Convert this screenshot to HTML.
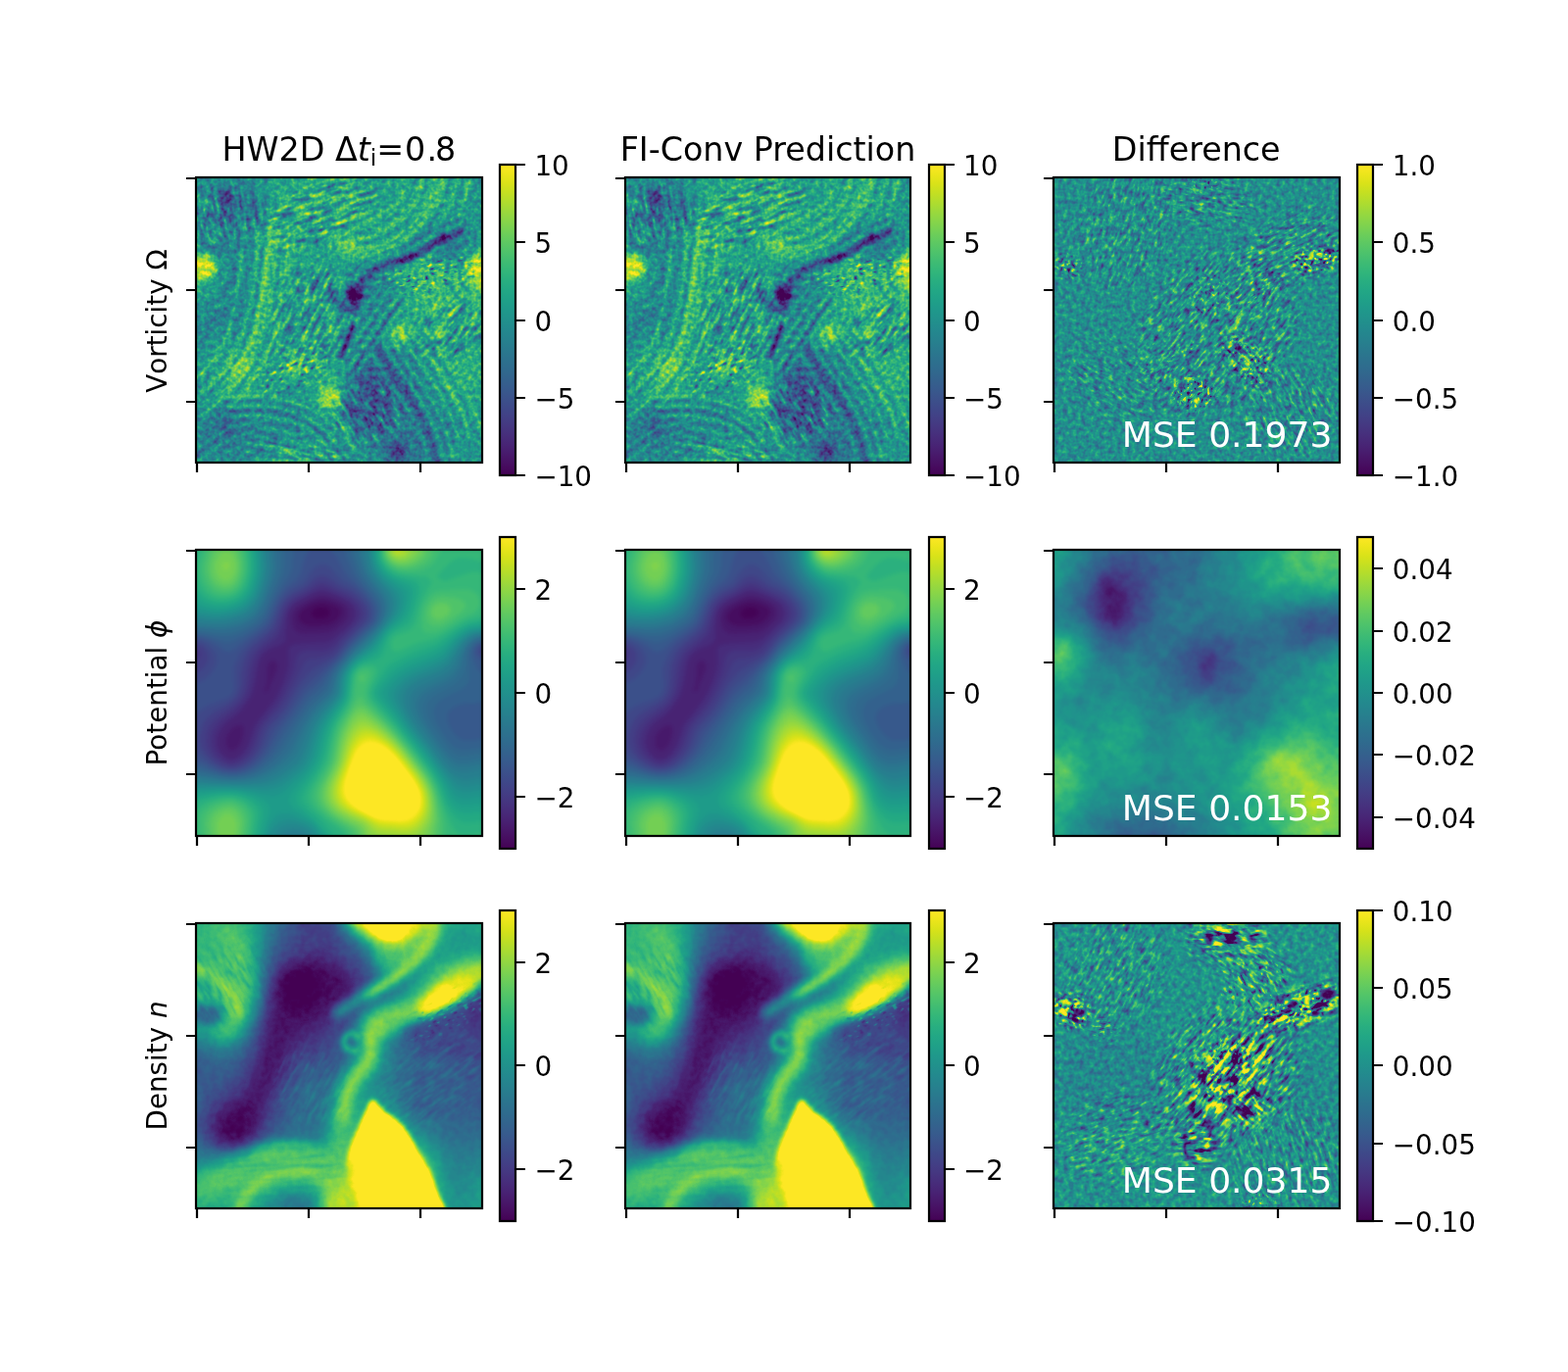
<!DOCTYPE html>
<html lang="en">
<head>
<meta charset="utf-8">
<title>HW2D vs FI-Conv Prediction</title>
<style>
html,body{margin:0;padding:0;background:#fff}
body{width:1600px;height:1400px;overflow:hidden}
svg{display:block}
text{font-family:"DejaVu Sans","Liberation Sans",sans-serif;fill:#000}
.t{font-size:33.33px}
.l{font-size:27.78px}
.m{font-size:36.11px;fill:#fff}
.i{font-style:italic}
.k{stroke:#000;stroke-width:2.222;fill:none}
</style>
</head>
<body>
<svg width="1600" height="1400" viewBox="0 0 1600 1400">
<defs>
<linearGradient id="vg" x1="0" y1="0" x2="0" y2="1"><stop offset="0%" stop-color="#fde725"/><stop offset="3.12%" stop-color="#ece51b"/><stop offset="6.25%" stop-color="#d8e219"/><stop offset="9.38%" stop-color="#c2df23"/><stop offset="12.5%" stop-color="#addc30"/><stop offset="15.62%" stop-color="#98d83e"/><stop offset="18.75%" stop-color="#84d44b"/><stop offset="21.88%" stop-color="#70cf57"/><stop offset="25%" stop-color="#5ec962"/><stop offset="28.12%" stop-color="#4ec36b"/><stop offset="31.25%" stop-color="#3fbc73"/><stop offset="34.38%" stop-color="#32b67a"/><stop offset="37.5%" stop-color="#28ae80"/><stop offset="40.62%" stop-color="#22a785"/><stop offset="43.75%" stop-color="#1fa088"/><stop offset="46.88%" stop-color="#1f988b"/><stop offset="50%" stop-color="#21918c"/><stop offset="53.12%" stop-color="#23898e"/><stop offset="56.25%" stop-color="#26828e"/><stop offset="59.38%" stop-color="#297a8e"/><stop offset="62.5%" stop-color="#2c728e"/><stop offset="65.62%" stop-color="#2f6b8e"/><stop offset="68.75%" stop-color="#33638d"/><stop offset="71.88%" stop-color="#375b8d"/><stop offset="75%" stop-color="#3b528b"/><stop offset="78.12%" stop-color="#3e4989"/><stop offset="81.25%" stop-color="#424086"/><stop offset="84.38%" stop-color="#453781"/><stop offset="87.5%" stop-color="#472d7b"/><stop offset="90.62%" stop-color="#482374"/><stop offset="93.75%" stop-color="#48186a"/><stop offset="96.88%" stop-color="#470d60"/><stop offset="100%" stop-color="#440154"/></linearGradient>
<filter id="cm" x="0" y="0" width="1400" height="1400" filterUnits="userSpaceOnUse" color-interpolation-filters="sRGB"><feComponentTransfer><feFuncR type="table" tableValues=".267 .267 .267 .267 .267 .267 .267 .267 .267 .271 .276 .280 .282 .283 .283 .282 .279 .275 .271 .265 .261 .252 .245 .237 .230 .222 .214 .207 .199 .192 .186 .181 .173 .167 .161 .155 .150 .143 .138 .132 .128 .123 .121 .119 .121 .125 .132 .143 .158 .176 .197 .220 .246 .274 .304 .336 .369 .404 .440 .478 .516 .555 .596 .637 .678 .720 .762 .804 .846 .886 .926 .965 .993 .993 .993 .993 .993 .993 .993 .993 .993"/><feFuncG type="table" tableValues=".005 .005 .005 .005 .005 .005 .005 .005 .005 .020 .044 .073 .095 .116 .136 .151 .175 .195 .214 .233 .247 .270 .288 .305 .322 .339 .356 .372 .388 .403 .419 .430 .449 .464 .479 .493 .504 .523 .537 .552 .567 .582 .596 .611 .626 .640 .655 .669 .684 .698 .712 .726 .739 .752 .765 .777 .789 .800 .811 .821 .831 .840 .849 .857 .864 .870 .876 .882 .887 .892 .897 .902 .906 .906 .906 .906 .906 .906 .906 .906 .906"/><feFuncB type="table" tableValues=".329 .329 .329 .329 .329 .329 .329 .329 .329 .347 .370 .397 .417 .436 .453 .465 .483 .496 .507 .517 .523 .532 .537 .542 .546 .549 .551 .553 .555 .556 .557 .557 .558 .558 .558 .558 .557 .556 .555 .553 .551 .547 .544 .539 .533 .527 .520 .511 .502 .491 .479 .466 .452 .437 .420 .402 .383 .363 .341 .318 .294 .269 .243 .217 .190 .163 .137 .115 .100 .095 .104 .124 .144 .144 .144 .144 .144 .144 .144 .144 .144"/></feComponentTransfer></filter>
<filter id="cmn1" x="0" y="0" width="1400" height="1400" filterUnits="userSpaceOnUse" color-interpolation-filters="sRGB"><feTurbulence type="fractalNoise" baseFrequency="0.014" numOctaves="3" seed="7" result="n"/><feColorMatrix in="n" type="matrix" values="1 0 0 0 0 1 0 0 0 0 1 0 0 0 0 0 0 0 0 1" result="g"/><feComposite in="SourceGraphic" in2="g" operator="arithmetic" k1="0" k2="1" k3="0.112" k4="-0.056"/><feComponentTransfer><feFuncR type="table" tableValues=".267 .267 .267 .267 .267 .267 .267 .267 .267 .271 .276 .280 .282 .283 .283 .282 .279 .275 .271 .265 .261 .252 .245 .237 .230 .222 .214 .207 .199 .192 .186 .181 .173 .167 .161 .155 .150 .143 .138 .132 .128 .123 .121 .119 .121 .125 .132 .143 .158 .176 .197 .220 .246 .274 .304 .336 .369 .404 .440 .478 .516 .555 .596 .637 .678 .720 .762 .804 .846 .886 .926 .965 .993 .993 .993 .993 .993 .993 .993 .993 .993"/><feFuncG type="table" tableValues=".005 .005 .005 .005 .005 .005 .005 .005 .005 .020 .044 .073 .095 .116 .136 .151 .175 .195 .214 .233 .247 .270 .288 .305 .322 .339 .356 .372 .388 .403 .419 .430 .449 .464 .479 .493 .504 .523 .537 .552 .567 .582 .596 .611 .626 .640 .655 .669 .684 .698 .712 .726 .739 .752 .765 .777 .789 .800 .811 .821 .831 .840 .849 .857 .864 .870 .876 .882 .887 .892 .897 .902 .906 .906 .906 .906 .906 .906 .906 .906 .906"/><feFuncB type="table" tableValues=".329 .329 .329 .329 .329 .329 .329 .329 .329 .347 .370 .397 .417 .436 .453 .465 .483 .496 .507 .517 .523 .532 .537 .542 .546 .549 .551 .553 .555 .556 .557 .557 .558 .558 .558 .558 .557 .556 .555 .553 .551 .547 .544 .539 .533 .527 .520 .511 .502 .491 .479 .466 .452 .437 .420 .402 .383 .363 .341 .318 .294 .269 .243 .217 .190 .163 .137 .115 .100 .095 .104 .124 .144 .144 .144 .144 .144 .144 .144 .144 .144"/></feComponentTransfer></filter>
<filter id="cmn2" x="0" y="0" width="1400" height="1400" filterUnits="userSpaceOnUse" color-interpolation-filters="sRGB"><feTurbulence type="fractalNoise" baseFrequency="0.03 0.03" numOctaves="2" seed="19" result="n"/><feColorMatrix in="n" type="matrix" values="1 0 0 0 0 1 0 0 0 0 1 0 0 0 0 0 0 0 0 1" result="g"/><feComposite in="SourceGraphic" in2="g" operator="arithmetic" k1="0" k2="1" k3="0.072" k4="-0.036"/><feComponentTransfer><feFuncR type="table" tableValues=".267 .267 .267 .267 .267 .267 .267 .267 .267 .271 .276 .280 .282 .283 .283 .282 .279 .275 .271 .265 .261 .252 .245 .237 .230 .222 .214 .207 .199 .192 .186 .181 .173 .167 .161 .155 .150 .143 .138 .132 .128 .123 .121 .119 .121 .125 .132 .143 .158 .176 .197 .220 .246 .274 .304 .336 .369 .404 .440 .478 .516 .555 .596 .637 .678 .720 .762 .804 .846 .886 .926 .965 .993 .993 .993 .993 .993 .993 .993 .993 .993"/><feFuncG type="table" tableValues=".005 .005 .005 .005 .005 .005 .005 .005 .005 .020 .044 .073 .095 .116 .136 .151 .175 .195 .214 .233 .247 .270 .288 .305 .322 .339 .356 .372 .388 .403 .419 .430 .449 .464 .479 .493 .504 .523 .537 .552 .567 .582 .596 .611 .626 .640 .655 .669 .684 .698 .712 .726 .739 .752 .765 .777 .789 .800 .811 .821 .831 .840 .849 .857 .864 .870 .876 .882 .887 .892 .897 .902 .906 .906 .906 .906 .906 .906 .906 .906 .906"/><feFuncB type="table" tableValues=".329 .329 .329 .329 .329 .329 .329 .329 .329 .347 .370 .397 .417 .436 .453 .465 .483 .496 .507 .517 .523 .532 .537 .542 .546 .549 .551 .553 .555 .556 .557 .557 .558 .558 .558 .558 .557 .556 .555 .553 .551 .547 .544 .539 .533 .527 .520 .511 .502 .491 .479 .466 .452 .437 .420 .402 .383 .363 .341 .318 .294 .269 .243 .217 .190 .163 .137 .115 .100 .095 .104 .124 .144 .144 .144 .144 .144 .144 .144 .144 .144"/></feComponentTransfer></filter>
<filter id="cmv" x="0" y="0" width="1400" height="1400" filterUnits="userSpaceOnUse" color-interpolation-filters="sRGB"><feTurbulence type="fractalNoise" baseFrequency="0.045 0.045" numOctaves="2" seed="11" result="n"/><feColorMatrix in="n" type="matrix" values="1 0 0 0 0 1 0 0 0 0 1 0 0 0 0 0 0 0 0 1" result="g"/><feComposite in="SourceGraphic" in2="g" operator="arithmetic" k1="0" k2="1" k3="0.4" k4="-0.2"/><feComponentTransfer><feFuncR type="table" tableValues=".267 .267 .267 .267 .267 .267 .267 .267 .267 .271 .276 .280 .282 .283 .283 .282 .279 .275 .271 .265 .261 .252 .245 .237 .230 .222 .214 .207 .199 .192 .186 .181 .173 .167 .161 .155 .150 .143 .138 .132 .128 .123 .121 .119 .121 .125 .132 .143 .158 .176 .197 .220 .246 .274 .304 .336 .369 .404 .440 .478 .516 .555 .596 .637 .678 .720 .762 .804 .846 .886 .926 .965 .993 .993 .993 .993 .993 .993 .993 .993 .993"/><feFuncG type="table" tableValues=".005 .005 .005 .005 .005 .005 .005 .005 .005 .020 .044 .073 .095 .116 .136 .151 .175 .195 .214 .233 .247 .270 .288 .305 .322 .339 .356 .372 .388 .403 .419 .430 .449 .464 .479 .493 .504 .523 .537 .552 .567 .582 .596 .611 .626 .640 .655 .669 .684 .698 .712 .726 .739 .752 .765 .777 .789 .800 .811 .821 .831 .840 .849 .857 .864 .870 .876 .882 .887 .892 .897 .902 .906 .906 .906 .906 .906 .906 .906 .906 .906"/><feFuncB type="table" tableValues=".329 .329 .329 .329 .329 .329 .329 .329 .329 .347 .370 .397 .417 .436 .453 .465 .483 .496 .507 .517 .523 .532 .537 .542 .546 .549 .551 .553 .555 .556 .557 .557 .558 .558 .558 .558 .557 .556 .555 .553 .551 .547 .544 .539 .533 .527 .520 .511 .502 .491 .479 .466 .452 .437 .420 .402 .383 .363 .341 .318 .294 .269 .243 .217 .190 .163 .137 .115 .100 .095 .104 .124 .144 .144 .144 .144 .144 .144 .144 .144 .144"/></feComponentTransfer></filter>
<filter id="cmd" x="0" y="0" width="1400" height="1400" filterUnits="userSpaceOnUse" color-interpolation-filters="sRGB"><feTurbulence type="fractalNoise" baseFrequency="0.045 0.045" numOctaves="2" seed="17" result="n"/><feColorMatrix in="n" type="matrix" values="1 0 0 0 0 1 0 0 0 0 1 0 0 0 0 0 0 0 0 1" result="g"/><feComposite in="SourceGraphic" in2="g" operator="arithmetic" k1="0" k2="1" k3="0.44" k4="-0.22"/><feComponentTransfer><feFuncR type="table" tableValues=".267 .267 .267 .267 .267 .267 .267 .267 .267 .271 .276 .280 .282 .283 .283 .282 .279 .275 .271 .265 .261 .252 .245 .237 .230 .222 .214 .207 .199 .192 .186 .181 .173 .167 .161 .155 .150 .143 .138 .132 .128 .123 .121 .119 .121 .125 .132 .143 .158 .176 .197 .220 .246 .274 .304 .336 .369 .404 .440 .478 .516 .555 .596 .637 .678 .720 .762 .804 .846 .886 .926 .965 .993 .993 .993 .993 .993 .993 .993 .993 .993"/><feFuncG type="table" tableValues=".005 .005 .005 .005 .005 .005 .005 .005 .005 .020 .044 .073 .095 .116 .136 .151 .175 .195 .214 .233 .247 .270 .288 .305 .322 .339 .356 .372 .388 .403 .419 .430 .449 .464 .479 .493 .504 .523 .537 .552 .567 .582 .596 .611 .626 .640 .655 .669 .684 .698 .712 .726 .739 .752 .765 .777 .789 .800 .811 .821 .831 .840 .849 .857 .864 .870 .876 .882 .887 .892 .897 .902 .906 .906 .906 .906 .906 .906 .906 .906 .906"/><feFuncB type="table" tableValues=".329 .329 .329 .329 .329 .329 .329 .329 .329 .347 .370 .397 .417 .436 .453 .465 .483 .496 .507 .517 .523 .532 .537 .542 .546 .549 .551 .553 .555 .556 .557 .557 .558 .558 .558 .558 .557 .556 .555 .553 .551 .547 .544 .539 .533 .527 .520 .511 .502 .491 .479 .466 .452 .437 .420 .402 .383 .363 .341 .318 .294 .269 .243 .217 .190 .163 .137 .115 .100 .095 .104 .124 .144 .144 .144 .144 .144 .144 .144 .144 .144"/></feComponentTransfer></filter>
<filter id="cmd2" x="0" y="0" width="1400" height="1400" filterUnits="userSpaceOnUse" color-interpolation-filters="sRGB"><feTurbulence type="fractalNoise" baseFrequency="0.04 0.04" numOctaves="2" seed="29" result="n"/><feColorMatrix in="n" type="matrix" values="1 0 0 0 0 1 0 0 0 0 1 0 0 0 0 0 0 0 0 1" result="g"/><feComposite in="SourceGraphic" in2="g" operator="arithmetic" k1="0" k2="1" k3="0.4" k4="-0.2"/><feComponentTransfer><feFuncR type="table" tableValues=".267 .267 .267 .267 .267 .267 .267 .267 .267 .271 .276 .280 .282 .283 .283 .282 .279 .275 .271 .265 .261 .252 .245 .237 .230 .222 .214 .207 .199 .192 .186 .181 .173 .167 .161 .155 .150 .143 .138 .132 .128 .123 .121 .119 .121 .125 .132 .143 .158 .176 .197 .220 .246 .274 .304 .336 .369 .404 .440 .478 .516 .555 .596 .637 .678 .720 .762 .804 .846 .886 .926 .965 .993 .993 .993 .993 .993 .993 .993 .993 .993"/><feFuncG type="table" tableValues=".005 .005 .005 .005 .005 .005 .005 .005 .005 .020 .044 .073 .095 .116 .136 .151 .175 .195 .214 .233 .247 .270 .288 .305 .322 .339 .356 .372 .388 .403 .419 .430 .449 .464 .479 .493 .504 .523 .537 .552 .567 .582 .596 .611 .626 .640 .655 .669 .684 .698 .712 .726 .739 .752 .765 .777 .789 .800 .811 .821 .831 .840 .849 .857 .864 .870 .876 .882 .887 .892 .897 .902 .906 .906 .906 .906 .906 .906 .906 .906 .906"/><feFuncB type="table" tableValues=".329 .329 .329 .329 .329 .329 .329 .329 .329 .347 .370 .397 .417 .436 .453 .465 .483 .496 .507 .517 .523 .532 .537 .542 .546 .549 .551 .553 .555 .556 .557 .557 .558 .558 .558 .558 .557 .556 .555 .553 .551 .547 .544 .539 .533 .527 .520 .511 .502 .491 .479 .466 .452 .437 .420 .402 .383 .363 .341 .318 .294 .269 .243 .217 .190 .163 .137 .115 .100 .095 .104 .124 .144 .144 .144 .144 .144 .144 .144 .144 .144"/></feComponentTransfer></filter>
<filter id="bc" x="-300" y="-300" width="2000" height="2000" filterUnits="userSpaceOnUse" color-interpolation-filters="sRGB"><feGaussianBlur stdDeviation="10"/></filter>
<filter id="b4" x="-300" y="-300" width="2000" height="2000" filterUnits="userSpaceOnUse" color-interpolation-filters="sRGB"><feGaussianBlur stdDeviation="4"/></filter>
<filter id="b8" x="-300" y="-300" width="2000" height="2000" filterUnits="userSpaceOnUse" color-interpolation-filters="sRGB"><feGaussianBlur stdDeviation="8"/></filter>
<filter id="b14" x="-300" y="-300" width="2000" height="2000" filterUnits="userSpaceOnUse" color-interpolation-filters="sRGB"><feGaussianBlur stdDeviation="14"/></filter>
<filter id="b22" x="-300" y="-300" width="2000" height="2000" filterUnits="userSpaceOnUse" color-interpolation-filters="sRGB"><feGaussianBlur stdDeviation="22"/></filter>
<filter id="b35" x="-300" y="-300" width="2000" height="2000" filterUnits="userSpaceOnUse" color-interpolation-filters="sRGB"><feGaussianBlur stdDeviation="35"/></filter>
<filter id="b55" x="-300" y="-300" width="2000" height="2000" filterUnits="userSpaceOnUse" color-interpolation-filters="sRGB"><feGaussianBlur stdDeviation="55"/></filter>
<filter id="s1" x="-0.6" y="-0.6" width="2.2" height="2.2" color-interpolation-filters="sRGB"><feTurbulence type="fractalNoise" baseFrequency="0.005 0.04" numOctaves="2" seed="3" result="n"/><feColorMatrix in="n" type="matrix" values="0 0 0 0 1 0 0 0 0 1 0 0 0 0 1 2.6 0 0 0 -1.3" result="w"/><feColorMatrix in="n" type="matrix" values="0 0 0 0 0 0 0 0 0 0 0 0 0 0 0 -2.6 0 0 0 1.3" result="b"/><feMerge result="wb"><feMergeNode in="w"/><feMergeNode in="b"/></feMerge><feGaussianBlur in="SourceAlpha" stdDeviation="40" result="m"/><feComposite in="wb" in2="m" operator="in"/></filter>
<filter id="s2" x="-0.6" y="-0.6" width="2.2" height="2.2" color-interpolation-filters="sRGB"><feTurbulence type="fractalNoise" baseFrequency="0.006 0.05" numOctaves="2" seed="8" result="n"/><feColorMatrix in="n" type="matrix" values="0 0 0 0 1 0 0 0 0 1 0 0 0 0 1 2.6 0 0 0 -1.3" result="w"/><feColorMatrix in="n" type="matrix" values="0 0 0 0 0 0 0 0 0 0 0 0 0 0 0 -2.6 0 0 0 1.3" result="b"/><feMerge result="wb"><feMergeNode in="w"/><feMergeNode in="b"/></feMerge><feGaussianBlur in="SourceAlpha" stdDeviation="40" result="m"/><feComposite in="wb" in2="m" operator="in"/></filter>
<filter id="s3" x="-0.6" y="-0.6" width="2.2" height="2.2" color-interpolation-filters="sRGB"><feTurbulence type="fractalNoise" baseFrequency="0.004 0.032" numOctaves="2" seed="21" result="n"/><feColorMatrix in="n" type="matrix" values="0 0 0 0 1 0 0 0 0 1 0 0 0 0 1 2.2 0 0 0 -1.1" result="w"/><feColorMatrix in="n" type="matrix" values="0 0 0 0 0 0 0 0 0 0 0 0 0 0 0 -2.2 0 0 0 1.1" result="b"/><feMerge result="wb"><feMergeNode in="w"/><feMergeNode in="b"/></feMerge><feGaussianBlur in="SourceAlpha" stdDeviation="40" result="m"/><feComposite in="wb" in2="m" operator="in"/></filter>
<filter id="s4" x="-0.6" y="-0.6" width="2.2" height="2.2" color-interpolation-filters="sRGB"><feTurbulence type="fractalNoise" baseFrequency="0.012 0.045" numOctaves="2" seed="5" result="n"/><feColorMatrix in="n" type="matrix" values="0 0 0 0 1 0 0 0 0 1 0 0 0 0 1 2.4 0 0 0 -1.2" result="w"/><feColorMatrix in="n" type="matrix" values="0 0 0 0 0 0 0 0 0 0 0 0 0 0 0 -2.4 0 0 0 1.2" result="b"/><feMerge result="wb"><feMergeNode in="w"/><feMergeNode in="b"/></feMerge><feGaussianBlur in="SourceAlpha" stdDeviation="40" result="m"/><feComposite in="wb" in2="m" operator="in"/></filter>
<filter id="k1" x="-0.6" y="-0.6" width="2.2" height="2.2" color-interpolation-filters="sRGB"><feTurbulence type="fractalNoise" baseFrequency="0.06 0.06" numOctaves="1" seed="4" result="n"/><feColorMatrix in="n" type="matrix" values="0 0 0 0 1 0 0 0 0 1 0 0 0 0 1 9 0 0 0 -5.4" result="w"/><feColorMatrix in="n" type="matrix" values="0 0 0 0 0 0 0 0 0 0 0 0 0 0 0 -9 0 0 0 3.6" result="b"/><feMerge result="wb"><feMergeNode in="w"/><feMergeNode in="b"/></feMerge><feGaussianBlur in="SourceAlpha" stdDeviation="30" result="m"/><feComposite in="wb" in2="m" operator="in"/></filter>
<filter id="k2" x="-0.6" y="-0.6" width="2.2" height="2.2" color-interpolation-filters="sRGB"><feTurbulence type="fractalNoise" baseFrequency="0.055 0.07" numOctaves="1" seed="9" result="n"/><feColorMatrix in="n" type="matrix" values="0 0 0 0 1 0 0 0 0 1 0 0 0 0 1 10 0 0 0 -5.6" result="w"/><feColorMatrix in="n" type="matrix" values="0 0 0 0 0 0 0 0 0 0 0 0 0 0 0 -10 0 0 0 4.4" result="b"/><feMerge result="wb"><feMergeNode in="w"/><feMergeNode in="b"/></feMerge><feGaussianBlur in="SourceAlpha" stdDeviation="25" result="m"/><feComposite in="wb" in2="m" operator="in"/></filter>
<filter id="k3" x="-0.6" y="-0.6" width="2.2" height="2.2" color-interpolation-filters="sRGB"><feTurbulence type="fractalNoise" baseFrequency="0.035 0.07" numOctaves="1" seed="13" result="n"/><feColorMatrix in="n" type="matrix" values="0 0 0 0 1 0 0 0 0 1 0 0 0 0 1 8 0 0 0 -4.8" result="w"/><feColorMatrix in="n" type="matrix" values="0 0 0 0 0 0 0 0 0 0 0 0 0 0 0 -8 0 0 0 3.2" result="b"/><feMerge result="wb"><feMergeNode in="w"/><feMergeNode in="b"/></feMerge><feGaussianBlur in="SourceAlpha" stdDeviation="35" result="m"/><feComposite in="wb" in2="m" operator="in"/></filter>
<filter id="m1" x="-0.6" y="-0.6" width="2.2" height="2.2" color-interpolation-filters="sRGB"><feTurbulence type="fractalNoise" baseFrequency="0.02 0.06" numOctaves="2" seed="31" result="n"/><feColorMatrix in="n" type="matrix" values="0 0 0 0 1 0 0 0 0 1 0 0 0 0 1 5 0 0 0 -2.65" result="w"/><feColorMatrix in="n" type="matrix" values="0 0 0 0 0 0 0 0 0 0 0 0 0 0 0 -5 0 0 0 2.35" result="b"/><feMerge result="wb"><feMergeNode in="w"/><feMergeNode in="b"/></feMerge><feGaussianBlur in="SourceAlpha" stdDeviation="45" result="m"/><feComposite in="wb" in2="m" operator="in"/></filter>
<filter id="m2" x="-0.6" y="-0.6" width="2.2" height="2.2" color-interpolation-filters="sRGB"><feTurbulence type="fractalNoise" baseFrequency="0.02 0.06" numOctaves="2" seed="37" result="n"/><feColorMatrix in="n" type="matrix" values="0 0 0 0 1 0 0 0 0 1 0 0 0 0 1 5 0 0 0 -2.65" result="w"/><feColorMatrix in="n" type="matrix" values="0 0 0 0 0 0 0 0 0 0 0 0 0 0 0 -5 0 0 0 2.35" result="b"/><feMerge result="wb"><feMergeNode in="w"/><feMergeNode in="b"/></feMerge><feGaussianBlur in="SourceAlpha" stdDeviation="45" result="m"/><feComposite in="wb" in2="m" operator="in"/></filter>
<filter id="c1" x="-0.6" y="-0.6" width="2.2" height="2.2" color-interpolation-filters="sRGB"><feTurbulence type="fractalNoise" baseFrequency="0.012 0.04" numOctaves="2" seed="41" result="n"/><feColorMatrix in="n" type="matrix" values="0 0 0 0 1 0 0 0 0 1 0 0 0 0 1 7 0 0 0 -3.78" result="w"/><feColorMatrix in="n" type="matrix" values="0 0 0 0 0 0 0 0 0 0 0 0 0 0 0 -7 0 0 0 3.22" result="b"/><feMerge result="wb"><feMergeNode in="w"/><feMergeNode in="b"/></feMerge><feGaussianBlur in="SourceAlpha" stdDeviation="35" result="m"/><feComposite in="wb" in2="m" operator="in"/></filter>
<filter id="c2" x="-0.6" y="-0.6" width="2.2" height="2.2" color-interpolation-filters="sRGB"><feTurbulence type="fractalNoise" baseFrequency="0.012 0.04" numOctaves="2" seed="43" result="n"/><feColorMatrix in="n" type="matrix" values="0 0 0 0 1 0 0 0 0 1 0 0 0 0 1 7 0 0 0 -3.78" result="w"/><feColorMatrix in="n" type="matrix" values="0 0 0 0 0 0 0 0 0 0 0 0 0 0 0 -7 0 0 0 3.22" result="b"/><feMerge result="wb"><feMergeNode in="w"/><feMergeNode in="b"/></feMerge><feGaussianBlur in="SourceAlpha" stdDeviation="35" result="m"/><feComposite in="wb" in2="m" operator="in"/></filter>
</defs>
<rect width="1600" height="1400" fill="#fff"/>
<!-- panel r0 c0 -->
<svg x="200" y="180.65" width="291.76" height="291.76" viewBox="0 0 1400 1400" preserveAspectRatio="none" overflow="hidden"><g id="P00"><g filter="url(#cmv)"><g filter="url(#bc)"><rect x="-70" y="-70" width="1540" height="1540" fill="#0a0a0a"/><g transform="scale(14)"><path fill="#141414" d="M-3-3l106 0 0 106-106 0z"/><path fill="#1f1f1f" d="M-3-3l106 0 0 106-106 0z"/><path fill="#292929" d="M-3-3l106 0 0 106-106 0z"/><path fill="#333333" d="M-3-3l106 0 0 106-106 0z"/><path fill="#3d3d3d" d="M-3-3l106 0 0 106-106 0z"/><path fill="#474747" d="M-3-3l106 0 0 106-106 0z"/><path fill="#525252" d="M-3-3l106 0 0 106-106 0z"/><path fill="#5c5c5c" d="M-3-3l106 0 0 106-106 0z"/><path fill="#666666" d="M-3-3l106 0 0 106-106 0zM63.8 74.4l-0.2 2.2 0.2 0.9 0.9 1.2 1.3 1.2 2.1-0.7 1.3-2.6-0.6-2.1-0.7-0.7-2.1-0.5z"/><path fill="#707070" d="M-3-3l106 0 0 106-28.4 0-0.1-5.1-0.3 5.1-77.2 0zM8.5 12l-0.4 0.8 0.1 2.1 0.3 0.6 2.1 0.7 1-1.3 0.7-2.1-1.7-2zM66 67.9l-2.2 0.8-2.1 2.2-1.2 3.6-0.2 2.1 0.4 4.3 1 4.9 0.8 1.4 1.3 1.4 2.2 0.8 2.1-0.4 2.1-2.6 3.7-5.5 0.8-2.2 0.3-2.1-0.5-3-2.2-3.3-2.1-1.5-2.1-0.8zM85.1 22.6l-0.8 0.8 0.3 2.1 2.6 0.8 1.7-0.8 0.7-2.1-0.2-0.4-2.2-1.2zM10.6 88.5l-0.9 0.9 0.5 2.1 0.4 0.3 2.2 0 0.4-0.3 1-2.1-1.4-1.5z"/><path fill="#7a7a7a" d="M-3-3l106 0 0 106-22.9 0 1.2-9.4 1.6-4.2-2.2-2.2-1.4-2.1-0.8-8.5-1-4.3-0.9-2.1-1.4-2.1-2.9-2.8-4.2-2.1-2.1-0.3-2.2 0.4-2.1 1.3-2.1 3.4-1.3 6.5-0.4 10.6 0.2 2.1 1.5 3.4 4.7 5.1 2.8 7.3-70.1 0 0-48.9 5.1-0.5 2.2-1.6 6.3-2.4 0.8-0.7 0.1-2.1-0.9-1.4-2.1 1.1-4.2 3.8-3 0.8-4.3 1.4zM6.4 4l-2.1 1.8-2.2 2.8-0.8 2-0.3 2.2 0.3 2.1 0.8 2.3 2.5 4.1 3.9 4.3 2.1 1.4 2.2-0.7 1.4-2.9 3.1-8.5 0.4-2.1 0-2.2-0.6-2.1-1.1-2.1-1.1-1.5-2.1-1.8-2.2-0.6-2.1 0.3zM59.6 35.9l-2.2 2.4-0.4 2.1 0.4 2.2 2.2 3.5 2.1 1.2 2.1-2.1 1.8-4.8 0-2.1-1.1-2.1-0.7-0.5-2.1-0.4zM87.2 18.9l-2.1 0.3-2.1 1-1.5 1.1-1.6 2.1 0 2.1 2 2.2 3.2 0.9 2.1 0 2.7-0.9 2.2-2.2 0.8-2.1-0.2-2.1-1.2-1.5-1.3-0.7zM6.4 85l-4.1 2.2-0.9 2.2 0.4 2.1 1.3 2.1 2.1 2.1 3.3 2.1 2.1 0.4 2.2-0.2 2.1-0.9 2.1-1.6 1.9-1.9 1.6-2.1 0.7-2.1-0.5-2.2-3.4-2.1-4.5-0.9-2.2 0.1z"/><path fill="#858585" d="M-3-3l5.9 0-5.9 6.1zM17.3-3l85.7 0 0 106-19.1 0 1.2-5.8 2.1-2.1 2.3-1.5 2-2.1 0.6-2.1-0.3-2.2-1.3-2.1-5.4-3.7-2.1-2.1-1.3-2.7-2.5-8.5-1.1-2.1-1.5-2-2.1-1.9-5.8-4.7-1.3-2.1-0.5-2.1 0-2.1 1.6-10.7-0.1-4.2-1.2-2.2-1.2-0.7-2.2-0.6-4.2 0.2-3.4 1.1-2.6 2.2-1.1 2.1-0.4 2.1 0.5 2.2 3 6.3 1 4.3 0 2.1-1 6.4 0.8 8.5 0 4.3-0.5 4.2-1.3 6.4-0.2 2.1 0.2 2.2 0.8 2.1 1.4 2.1 5.6 9.4-45 0 8.1-9.7 4.3-2.3 5.1-1.6 1.3-0.8 1.2-1.4-0.1-2.1-1.1-2.5-2.2-2.2-2.1-0.4-6.4 1.4-4.2 0.5-14.9-0.3-9.4-0.6 0-17.3 6.1-4.1 2.2-2.2 3.2-2.2 4.3-2.1 2.2-2 0.9-2.2 0.3-2.1 0.2-4.2-0.8-10.7 0.2-2.1 2.4-8.5 2.8-6.4 0.6-2.1 0.2-2.2-0.9-4.2zM85.1 16.8l-2.1 0.6-3.3 1.7-3.1 3-1 1.3-0.6 2.1 0.7 2.2 0.9 0.7 2.1 1.1 2.2 0.6 4.2 0.5 2.1-0.2 2.2-0.5 2.1-1.1 1.5-1.1 1.9-2.2 1.1-2.1 0.7-2.1 0.1-2.2-1.1-2.1-2.1-0.8-2.1-0.2zM-3 21.3l10 8.5 1 2.1 0.4 2.1-0.3 4.3-0.6 2.1-1.3 2.2-2 2.1-7.2 2.5zM-3 97.9l0-0.3 6.2 5.4-6.2 0z"/><path fill="#8f8f8f" d="M22.7-3l38.1 0 0.9 4.6 2.1 1.1 2.2-0.3 3.8-5.4 25.7 0 0.4 7.3-0.2 2.1-0.7 2.1-1.7 2.1-3 2.2-9.4 2.7-4.3 2.4-1.7 1.2-1.9 2.2-3.1 6.4-1.8 1.6-2.1 0.6-8.6 0.6-8.5 1.3-6.3 0.1-2.2 0.7-2.1 1.8-1.2 1.8-1 2.1-2.1 8.1-0.2 2.5 0.5 2.2 1.8 2.1 2.2 0.7 2.1-0.1 2-0.6 2.2-2.1 2.2-2.9 2.1-0.5 1.9 1.2 0.7 2.2-0.4 1.9-2.3 4.4-0.3 2.2 0.1 2.1 1.2 2.1 3.4 4.7 1.1 3.8-0.1 4.3-1 3.6-2.1 3.6-2.2 2.3-2.1 0.7-2.1-1.6-2.1-2.7-4.3-7.9-2.1-1.5-2.2-0.6-2.1 0-2.1 0.6-5.5 3.5-3 1.4-2.2 0.8-4.2 0.7-4.3-0.1-4.2-1-3.6-1.8-1.8-2.1-0.5-2.2 0.3-2.1 1.8-4.2 2.6-4.3 3.3-3.4 6.4-3.3 2.1-1.7 1.4-2.2 0.6-2.2 0.4-4.2-0.6-12.8 0.7-6.4 1.8-4.7 3.6-5.9 0.9-2.1 0.3-2.2-0.6-4.2zM99.7 23.4l3.3-0.5 0 67.1-7.8-7-3.3-2.1-4.7-2.3-2.1-2-0.9-2.1-1.7-8.5-0.8-2.2-1.5-2.1-5.7-4.5-2.2-2-1.2-2-0.7-2.1-0.2-2.2 1.2-10.6 0.5-2.1 0.9-2.2 1.7-1.1 2.1-0.3 8.5-0.2 4.3-0.8 2.1-0.8 2.1-1.2 2.4-1.9zM-3 27.7l0-1.9 6.6 4 1.3 2.1 0.7 2.1 0.2 2.2-0.3 2.1-0.9 2.1-1.7 2.2-5.9 1.9zM40.8 93.6l3.9-1.7 2.1-0.4 2.1 1 7.5 10.5-33.7 0 2.8-5.1 2.2-0.9z"/><path fill="#999999" d="M34.9 2.1l2.3-5.1 17.9 0 0.8 9.4 0.6 2.1 1.6 2.1 3.6 1.7 2.1 0 2.2-0.8 6.3-5 10.2-9.5 4.9 0 1.2 5.1 0.3 2.2-0.3 2.1-1.4 2.4-2.1 1.3-4.2 1.4-9.8 5.5-1.6 2.1-1.7 4.3-1.2 2.1-2.8 1.8-2.1 0.4-2.1-0.1-4.3-0.8-4.1-1.3-6.5-2.9-2.1-0.4-2.2 0-2.1 0.4-1.1 0.8-1.5 2.1-5.4 17.1-1 4.2-0.4 6.4-0.6 2.1-0.6 1.1-2.2 1.1-2 2.1-0.2 2.1 1 4.3 0 2.1-0.7 2.1-1.2 2.1-2.1 2.2-3.3 1.8-2.1 0.7-2.1 0.2-3.2-0.6-3.2-2.1-1.2-2.2-0.3-2.1 1-4.2 2.5-4.3 2.2-1.9 2.2-1.1 6.3-1.5 2.2-1 0.7-0.9 1-10.6-1.3-8.5 0-6.4 0.5-4.3 1.2-3 5-5.5 1.3-2.1 0.9-2.1 1.6-6.4 0.9-2.1zM99.7 27.7l3.3-0.3 0 19.5-5.1 0.4-3.6 1.6-3.2 2.2-3.9 3.2-2.1 1-2.1 0.3-4.3-0.8-2.1-1-2.1-1.8-0.6-0.9-0.6-2.2 0.4-6.3 0.9-4.3 2-2.1 2.1-0.7 12.8-2.7 4.2-2.2zM-3 29.8l5.1 2.2 1 2 0.4 2.2-0.3 2.1-1.1 1.9-5.1 1.8zM33.3 59.6l2.9-0.5 2.1 0.2 2.1 0.8 1.7 1.6 3 4.3 3.8 2.7 1.6 1.5 1.3 2.1 0.5 2.2-0.3 2.1-0.9 1.8-2.2 1.6-2.1-0.1-2.1-1.6-4.3-8.5-2.1-1.6-4.1-2.2-1.9-2.2-0.4-2.1zM95.9 59.6l7.1-0.2 0 13.4-7.3 1.8-2.1 0.5-2.1 0.1-2.1-0.5-1.3-2.4 0-2.1 1.3-6.2 2.1-3.1 2.1-0.9zM37.7 103l4.9-3.3 3.1 3.3z"/><path fill="#a3a3a3" d="M27.2 27.7l0.5-1.4 0.2 1.4-0.2 0.8zM98.1 31.9l4.9-1 0 13-8.1 0.8-11.9 3.6-2.1 0.4-2.2-0.8-0.7-1.1-0.3-2.1 0.2-2.1 0.7-2.2 2.3-1.9 5.3-2.3 5.3-1 2.1-0.9zM-3 34l0-0.4 3.3 0.4 0.8 2.2-0.4 2.1-3.7 0.9zM12.7 61.7l2.2-0.2 2.1 1.1 1 1.2 0.7 2.2 0.1 2.1-0.7 2.1-1.5 2.1-1.7 1.2-2.1 0.6-2.2-1-0.7-0.8-0.9-2.1-0.1-2.1 0.5-2.1 0.9-2.2z"/><path fill="#adadad" d="M97 36.2l6-1.6 0 5.8-5.1-0.1-2.2-1.1-0.7-0.9z"/></g></g><g><g fill="none" stroke-linecap="round" stroke-linejoin="round" filter="url(#b22)"><ellipse cx="30" cy="440" rx="80" ry="60" fill="#dbdbdb" stroke="none"/><ellipse cx="1385" cy="450" rx="55" ry="80" fill="#dbdbdb" stroke="none"/></g><g fill="none" stroke-linecap="round" stroke-linejoin="round" filter="url(#b35)"><ellipse cx="1150" cy="470" rx="150" ry="60" fill="#acacac" stroke="none" fill-opacity="0.8"/></g><g fill="none" stroke-linecap="round" stroke-linejoin="round" filter="url(#b22)"><ellipse cx="1000" cy="770" rx="60" ry="50" fill="#c7c7c7" stroke="none"/><ellipse cx="660" cy="1080" rx="55" ry="50" fill="#d5d5d5" stroke="none"/><ellipse cx="490" cy="920" rx="70" ry="40" fill="#bdbdbd" stroke="none" transform="rotate(-30 490 920)"/><ellipse cx="220" cy="930" rx="60" ry="50" fill="#bdbdbd" stroke="none"/><ellipse cx="750" cy="340" rx="60" ry="40" fill="#bdbdbd" stroke="none"/></g><g fill="none" stroke-linecap="round" stroke-linejoin="round" filter="url(#b35)"><ellipse cx="840" cy="1090" rx="110" ry="170" fill="#4a4a4a" stroke="none" fill-opacity="0.85"/></g><g fill="none" stroke-linecap="round" stroke-linejoin="round" filter="url(#b22)"><ellipse cx="160" cy="1200" rx="50" ry="70" fill="#535353" stroke="none"/></g><g fill="none" stroke-linecap="round" stroke-linejoin="round"><ellipse cx="560" cy="680" rx="260" ry="200" fill="#000" stroke="none" filter="url(#s4)" transform="rotate(-63 560 680)" opacity="0.7"/><ellipse cx="600" cy="180" rx="300" ry="150" fill="#000" stroke="none" filter="url(#s4)" transform="rotate(-20 600 180)" opacity="0.75"/><ellipse cx="1150" cy="480" rx="230" ry="80" fill="#000" stroke="none" filter="url(#k3)" transform="rotate(-10 1150 480)" opacity="0.8"/><ellipse cx="130" cy="200" rx="160" ry="200" fill="#000" stroke="none" filter="url(#s4)" transform="rotate(80 130 200)" opacity="0.7"/><ellipse cx="1250" cy="750" rx="180" ry="150" fill="#000" stroke="none" filter="url(#s4)" transform="rotate(-50 1250 750)" opacity="0.7"/><ellipse cx="480" cy="940" rx="200" ry="100" fill="#000" stroke="none" filter="url(#k3)" transform="rotate(-30 480 940)" opacity="0.7"/><ellipse cx="850" cy="1150" rx="160" ry="200" fill="#000" stroke="none" filter="url(#s4)" transform="rotate(60 850 1150)" opacity="0.7"/><ellipse cx="500" cy="1340" rx="300" ry="80" fill="#000" stroke="none" filter="url(#s4)" transform="rotate(10 500 1340)" opacity="0.7"/></g><g fill="none" stroke-linecap="round" stroke-linejoin="round" filter="url(#b4)"><path d="M457 245C453 281 445 391 436 461C428 532 419 602 405 669C391 737 375 805 350 866C324 928 288 986 251 1037C214 1087 149 1148 129 1171" stroke="#d3d3d3" stroke-width="11.6" stroke-opacity="0.55" stroke-dasharray="91 9 49 9 109 39 113 28"/><path d="M424 244C421 279 412 388 404 457C395 527 387 596 373 662C359 728 344 795 319 854C295 913 260 968 225 1017C189 1066 126 1125 106 1146" stroke="#555555" stroke-width="10.1" stroke-opacity="0.55" stroke-dasharray="191 9 110 25 128 16 161 36"/><path d="M392 242C389 277 380 385 372 454C363 523 355 591 341 656C328 721 313 784 290 841C266 898 233 951 199 998C165 1045 119 1091 85 1122C51 1154 11 1175-4 1185" stroke="#bebebe" stroke-width="12.3" stroke-opacity="0.55" stroke-dasharray="201 8 196 24 43 21 167 14"/><path d="M342-21C341 22 339 161 334 238C329 316 322 379 314 447C306 514 298 582 285 644C272 706 258 766 236 819C214 872 184 920 152 963C121 1007 78 1050 46 1079C15 1108-22 1127-35 1137" stroke="#545454" stroke-width="11.6" stroke-opacity="0.55" stroke-dasharray="165 18 120 33 183 24 82 24"/><path d="M310 237C307 271 299 377 290 444C282 511 274 579 261 640C248 701 235 759 214 810C193 862 164 907 133 949C103 991 60 1033 30 1061C0 1089-35 1107-48 1116" stroke="#b1b1b1" stroke-width="15.3" stroke-opacity="0.55" stroke-dasharray="192 37 106 25 211 15 111 31"/><path d="M280-22C279 21 277 158 272 235C268 312 261 373 253 439C245 505 236 573 224 632C212 691 199 747 179 796C159 845 132 887 103 926C74 966 33 1007 5 1033C-24 1059-57 1076-69 1085" stroke="#656565" stroke-width="16.3" stroke-opacity="0.55" stroke-dasharray="155 20 59 33 164 14 154 20"/><path d="M237 233C234 267 226 370 218 435C210 500 201 567 190 625C178 683 166 735 146 782C127 829 102 868 75 906C47 943-3 990-19 1007" stroke="#c5c5c5" stroke-width="14.2" stroke-opacity="0.55" stroke-dasharray="209 12 218 30 170 35 185 20"/></g><g fill="none" stroke-linecap="round" stroke-linejoin="round" filter="url(#b8)"><path d="M362 240C359 275 350 382 342 450C334 518 325 587 312 650C299 713 285 775 262 830C239 885 190 955 175 980" stroke="#bdbdbd" stroke-width="22" stroke-opacity="0.9"/></g><g fill="none" stroke-linecap="round" stroke-linejoin="round" filter="url(#b4)"><path d="M1341 15C1332 43 1316 130 1288 187C1259 243 1217 308 1170 356C1123 403 1059 442 1005 471C951 500 873 519 847 528" stroke="#c8c8c8" stroke-width="11.2" stroke-opacity="0.55" stroke-dasharray="112 37 40 37 115 18 153 39"/><path d="M1307 6C1298 33 1283 118 1256 172C1229 226 1190 286 1146 331C1101 375 1041 412 990 440C938 467 861 486 836 495" stroke="#616161" stroke-width="10.5" stroke-opacity="0.55" stroke-dasharray="53 24 194 16 189 23 65 25"/><path d="M1283-1C1275 26 1260 109 1234 162C1208 214 1171 271 1129 314C1086 357 1029 392 979 418C929 444 854 463 828 472" stroke="#c5c5c5" stroke-width="15.2" stroke-opacity="0.55" stroke-dasharray="50 37 40 36 75 23 101 22"/><path d="M1249-10C1241 16 1226 97 1201 147C1177 196 1143 249 1103 288C1063 328 1010 361 963 386C915 411 842 429 817 438" stroke="#565656" stroke-width="10.9" stroke-opacity="0.55" stroke-dasharray="111 30 146 30 172 8 130 9"/><path d="M1181-28C1174-3 1159 73 1138 117C1117 162 1088 204 1054 239C1019 273 975 301 932 323C889 345 818 363 796 371" stroke="#b7b7b7" stroke-width="17.5" stroke-opacity="0.55" stroke-dasharray="79 19 148 21 199 29 102 33"/><path d="M1148-36C1141-13 1127 61 1107 103C1087 145 1062 183 1030 215C998 246 957 272 916 293C876 313 807 331 785 339" stroke="#5b5b5b" stroke-width="10" stroke-opacity="0.55" stroke-dasharray="188 31 81 25 196 18 130 23"/><path d="M1125-42C1118-20 1104 53 1085 93C1066 133 1043 168 1013 198C983 227 945 251 906 271C867 291 799 309 778 316" stroke="#bababa" stroke-width="13.7" stroke-opacity="0.55" stroke-dasharray="189 27 43 31 140 24 128 26"/><path d="M1089-52C1083-30 1069 40 1052 78C1034 115 1014 145 987 171C960 198 926 220 889 238C853 256 787 274 766 281" stroke="#5a5a5a" stroke-width="10" stroke-opacity="0.55" stroke-dasharray="161 38 74 17 218 22 174 16"/><path d="M1055-61C1049-40 1035 28 1020 63C1004 98 986 123 962 147C938 171 908 190 874 207C839 224 775 241 756 248" stroke="#a9a9a9" stroke-width="13.4" stroke-opacity="0.55" stroke-dasharray="69 14 164 29 84 24 51 25"/></g><g fill="none" stroke-linecap="round" stroke-linejoin="round" filter="url(#b8)"><path d="M1210-20C1202 5 1188 83 1165 130C1142 177 1112 223 1075 260C1038 297 990 327 945 350C900 373 828 392 805 400" stroke="#b5b5b5" stroke-width="20" stroke-opacity="0.85"/></g><g fill="none" stroke-linecap="round" stroke-linejoin="round" filter="url(#b14)"><path d="M1300 262C1280 271 1222 297 1180 318C1138 339 1092 369 1050 388C1008 407 963 416 930 430C897 444 872 453 850 470C828 487 808 520 800 530" stroke="#2e2e2e" stroke-width="30" stroke-dasharray="150 25 120 20 200 30"/><ellipse cx="1210" cy="300" rx="40" ry="22" fill="#1e1e1e" stroke="none" transform="rotate(-25 1210 300)"/><ellipse cx="1030" cy="400" rx="45" ry="22" fill="#1e1e1e" stroke="none" transform="rotate(-20 1030 400)"/></g><g fill="none" stroke-linecap="round" stroke-linejoin="round" filter="url(#b4)"><path d="M1315 295C1295 304 1238 329 1196 350C1155 371 1107 402 1065 421C1022 440 975 451 943 464C911 476 884 492 872 498" stroke="#a4a4a4" stroke-width="11.1" stroke-opacity="0.55" stroke-dasharray="76 18 171 10 85 37 74 19"/><path d="M1286 231C1266 241 1206 267 1165 288C1123 309 1077 339 1036 357C995 375 952 384 918 398C883 413 853 425 829 443C805 462 782 499 773 510" stroke="#a2a2a2" stroke-width="16.8" stroke-opacity="0.55" stroke-dasharray="115 15 148 27 216 37 200 11"/><path d="M1276 209C1255 219 1195 245 1154 266C1112 287 1067 317 1026 335C986 353 944 361 909 376C873 391 840 405 814 425C788 444 764 483 754 495" stroke="#555555" stroke-width="12.7" stroke-opacity="0.55" stroke-dasharray="152 34 131 23 58 20 176 38"/></g><g fill="none" stroke-linecap="round" stroke-linejoin="round" filter="url(#b14)"><ellipse cx="775" cy="580" rx="40" ry="45" fill="#0f0f0f" stroke="none"/><path d="M790 640C780 642 745 655 730 650C715 645 705 617 700 610" stroke="#383838" stroke-width="26"/></g><g fill="none" stroke-linecap="round" stroke-linejoin="round" filter="url(#b4)"><path d="M1041 631C1028 650 989 702 962 740C936 778 910 820 883 859C856 899 816 956 802 975" stroke="#606060" stroke-width="10.9" stroke-opacity="0.65" stroke-dasharray="105 9 50 25 89 22 81 8"/><path d="M1024 618C1010 637 971 689 944 727C918 766 891 808 865 847C838 886 798 943 784 962" stroke="#b7b7b7" stroke-width="11.8" stroke-opacity="0.65" stroke-dasharray="211 8 60 10 113 37 184 29"/><path d="M1004 604C991 622 951 675 925 714C898 752 872 794 845 833C818 873 778 930 765 949" stroke="#2d2d2d" stroke-width="12.4" stroke-opacity="0.65" stroke-dasharray="210 20 52 31 134 30 73 14"/><path d="M985 590C972 608 932 662 905 700C878 738 852 781 825 820C798 859 758 916 745 935" stroke="#b1b1b1" stroke-width="14.7" stroke-opacity="0.65" stroke-dasharray="181 19 100 38 119 24 52 25"/><path d="M966 576C952 594 912 648 885 686C859 725 832 767 805 807C778 846 739 902 725 921" stroke="#616161" stroke-width="17" stroke-opacity="0.65" stroke-dasharray="96 12 199 33 129 23 212 23"/><path d="M946 562C933 580 892 634 866 673C839 711 812 754 785 793C759 832 719 888 706 908" stroke="#b0b0b0" stroke-width="11.3" stroke-opacity="0.65" stroke-dasharray="101 8 187 39 111 38 181 29"/><path d="M927 547C913 566 873 620 846 659C819 698 792 740 765 780C739 819 699 875 686 894" stroke="#6b6b6b" stroke-width="10.1" stroke-opacity="0.65" stroke-dasharray="46 34 52 15 68 34 72 8"/><path d="M908 533C894 552 853 606 826 645C799 684 772 727 746 766C719 805 680 861 666 880" stroke="#9e9e9e" stroke-width="14.4" stroke-opacity="0.65" stroke-dasharray="42 26 207 14 80 39 87 19"/></g><g fill="none" stroke-linecap="round" stroke-linejoin="round" filter="url(#b8)"><path d="M770 730C765 742 749 775 740 800C731 825 719 867 715 880" stroke="#1e1e1e" stroke-width="22"/></g><g fill="none" stroke-linecap="round" stroke-linejoin="round" filter="url(#b14)"><path d="M885 830C898 852 937 917 965 960C993 1003 1029 1047 1055 1090C1081 1133 1104 1180 1122 1220C1140 1260 1152 1295 1162 1330C1172 1365 1179 1413 1182 1430" stroke="#424242" stroke-width="30" stroke-opacity="0.9"/></g><g fill="none" stroke-linecap="round" stroke-linejoin="round" filter="url(#b4)"><path d="M834 861C847 883 887 950 915 993C943 1036 978 1079 1004 1121C1029 1163 1050 1207 1067 1244C1084 1282 1098 1329 1104 1346" stroke="#585858" stroke-width="13.2" stroke-opacity="0.55" stroke-dasharray="218 29 147 23 55 28 185 16"/><path d="M854 849C868 871 907 936 935 980C963 1023 999 1066 1024 1109C1050 1151 1072 1196 1089 1235C1106 1273 1118 1306 1127 1340C1137 1373 1143 1420 1147 1436" stroke="#949494" stroke-width="17.7" stroke-opacity="0.55" stroke-dasharray="72 15 85 30 201 39 145 36"/><path d="M916 811C929 833 967 897 995 940C1023 984 1059 1027 1086 1071C1112 1115 1136 1164 1155 1205C1173 1247 1186 1284 1197 1320C1207 1357 1214 1406 1217 1424" stroke="#b0b0b0" stroke-width="13.1" stroke-opacity="0.55" stroke-dasharray="55 31 164 10 133 14 133 39"/><path d="M936 799C949 820 987 884 1015 927C1043 970 1079 1014 1106 1059C1133 1104 1158 1153 1177 1196C1196 1238 1209 1277 1220 1314C1231 1351 1238 1402 1241 1419" stroke="#555555" stroke-width="14.4" stroke-opacity="0.55" stroke-dasharray="140 12 47 33 92 38 86 37"/><path d="M957 786C970 808 1007 870 1035 914C1063 957 1099 1001 1127 1046C1154 1092 1179 1142 1199 1186C1218 1230 1232 1269 1243 1308C1254 1346 1261 1397 1265 1415" stroke="#b2b2b2" stroke-width="11.6" stroke-opacity="0.55" stroke-dasharray="108 23 171 15 173 37 201 36"/><path d="M977 774C990 795 1027 857 1055 901C1084 944 1120 988 1147 1034C1175 1080 1201 1132 1221 1176C1241 1221 1259 1280 1266 1301" stroke="#606060" stroke-width="12.6" stroke-opacity="0.55" stroke-dasharray="212 25 43 32 74 25 116 24"/><path d="M1000 760C1013 781 1049 842 1078 886C1106 929 1142 973 1170 1020C1198 1066 1225 1120 1245 1165C1266 1211 1284 1273 1292 1294" stroke="#c4c4c4" stroke-width="10.5" stroke-opacity="0.55" stroke-dasharray="74 22 62 13 103 30 98 34"/><path d="M1022 747C1035 768 1070 829 1099 872C1127 915 1163 959 1192 1007C1220 1054 1247 1108 1268 1155C1289 1202 1304 1246 1316 1287C1328 1328 1336 1383 1339 1402" stroke="#6d6d6d" stroke-width="11.8" stroke-opacity="0.55" stroke-dasharray="127 34 116 15 78 13 171 24"/><path d="M1124 856C1139 878 1189 943 1217 991C1246 1039 1274 1095 1296 1143C1317 1191 1337 1257 1345 1279" stroke="#c3c3c3" stroke-width="19.1" stroke-opacity="0.55" stroke-dasharray="114 11 181 9 110 29 122 14"/><path d="M1073 716C1086 736 1120 796 1149 839C1177 882 1214 927 1243 975C1272 1024 1301 1081 1323 1131C1345 1180 1366 1248 1374 1271" stroke="#6d6d6d" stroke-width="13.5" stroke-opacity="0.55" stroke-dasharray="93 12 41 16 79 31 122 20"/><path d="M1099 700C1111 721 1146 779 1174 823C1202 866 1239 910 1268 960C1298 1009 1328 1068 1351 1119C1373 1169 1394 1239 1403 1263" stroke="#aeaeae" stroke-width="19.4" stroke-opacity="0.55" stroke-dasharray="70 25 191 24 179 11 148 26"/><path d="M147 1080C178 1079 277 1068 333 1072C389 1076 439 1090 485 1104C530 1119 571 1138 606 1160C641 1182 665 1208 694 1236C724 1265 767 1317 781 1333" stroke="#aeaeae" stroke-width="15.3" stroke-opacity="0.65" stroke-dasharray="196 28 41 34 75 25 212 9"/><path d="M148 1104C179 1103 277 1092 331 1096C386 1100 434 1113 477 1127C521 1141 560 1159 593 1180C626 1201 649 1225 677 1253C706 1281 749 1333 763 1349" stroke="#666666" stroke-width="12.4" stroke-opacity="0.65" stroke-dasharray="209 29 51 36 48 12 58 35"/><path d="M150 1128C180 1127 277 1116 330 1120C383 1124 428 1137 470 1150C512 1163 548 1180 580 1200C612 1220 632 1242 660 1270C688 1298 731 1349 745 1365" stroke="#b1b1b1" stroke-width="11.1" stroke-opacity="0.65" stroke-dasharray="125 22 195 38 103 20 183 34"/><path d="M152 1152C181 1151 277 1140 329 1144C380 1147 423 1160 463 1173C502 1186 537 1201 567 1220C597 1239 616 1260 643 1287C669 1314 713 1365 727 1381" stroke="#4b4b4b" stroke-width="14.2" stroke-opacity="0.65" stroke-dasharray="112 26 83 15 115 30 162 30"/><path d="M153 1176C182 1175 277 1165 327 1168C377 1171 417 1184 455 1196C493 1208 526 1222 554 1240C583 1258 600 1277 626 1304C651 1330 695 1381 709 1397" stroke="#ababab" stroke-width="14" stroke-opacity="0.65" stroke-dasharray="104 14 92 20 207 24 94 27"/><path d="M155 1200C183 1199 277 1189 326 1192C375 1195 412 1207 448 1218C484 1230 514 1244 541 1261C568 1278 584 1295 608 1320C633 1346 677 1397 691 1412" stroke="#676767" stroke-width="14.8" stroke-opacity="0.65" stroke-dasharray="123 34 120 22 120 11 89 19"/><path d="M156 1224C184 1222 277 1213 324 1216C372 1219 406 1230 440 1241C474 1252 503 1265 528 1281C554 1297 567 1312 591 1337C615 1362 659 1413 673 1428" stroke="#a1a1a1" stroke-width="14.3" stroke-opacity="0.65" stroke-dasharray="67 29 171 8 116 23 129 22"/><path d="M-53 1382C-32 1365 28 1307 72 1278C117 1250 165 1227 216 1212C268 1197 332 1190 381 1190C430 1190 489 1208 510 1211" stroke="#949494" stroke-width="13.5" stroke-opacity="0.55" stroke-dasharray="122 29 100 34 60 32 105 8"/><path d="M-36 1401C-16 1384 43 1327 86 1299C130 1272 174 1250 223 1236C272 1222 333 1215 380 1215C427 1215 484 1232 505 1236" stroke="#5f5f5f" stroke-width="19.5" stroke-opacity="0.55" stroke-dasharray="184 25 164 27 53 16 216 36"/><path d="M-20 1420C0 1403 58 1347 100 1320C142 1293 183 1273 230 1260C277 1247 335 1240 380 1240C425 1240 480 1257 500 1260" stroke="#a4a4a4" stroke-width="12.6" stroke-opacity="0.55" stroke-dasharray="177 25 155 37 82 34 189 11"/><path d="M-4 1439C16 1422 74 1367 114 1341C154 1315 192 1297 237 1284C281 1271 337 1265 380 1265C423 1265 476 1281 495 1284" stroke="#6b6b6b" stroke-width="16" stroke-opacity="0.55" stroke-dasharray="205 9 185 12 85 8 100 26"/><path d="M13 1458C32 1442 89 1387 128 1362C166 1337 202 1320 244 1308C286 1296 338 1290 379 1290C420 1290 471 1306 490 1309" stroke="#979797" stroke-width="14.5" stroke-opacity="0.55" stroke-dasharray="147 21 159 23 76 12 184 16"/><path d="M32 324C40 328 65 338 78 349C90 359 102 374 109 390C116 405 120 423 120 440C120 457 116 475 109 490C102 506 90 521 78 531C65 542 40 552 32 556" stroke="#5f5f5f" stroke-width="13" stroke-opacity="0.5"/><path d="M40 295C50 301 81 312 97 326C113 339 127 358 136 377C145 396 150 419 150 440C150 461 145 484 136 503C127 522 113 541 97 554C81 568 50 579 40 585" stroke="#acacac" stroke-width="13" stroke-opacity="0.5"/><path d="M49 262C61 268 100 282 120 299C139 316 157 339 168 362C179 386 185 414 185 440C185 466 179 494 168 518C157 541 139 564 120 581C100 598 61 612 49 618" stroke="#5b5b5b" stroke-width="13" stroke-opacity="0.5"/><path d="M59 228C73 235 119 252 142 272C166 292 187 320 200 348C213 376 220 409 220 440C220 471 213 504 200 532C187 560 166 588 142 608C119 628 73 645 59 652" stroke="#a4a4a4" stroke-width="13" stroke-opacity="0.5"/><path d="M68 194C84 203 138 223 165 246C192 269 216 301 231 333C246 365 255 404 255 440C255 476 246 515 231 547C216 579 192 611 165 634C138 657 84 677 68 686" stroke="#636363" stroke-width="13" stroke-opacity="0.5"/><path d="M1341 563C1335 557 1315 542 1307 528C1299 515 1293 499 1291 483C1289 468 1291 450 1296 435C1300 421 1310 406 1320 394C1331 383 1353 372 1360 367" stroke="#575757" stroke-width="12" stroke-opacity="0.5"/><path d="M1324 588C1317 581 1292 561 1281 544C1271 528 1263 506 1261 487C1259 467 1261 445 1267 426C1273 407 1285 388 1299 374C1312 359 1341 345 1349 340" stroke="#b0b0b0" stroke-width="12" stroke-opacity="0.5"/><path d="M1308 613C1299 604 1269 581 1256 560C1243 540 1234 514 1231 490C1228 466 1231 439 1239 417C1246 394 1260 370 1277 353C1293 335 1328 318 1338 312" stroke="#5f5f5f" stroke-width="12" stroke-opacity="0.5"/></g><g fill="none" stroke-linecap="round" stroke-linejoin="round" filter="url(#b14)"><ellipse cx="150" cy="105" rx="35" ry="45" fill="#383838" stroke="none"/></g><g fill="none" stroke-linecap="round" stroke-linejoin="round" filter="url(#b22)"><ellipse cx="990" cy="1340" rx="50" ry="40" fill="#323232" stroke="none"/></g><g fill="none" stroke-linecap="round" stroke-linejoin="round" filter="url(#b14)"><ellipse cx="280" cy="150" rx="25" ry="60" fill="#575757" stroke="none" fill-opacity="0.8"/></g></g></g></g></svg>
<path class="k" d="M201 472v10M200 182h-10M315 472v10M200 296h-10M429 472v10M200 410h-10"/>
<rect class="k" x="200" y="181" width="292" height="291"/>
<rect x="510" y="168" width="16" height="317" fill="url(#vg)"/>
<path class="k" d="M526 168h10M526 247h10M526 327h10M526 406h10M526 485h10"/>
<rect class="k" x="510" y="168" width="16" height="317"/>
<text class="l" x="545.45" y="179">10</text><text class="l" x="545.45" y="258.26">5</text><text class="l" x="545.45" y="337.53">0</text><text class="l" x="545.45" y="416.79">−5</text><text class="l" x="545.45" y="496.06">−10</text>
<!-- panel r0 c1 -->
<svg x="637.65" y="180.65" width="291.76" height="291.76" viewBox="0 0 1400 1400" preserveAspectRatio="none" overflow="hidden"><use href="#P00"/></svg>
<path class="k" d="M639 472v10M638 182h-10M753 472v10M638 296h-10M867 472v10M638 410h-10"/>
<rect class="k" x="638" y="181" width="291" height="291"/>
<rect x="948" y="168" width="16" height="317" fill="url(#vg)"/>
<path class="k" d="M964 168h10M964 247h10M964 327h10M964 406h10M964 485h10"/>
<rect class="k" x="948" y="168" width="16" height="317"/>
<text class="l" x="983.1" y="179">10</text><text class="l" x="983.1" y="258.26">5</text><text class="l" x="983.1" y="337.53">0</text><text class="l" x="983.1" y="416.79">−5</text><text class="l" x="983.1" y="496.06">−10</text>
<!-- panel r0 c2 -->
<svg x="1075.29" y="180.65" width="291.76" height="291.76" viewBox="0 0 1400 1400" preserveAspectRatio="none" overflow="hidden"><g filter="url(#cmd)"><g fill="none" stroke-linecap="round" stroke-linejoin="round"><rect x="-50" y="-50" width="1500" height="1500" fill="#7e7e7e" stroke="none"/><ellipse cx="800" cy="750" rx="450" ry="360" fill="#000" stroke="none" filter="url(#m1)" transform="rotate(-50 800 750)" opacity="0.45"/><ellipse cx="350" cy="250" rx="320" ry="260" fill="#000" stroke="none" filter="url(#m2)" transform="rotate(-70 350 250)" opacity="0.3"/><ellipse cx="1150" cy="350" rx="270" ry="170" fill="#000" stroke="none" filter="url(#m2)" transform="rotate(-25 1150 350)" opacity="0.45"/><ellipse cx="300" cy="1000" rx="280" ry="200" fill="#000" stroke="none" filter="url(#m1)" transform="rotate(30 300 1000)" opacity="0.3"/><ellipse cx="1150" cy="1150" rx="220" ry="250" fill="#000" stroke="none" filter="url(#m2)" transform="rotate(60 1150 1150)" opacity="0.35"/><ellipse cx="750" cy="120" rx="250" ry="120" fill="#000" stroke="none" filter="url(#m1)" transform="rotate(10 750 120)" opacity="0.45"/><ellipse cx="1290" cy="400" rx="135" ry="60" fill="#000" stroke="none" filter="url(#k2)" transform="rotate(-10 1290 400)"/><ellipse cx="1320" cy="390" rx="70" ry="40" fill="#000" stroke="none" filter="url(#c1)" transform="rotate(-10 1320 390)"/><ellipse cx="70" cy="440" rx="75" ry="50" fill="#000" stroke="none" filter="url(#k2)" transform="rotate(25 70 440)" opacity="0.8"/><ellipse cx="730" cy="30" rx="80" ry="35" fill="#000" stroke="none" filter="url(#k1)" transform="rotate(0 730 30)" opacity="0.9"/><ellipse cx="760" cy="580" rx="110" ry="100" fill="#000" stroke="none" filter="url(#k1)" transform="rotate(-50 760 580)" opacity="0.6"/><ellipse cx="950" cy="900" rx="170" ry="90" fill="#000" stroke="none" filter="url(#k1)" transform="rotate(50 950 900)" opacity="0.8"/><ellipse cx="950" cy="900" rx="150" ry="80" fill="#000" stroke="none" filter="url(#c2)" transform="rotate(50 950 900)" opacity="0.6"/><ellipse cx="690" cy="1060" rx="100" ry="80" fill="#000" stroke="none" filter="url(#k1)" transform="rotate(0 690 1060)" opacity="0.9"/><ellipse cx="560" cy="900" rx="180" ry="80" fill="#000" stroke="none" filter="url(#k3)" transform="rotate(-30 560 900)" opacity="0.6"/><ellipse cx="1000" cy="560" rx="180" ry="80" fill="#000" stroke="none" filter="url(#k3)" transform="rotate(-35 1000 560)" opacity="0.6"/></g><g fill="none" stroke-linecap="round" stroke-linejoin="round" filter="url(#b4)"><path d="M850 770C858 761 887 734 900 715C913 696 925 665 930 655" stroke="#d1d1d1" stroke-width="14" stroke-opacity="0.9"/><path d="M660 900C667 893 690 872 700 860C710 848 717 835 720 830" stroke="#323232" stroke-width="12" stroke-opacity="0.9"/><path d="M1000 350L1060 330" stroke="#383838" stroke-width="10" stroke-opacity="0.8"/><path d="M420 890L470 880" stroke="#c7c7c7" stroke-width="12" stroke-opacity="0.8"/><ellipse cx="1350" cy="360" rx="18" ry="14" fill="#1e1e1e" stroke="none"/><ellipse cx="1260" cy="385" rx="14" ry="22" fill="#e1e1e1" stroke="none"/><ellipse cx="700" cy="1095" rx="14" ry="14" fill="#e1e1e1" stroke="none"/></g></g></svg>
<path class="k" d="M1076 472v10M1075 182h-10M1190 472v10M1075 296h-10M1304 472v10M1075 410h-10"/>
<rect class="k" x="1075" y="181" width="292" height="291"/>
<rect x="1385" y="168" width="16" height="317" fill="url(#vg)"/>
<path class="k" d="M1401 168h10M1401 247h10M1401 327h10M1401 406h10M1401 485h10"/>
<rect class="k" x="1385" y="168" width="16" height="317"/>
<text class="l" x="1420.75" y="179">1.0</text><text class="l" x="1420.75" y="258.26">0.5</text><text class="l" x="1420.75" y="337.53">0.0</text><text class="l" x="1420.75" y="416.79">−0.5</text><text class="l" x="1420.75" y="496.06">−1.0</text>
<!-- panel r1 c0 -->
<svg x="200" y="561.12" width="291.76" height="291.76" viewBox="0 0 1400 1400" preserveAspectRatio="none" overflow="hidden"><g id="P10"><g filter="url(#cm)"><g filter="url(#bc)"><rect x="-70" y="-70" width="1540" height="1540" fill="#080808"/><g transform="scale(14)"><path fill="#0e0e0e" d="M-3-3l106 0 0 106-106 0z"/><path fill="#141414" d="M-3-3l106 0 0 106-106 0z"/><path fill="#1b1b1b" d="M-3-3l106 0 0 106-106 0z"/><path fill="#212121" d="M-3-3l106 0 0 106-106 0zM42.9 20.2l-1.1 0.4-1.5 1.6 1 1.3 1.6 0.4 1.5-0.1 1.6-0.8 0.9-0.8-0.9-1.6-1.6-0.4z"/><path fill="#272727" d="M-3-3l106 0 0 106-106 0zM41.3 18.5l-1.3 0.5-2.7 1.6-1.5 1.6-0.2 1.6 0.7 1.6 1.8 1.1 1.6 0.3 1.6 0 3.1-0.2 1.6-0.2 1.6-0.6 1.6-1.1 0.9-0.9 0.9-1.6-0.3-1.6-1.5-1.2-1.6-0.7-1.6-0.5-1.6-0.3-1.5 0.1z"/><path fill="#2d2d2d" d="M-3-3l106 0 0 106-106 0zM14.3 61.5l-1.6 0.9-1 1.1-1 1.6-0.3 1.6 0.2 1.6 0.5 1.1 0.7 0.4 0.9 0.4 1.6-0.8 0.8-1.1 0.8-1.4 0.5-1.8 0.2-1.6-0.1-1.6-0.6-0.7zM25.4 39.4l-0.4 1.9-0.2 4.7-0.2 1.6-0.8 1.4 0 0.8 1.6-0.6 0.3-1.6 0.6-1.6 0.7-0.8 1.5-3.9-0.2-1.6-1.3-1.3zM41.3 16.9l-4.8 2.4-1.7 1.3-0.9 1.6-0.3 1.6 0.1 1.6 0.4 1.6 0.8 1.3 0.4 0.3 1.2 0.6 1.6 0.2 7.9-0.5 1.6-0.5 1.6-1 2.3-2 1.3-1.6 0.4-1.6-0.3-1.6-1.3-1.6-0.8-0.5-2.1-1-2.7-1-1.6-0.2-1.5 0.1z"/><path fill="#333333" d="M-3-3l106 0 0 106-106 0zM41.3 15.5l-4.1 2-2.3 1.4-1.7 1.7-0.7 1.6-0.4 1.6-0.4 7.9-1.5 1.6-3.2 1.2-1.6 0.8-1.6 1.3-1 1.5-0.6 1.6-1.5 7.9-1 3.2-0.9 1.6-2.9 4-1.6 1.6-3.2 2.4-1.5 1.5-1 1.6-0.7 1.6-0.3 1.6 0.1 1.6 0.6 1.5 1.1 1.6 1.7 1.3 1.7 0.3 1.5-0.6 1.6-1.3 0.9-1.3 1-1.5 2.2-6.4 0.9-1.6 6.1-7.7 1.1-1.8 2.1-4.5 1.2-3.4 0.4-1.6 0.2-1.6 0.1-4.8 0.6-1.6 2.2-0.6 1.6-0.3 3.2-0.2 4.7-0.2 1.6-0.3 1.6-0.7 3.2-2.5 3.1-3.1 1-1.6 0.3-1.6-0.3-1.6-1.1-1.6-2.1-1.5-2.5-1.2-3.2-1.2-1.6-0.3-1.5 0.1z"/><path fill="#393939" d="M-3-3l106 0 0 106-106 0zM41.3 14l-6.4 3.4-1.9 1.6-1.1 1.6-0.7 1.6-1.6 6.4-0.9 1.6-1.5 1.5-4.2 3.2-1.3 1.6-0.9 1.6-1 3.2-0.7 4.7-0.7 3.2-0.7 1.6-0.9 1.6-1.1 1.6-1.4 1.5-4.2 3.2-1.8 1.6-1.2 1.6-0.8 1.3-0.6 1.9-0.2 1.6 0.1 1.6 0.6 1.5 0.9 1.6 1.7 1.6 0.7 0.5 1.6 0.8 1.6 0.3 1.6-0.5 1.6-0.9 1.8-1.8 1.1-1.6 0.8-1.5 2.4-6.4 1-1.6 5.3-6.3 1.9-3.2 3-6.4 1.1-3.1 0.6-3.2 0.8-1.6 0.8-0.7 1.6-0.7 1.6-0.1 4.7 0 1.6-0.4 1.6-0.9 6.7-6.7 1.5-1.6 0.9-1.6 0.4-1.6-0.4-1.6-0.9-1.6-1.8-1.7-2.6-1.4-5.4-2.4-1.6-0.4-1.5 0.1z"/><path fill="#3f3f3f" d="M-3-3l106 0 0 106-106 0 0-63.5 4.1-1.4 0.5-1.6-0.7-1.6-3.9-0.6zM41.3 12.3l-2.8 2-3.6 1.8-1.6 1.1-1.6 1.7-1 1.7-2.1 6.3-0.9 1.7-1.4 1.6-3.8 3.1-1.6 1.6-1.2 1.6-0.8 1.6-0.9 3.2-0.9 6.3-0.4 1.6-0.8 2-1.6 2.2-1.6 1.4-5.6 3.9-1.5 1.6-1 1.6-0.7 1.6-0.3 1.6-0.2 1.6 0.3 1.6 0.5 1.5 1 1.6 1.5 1.6 2.3 1.6 2.1 0.8 1.6 0.2 1.6-0.4 1.5-0.6 2.1-1.6 1.5-1.6 1-1.6 0.8-1.5 1.7-4.8 0.8-1.6 1.2-1.6 4.2-4.7 2.1-3.2 4.3-8 2.6-5.4 1.6-0.8 3.2-0.3 1.5-0.4 1.6-0.6 1.6-0.9 1.6-1.5 2.1-2.8 1.5-1.5 4.6-4.8 1-1.6 0.4-1.6-0.4-1.6-0.8-1.6-1.4-1.5-2-1.6-1.8-1-3.2-1.3-3.2-1.8-1.6-0.5-1.5 0.1z"/><path fill="#454545" d="M-3-3l106 0 0 106-106 0 0-59.5 4.6-1.2 1-1 1.1-1.6 0.5-1.6-0.1-1.6-0.7-1.6-1.8-1.6-4.6-0.6zM42.9 9.2l-1.6 0.9-2.6 2.6-5.4 3-1.9 1.8-1.1 1.5-0.8 1.6-1.7 4.8-0.8 1.7-1.6 1.9-5.1 4.3-1.5 1.6-1.1 1.6-0.7 1.6-0.6 1.6-0.6 3.2-0.3 4.7-0.3 1.6-0.9 1.9-1.6 1.8-1.6 1.1-2.9 1.6-2.6 1.5-1.7 1.6-1.1 1.6-0.7 1.6-0.8 3.2 0 1.6 0.3 1.6 0.6 1.5 1.1 1.6 1.5 1.6 2.1 1.6 2.6 1.2 1.1 0.4 2.1 0.2 1.6-0.2 1.6-0.6 1.8-1 1.9-1.6 1.3-1.6 1.1-1.6 0.8-1.5 1.8-4.8 0.8-1.5 3.2-3.4 2.5-3 1-1.6 2.8-5.1 1.6-2.4 1.6-2 1.6-1.9 1.6-1.2 4.7-2.6 1.6-1 1.6-1.3 3.5-4.8 6.3-6.3 0.9-1.6 0.3-1.6-0.3-1.6-1.2-2.2-0.7-0.9-1.6-1.6-2.4-1.7-3.5-1.5-4.5-3.2-1.6-0.5z"/><path fill="#4b4b4b" d="M-3-3l106 0 0 36.5-4.2 1.4 0.6 1.6 3.6 0.6 0 65.9-106 0 0-33.4 4.2 1.8 1.5 1.6 2.1 1.5 3.1 1.7 1.6 0.5 1.6 0.4 1.6 0.1 1.6-0.2 2.5-0.8 2.7-1.6 1.7-1.6 1.3-1.6 1.9-3.1 2.1-4.8 5.3-6.4 2.1-3.1 2.8-4.8 1.4-1.6 5.1-4.7 6-5 3.2-4.3 1.5-1.9 6.4-6.3 0.9-1.6 0.3-1.6-0.3-1.6-0.6-1.6-1-1.5-2.5-2.7-1.5-1.3-4.1-2.4-1.7-1.6-2.2-2.7-1.6-1.2-1.6-0.5-1.5 0.3-1.6 1.1-1.6 2-1.7 2.6-1.5 1.3-3.2 1.7-2 1.8-1.1 1.3-1.1 1.8-2.1 5.4-0.5 1-1 1.6-1.7 1.7-4 3-1.8 1.6-1.5 1.6-1.1 1.6-1.4 3.2-0.5 1.6-0.1 1.6 0.3 4.7-0.3 1.6-0.7 1.5-1.6 1.2-1 0.5-4.5 1.6-2.4 1.1-1.6 1.1-1 0.9-3.6 1.1 0-10.5 6.2-2.6 2.1-2.2 1.1-1.6 0.7-1.6 0.1-1.6-0.4-1.6-1-1.6-1.6-1.6-2.6-1.4-4.6-0.4z"/><path fill="#525252" d="M-3-3l43.2 0-0.5 3.3-1.1 1.3-0.5 1.1-1.4 5.2-0.7 1.6-1.3 1.6-3 2.3-1.5 1.8-1.6 2.5-2.6 6.1-0.8 1.6-1.4 1.6-1.6 1.3-4.9 3.4-4.6 3.7-1.6 0.4-1.6-0.8-2.3-1.7-2.9-1.6-2.7-0.9-4.6-0.4zM46.3-3l56.7 0 0 35.7-4.2 0.6-1.1 1.6 0.1 1.6 0.6 1.1 4.6 1.9 0 63.5-106 0 0-30.5 5.7 2.1 2.9 1.6 2.3 0.9 3.2 0.7 3.1 0 1.7-0.4 3-1.2 2.3-1.6 1.6-1.6 1.4-1.6 1-1.6 3.4-6 4.7-6.2 4.8-7.3 4.8-4.3 4-4.7 3.1-3.2 4-5.2 6-5.9 1.5-1.6 0.4-0.7 0.4-0.9 0.2-1.6-0.1-1.6-0.5-1.6-0.9-1.5-2.3-2.8-5.5-5.2-1.2-1.6-2.8-5.4-1.6-1.7zM8.8 47.6l0.7-0.2 0.2 0.2-0.2 0.3z"/><path fill="#585858" d="M-3-3l37.5 0-0.4 4.6-0.4 4.7-0.4 1.6-0.7 1.6-2.4 3.3-1.6 2.5-1.6 3.2-2.3 5.3-0.9 1.3-1.6 1.5-3.2 2.2-3.1 1.9-3.2 1.4-1.6 0.3-1.6-0.2-6.1-2-6.4-0.8zM51-3l52 0 0 34.9-4.6 0.8-0.7 0.6-0.9 1.6-0.2 1.6 0.3 1.6 1.5 3.8 4.6 3.4 0 7.8-4.6 0.3-4.7 0.4-1.6 0.4-1.6 0.6-1.6 1.1-0.9 1.2-0.2 1.6 0.2 1.6 0.9 2 1.6 2.3 1.6 1.3 1.6 0.7 1.5 0.1 1.6-0.1 6.2-0.9 0 37.3-106 0 0-28.6 6.2 1.8 4.3 1.6 2 0.5 3.2 0.3 1.6-0.1 3.2-0.7 3.1-1.5 1.6-1.1 2.4-2.2 1.4-1.6 1.1-1.6 4-6.3 7.7-11.1 1.5-1.6 2.6-2.2 1.5-1.7 2.5-4 1.2-1.6 2.7-3 3.2-4.3 1.6-1.7 5.5-5.3 1.4-1.6 0.7-1.6 0.3-1.6 0-1.6-0.4-1.6-0.8-1.5-1.1-1.6-4.2-4.8-2.3-3.2-2.3-5.5z"/><path fill="#5e5e5e" d="M-3-3l34.2 0-0.3 9.3-0.2 1.6-0.6 1.6-3.1 6.3-2.8 6.4-1 1.6-1.5 1.6-2.7 1.8-3.1 1.7-3.2 1.1-1.6 0.2-3.2-0.2-10.9-1.6zM53.4-3l49.6 0 0 34.2-4.6 0.7-1.6 1.3-1 1.7-0.3 1.6-0.1 1.6 0.3 4.8-0.1 1.5-0.3 1.6-1 1.6-2.2 1.5-3.7 1.7-2.8 1.6-1.6 1.6-0.7 1.6-0.1 1.5 0.3 1.6 0.5 1.6 1.7 3 1.6 2.4 1.6 2 1.6 1.4 1.6 0.8 1.6 0.2 1.5-0.1 1.6-0.3 6.2-0.9 0 34.2-106 0 0-27 7.6 1.8 3.3 0.9 3.2 0.5 3.2 0 3.2-0.6 2.4-0.8 2.9-1.6 2-1.6 1.8-1.6 2.7-3.2 7-11.1 3.3-4.7 1.6-1.6 3.5-3.2 1.3-1.9 2.1-4.4 2.3-3.2 3.6-4.6 1.6-1.7 6.3-6.2 1.4-1.8 0.7-1.6 0.4-1.6 0.1-1.6-0.3-1.6-0.6-1.5-1-1.6-3.9-4.8-1.1-1.6-0.9-1.6-2.4-6.3z"/><path fill="#646464" d="M-3-3l31.8 0 0.1 9.3-0.6 3.2-4.5 10.9-1.6 2.6-1.6 1.5-1.6 1.2-3.1 1.6-3.2 1-1.6 0.2-1.6 0.2-3.2-0.3-9.3-1zM55.3-3l47.7 0 0 33.6-4.6 0.6-1 0.5-1.6 1.6-0.9 1.6-0.5 1.6-0.7 4.3-0.6 2.1-1 1.8-1.3 1.3-1.9 1.3-3.7 1.9-2.7 1.6-1.6 1.6-0.8 1.6-0.1 1.6 0.2 1.5 0.4 1.6 1.7 3.2 5 7.2 1.6 1.8 0.6 0.5 1 0.7 1.6 0.7 1.6 0.1 1.5-0.2 7.8-1.5 0 31.8-106 0 0-25.7 7.8 1.4 3.1 0.7 4.8 0.5 3.2-0.2 3.1-0.6 3.2-1.3 2.7-1.6 2.1-1.6 1.8-1.6 1.5-1.6 1.3-1.6 1.7-2.8 3.7-6.7 2.7-4 2-2.3 3.5-3.2 1.3-1.6 0.7-1.6 1-3.2 1.7-3.1 4.1-5.2 1.6-1.8 6.3-6.2 2.2-2.7 0.7-1.6 0.5-1.6 0.2-1.6-0.2-1.6-0.5-1.5-0.9-1.6-3.8-4.8-1-1.6-1.5-3.2-1.6-4.7z"/><path fill="#6a6a6a" d="M-3-3l29.9 0 0.4 9.3-0.5 3.2-3 8.3-1.6 3.1-1.6 1.9-1.6 1.3-3.1 1.7-1.6 0.5-3.2 0.8-1.6 0.2-3.2 0-9.3-0.9zM56.9-3l46.1 0 0 32.9-4.6 0.6-1.6 0.9-2 1.9-0.9 1.6-1.8 5.4-0.5 1-1.1 1.8-1.6 1.5-1.6 1-6.3 3.3-1.6 1.1-0.9 0.8-0.7 1.2-0.5 2 0.2 1.6 0.4 1.5 1.4 3.2 6.4 9.3 1.6 2.2 1.6 1.7 1.6 1.1 1.6 0.6 1.6 0.1 1.5-0.2 7.8-1.6 0 29.5-106 0 0-24.4 7.8 1 4.7 0.7 4.8 0.2 3.2-0.3 3.1-0.6 3.2-1.3 3.6-2.1 2.2-1.6 2.1-2 1.1-1.2 1.1-1.6 3.9-7.9 3-4.8 2.1-2.4 4-3.9 0.7-1.1 0.3-0.5 1.2-4.8 0.7-1.5 2-3.2 2.2-2.7 1.6-1.7 6.3-6.3 1.8-2 1.1-1.6 0.8-1.6 0.6-1.6 0.2-1.6 0-1.6-0.4-1.5-0.8-1.6-3.8-4.8-1.9-3.2-0.6-1.6-1.4-4.7z"/><path fill="#707070" d="M-3-3l28.4 0 0.6 7.8 0 1.5-0.5 3.2-1.4 4.8-1.2 3.2-0.9 1.5-1 1.6-1.5 1.6-2 1.5-1.6 0.7-1.6 0.6-3.2 0.8-1.6 0.2-3.2 0.1-3.1-0.2-6.2-0.5zM58.2-3l44.8 0 0 32.3-4.6 0.5-1.6 0.8-1.5 1.1-1.5 1.6-0.9 1.6-2.4 5.2-1.6 2.1-1.6 1.2-1.6 1-6.3 3-1.6 1-1.1 0.8-1.2 1.6-0.4 1.6 0.1 1.6 0.3 1.6 0.7 1.9 1.4 2.8 9.7 13.8 1.6 1.6 1.6 1 1.6 0.7 1.6 0.2 1.5-0.1 1.6-0.4 6.2-1.3 0 27.2-106 0 0-23.3 9.3 1 4.8 0.4 4.8 0 3.1-0.3 3.2-0.6 3.2-1.2 3.2-1.7 3.7-2.7 1.6-1.6 1.2-1.6 1.4-2.8 2.9-6.7 1.8-3.2 2.5-3.1 4.5-4.8 0.8-1.6 0.9-4.8 0.6-1.5 0.9-1.6 2.6-3.5 7.9-7.8 3.6-4.6 0.9-1.6 0.7-1.6 0.3-1.6 0.1-1.6-0.3-1.5-0.7-1.6-1.1-1.6-2.7-3.2-2-3.2-0.6-1.6-1.3-4.7z"/><path fill="#767676" d="M-3-3l27.3 0 0.5 7.8 0 1.5-0.4 3.2-1.3 4.8-0.9 2.1-1.4 2.6-1.8 2.1-1.5 1.2-1.6 0.8-3.2 1.1-3.2 0.6-1.6 0.2-3.1-0.1-3.2-0.4-4.6-0.3zM59.4-3l43.6 0 0 31.7-6.2 1.2-2.6 1.8-1.4 1.6-2.3 4.2-1.4 2.2-1.8 1.7-1.6 1.1-1.6 0.8-6.2 2.7-2.5 1.6-1.5 1.6-0.7 1.6-0.2 1.6 0.3 1.6 0.5 1.6 0.7 1.5 1.7 3.4 5.7 7.8 4.4 6.3 1 1.3 1.6 1.6 1.6 1.2 1.6 0.8 1.6 0.4 1.5 0 1.6-0.4 6.2-1.1 0 24.6-63.4 0-1.5-3.9-1.6-0.6-1.6-0.3-1.6 0.1-1.6 0.4-1.5 0.8-0.6 3.5-32.6 0 0-22.1 10.9 0.7 4.8 0.2 4.8 0 4.7-0.4 1.9-0.4 2.9-1.1 3.2-1.7 3.1-2.2 1.6-1.4 1.6-2 1.3-2.8 2.3-6.3 1.6-3.2 0.9-1.6 1.2-1.6 3.8-4.2 1.7-2.1 0.5-1.6 0.4-3.2 0.4-1.6 0.6-1.5 0.8-1.6 2-2.6 1.6-1.7 4.1-3.7 2.2-2.3 3.2-4 2.2-3.2 0.7-1.6 0.5-1.6 0.2-1.6-0.2-1.5-0.6-1.6-1.1-1.6-3.3-3.7-1.7-2.7-0.7-1.6z"/><path fill="#7c7c7c" d="M-3-3l26.2 0 0.6 9.3-0.4 3.2-0.8 3.2-1.2 3.2-0.8 1.6-1.6 2-1.5 1.4-1.6 1-1.6 0.6-3.2 0.9-3.2 0.4-3.1 0-3.2-0.5-4.6-0.5zM60.4-3l42.6 0 0 31.1-6.2 1.1-1.8 1-1.3 1.1-1.9 2-3.2 4.8-1.3 1.4-1.6 1.2-3.2 1.6-4.7 1.9-3.2 1.8-1.9 1.6-1.1 1.6-0.5 1.6 0.1 1.6 0.4 1.6 1.4 3.1 1.8 3.2 1.4 2.2 5.6 7.3 3.9 5.7 3.2 3.8 1.6 1.5 1.6 1 1.6 0.5 1.5 0 1.6-0.3 6.2-1 0 22-61.2 0-2-4.6-1.7-1-1.6-0.6-1.6-0.4-1.6-0.1-1.6 0.2-1.5 0.5-1.6 1-1.7 5-29.9 0 0-21 22 0.6 4.8-0.2 3.2-0.7 1.6-0.7 3.1-1.8 3.2-2.4 1.6-1.5 1.6-2.3 1.3-3.2 2.1-6.3 1.5-3.2 2.1-3.2 4.1-4.8 0.9-1.5 0.5-1.6 0.3-3.2 0.3-1.6 0.6-1.5 0.9-1.6 1.3-1.8 1.6-1.7 4.7-4.1 1.6-1.7 5.2-6.6 1.1-1.6 0.9-1.6 0.5-1.6 0.3-1.6-0.1-1.5-0.5-1.6-1-1.6-3.2-3.3-1.2-1.5-1.1-1.6-1.3-3.1z"/><path fill="#838383" d="M-3-3l25.3 0 0.5 7.8 0 1.5-0.1 1.6-0.6 3.2-1 3.2-0.8 1.6-1.3 2-1.5 1.6-1.6 1.1-1.6 0.8-1.6 0.5-3.2 0.7-1.6 0.1-3.1-0.1-3.2-0.6-4.6-0.7zM61.2-3l41.8 0 0 30.4-6.5 1.2-1.3 0.6-1.5 1-1.7 1.5-1.4 1.6-3.3 4.4-1.6 1.2-3.2 1.7-6.3 2.6-3.2 1.9-1.1 0.9-1.5 1.6-1 1.6-0.3 1.6 0.3 1.6 0.6 1.6 4.6 7.9 5 6.4 7.7 10.9 3.2 3.9 1.6 1.1 1.6 0.5 1.5 0 1.6-0.3 6.2-1 0 19.6-59.2 0-2.5-5.1-3.2-2-3.2-1.2-1.6-0.3-1.6-0.1-1.5 0.4-1.6 0.8-1.6 1.5-1.6 2.3-0.4 3.7-28 0 0-19.8 7.8-0.2 7.9 0.1 11.1 0.8 3.2-0.3 1.6-0.5 1.6-0.8 3.1-2.2 3.2-2.7 1.6-1.7 0.7-1.1 0.9-1.6 0.6-1.6 1.9-6.3 1.2-3.2 1.8-3.2 4-5.1 1.6-2.6 0.4-1.8 0.3-3.2 0.4-1.6 0.5-1.5 0.9-1.6 2.3-2.8 4.6-3.6 1.7-1.7 3.4-4.6 4-4.8 0.9-1.6 0.7-1.6 0.3-1.6 0.1-1.5-0.3-1.6-1-1.6-4.9-4.7-1.3-1.7-0.9-1.6-0.6-1.5z"/><path fill="#898989" d="M-3-3l24.3 0 0.5 7.8 0 3.1-0.3 1.6-0.8 3.2-0.6 1.6-1.1 1.9-1.5 1.9-1.6 1.3-1.6 0.9-1.6 0.5-3.2 0.7-3.2 0.1-1.5-0.2-3-0.8-4.8-0.9zM62-3l41 0 0 29.8-6.2 0.9-1.6 0.7-1.5 0.9-1.2 0.9-1.8 1.5-3.4 4-1.6 1.5-1.5 0.9-8 3.3-2.7 1.5-2.1 1.4-1.9 1.7-1.4 1.6-0.9 1.6-0.1 1.6 0.5 1.6 0.9 1.6 5.1 7.9 4.9 6.4 3.5 4.7 4.3 6.4 2.6 4.2 1.6 2.1 1.6 1.1 1.6 0.4 1.5 0 1.6-0.4 6.2-1 0 17.2-57.3 0-4.4-6.6-3.2-1.9-4.8-2.2-1.6-0.4-1.5-0.1-1.6 0.7-1.6 1.6-1.6 2.3-1.7 6.6-26.7 0 0-18.7 9.3-0.5 6.4-0.1 4.8 0.6 7.9 1.6 1.6 0.2 1.6-0.3 1.6-0.8 1.5-1.3 6.3-5.9 1.7-2.1 1.6-3.2 2.1-7.4 1.2-3.2 1.7-3.2 4.5-6.3 0.7-1.6 1-6.4 0.5-1.5 0.9-1.6 1.7-2 1.5-1.3 3.2-2.1 1.6-1.4 1.6-2 2.6-3.9 4.4-4.8 1-1.6 0.7-1.6 0.4-1.6 0.2-1.5-0.1-1.6-0.6-1.6-1.7-1.6-3.7-2.8-1.9-2-1-1.6-0.7-1.5-0.5-1.6z"/><path fill="#8f8f8f" d="M-3-3l23.4 0 0.6 7.8-0.1 3.1-0.3 1.6-0.9 3.2-0.7 1.6-0.9 1.6-1.4 1.6-0.8 0.6-1.5 0.9-1.7 0.7-1.6 0.5-3.2 0.3-3.1-0.4-1.6-0.4-1.6-0.8-4.6-1.1zM62.6-3l40.4 0 0 29-7.8 1.5-1.9 1.1-2.2 1.6-5.4 5.1-1.6 1.1-3.1 1.4-4.8 1.8-1.6 0.7-3.2 1.9-1.6 1.2-1.5 1.5-2.3 2.7-0.9 1.6-0.1 1.6 0.8 1.6 6.8 9.5 6.2 7.9 4.5 6.4 3 4.8 2.6 5.4 1.6 1.9 1.6 1 1.6 0.4 1.5 0 1.6-0.3 6.2-1 0 14.6-55.5 0-6.2-8-6.9-4.5-1.4-1.6-0.4-1.6 0.5-1.6 1-1.6 5.6-6.3 2-3.2 1.2-3.2 1.6-6.3 1.1-3.2 1.8-3.2 3.3-4.7 0.9-1.6 0.5-1.6 0.4-1.6 0.6-4.8 0.9-2.2 0.6-0.9 1.4-1.6 1.1-0.9 3.9-2.3 1.8-1.6 3.9-6 1.6-1.7 2.2-1.8 1.5-1.6 1-1.6 0.6-1.6 0.8-3.1 0.1-1.6-0.1-1.6-1.3-1.6-4.8-2.7-1.6-1.2-1.6-1.8-1.3-2.2-0.5-1.6zM-3 85.7l0-0.1 4.6-0.4 3.2-0.4 4.7-0.4 3.2 0 3.2 0.4 3.1 0.8 4.2 1.7 1.9 1.6 0.6 1.6-0.2 1.6-0.5 1.6-2.5 9.3-25.5 0z"/><path fill="#959595" d="M-3-3l22.5 0 0.6 7.8-0.1 3.1-0.3 1.6-0.7 2.5-1 2.3-1.2 1.6-0.9 1-1.6 1.1-1.6 0.7-1.6 0.4-3.2 0.2-2.1-0.3-2.6-0.9-1.6-1-1.3-1.2-3.3-0.4zM63.2-3l39.8 0 0 28.3-6.2 0.8-3.1 1.3-3.2 2.1-4.8 4-1.6 1-3.1 1.5-4.8 1.7-1.6 0.7-4.8 2.8-1.5 1.3-1.6 1.7-2.6 3.4-0.9 1.6 0 1.6 1 1.6 4.1 5 4.5 6.1 3.8 4.8 6.9 9.5 2.6 4.7 1.8 4.8 1 1.7 1.6 1.8 1.6 1 1.6 0.5 1.5 0.1 1.6-0.2 6.2-0.8 0 11.6-53.6 0-12.1-12.5-1.4-1.6-0.6-1.6 0.3-1.6 0.7-1.6 4.8-6.3 1.9-3.2 1.1-3.2 1.5-6.3 1.1-3.2 1.7-3.2 2.4-3.6 1.5-2.7 0.5-1.6 0.3-1.6 0.6-4.8 0.5-1.5 1.4-2 1.5-1.4 1.6-0.8 3.2-1.4 1.6-1.3 0.8-1.1 2.4-4.9 1.6-1.8 4-2.8 0.7-0.7 0.8-0.9 0.7-1.6 0.6-1.6 1.2-4.7 0.1-1.6-0.4-1.6-1.4-1-4.8-1.9-1.5-0.9-1.6-1.2-1.2-1.4-1-1.5-0.6-1.6zM4.8 85.7l3.1-0.4 3.2-0.2 3.2 0.2 1.9 0.4 2.8 1.1 1.1 0.5 2 1.6 1 1.6 0.3 1.6-0.2 1.6-0.4 1.5-1.5 7.8-24.3 0 0-16 4.6-0.5z"/><path fill="#9b9b9b" d="M-3-3l21.5 0 0.7 7.8-0.1 3.1-0.3 1.6-1 3.2-1 1.6-0.9 1.2-1.6 1.3-1.6 0.7-1.6 0.5-1.6 0.2-1.6-0.1-1.6-0.2-1.3-0.4-1.8-1.1-0.7-0.5-1.5-1.6-4-1.8zM63.8-3l39.2 0 0 27.2-7.8 1.5-1.5 0.6-3.2 1.9-4.8 3.5-1.6 1-1.6 0.7-7.9 2.9-6.7 3.4-1.2 1.1-4.1 6.8-0.7 1.6 0 1.6 0.8 1.6 5.6 6.4 7.5 9.5 6.8 9.5 1.9 3.2 0.7 1.5 2.1 6.2 1.6 2.8 1.6 2 1.6 1.3 1.6 0.6 1.5 0.1 7.8-0.8 0 8.3-51.8 0-8-9.3-3.7-3.2-1.3-1.6-0.7-1.6 0.1-1.6 0.7-1.6 4.6-7 1.5-3.2 0.8-2.5 1.4-6.3 1.1-3.2 1.7-3.2 2.9-4.7 0.8-1.6 0.4-1.6 0.8-6.4 0.6-1.5 0.7-1.1 1.5-1.5 1.6-0.7 4.8-1.2 0.5-0.3 1.1-1.1 0.8-2.1 0.9-3.2 0.8-1.5 0.7-0.8 1.5-1.1 3.2-1.6 1.7-1.3 0.8-1.6 2.5-7.9 0.4-1.6 0-1.6-1.1-1.6-1.1-0.5-4.8-1.2-1.6-0.6-1.5-0.9-1.6-1.3-1.6-2.2-0.6-1.2zM3 87.3l4.9-1.1 3.2-0.4 1.6 0 3.2 0.8 1.7 0.7 1.4 0.9 0.9 0.7 1.2 1.6 0.5 1.6 0 1.6-0.2 1.5-1.2 7.8-23.2 0 0-14.2z"/><path fill="#a1a1a1" d="M1.2 1.6l0.4-4.6 16 0 0.6 6.2 0.1 1.6-0.1 3.1-0.8 3.2-0.7 1.6-1.1 1.6-1.3 1.2-1.6 0.9-1.6 0.4-1.6 0.2-1.6-0.1-1.6-0.4-1.5-0.7-1.6-1.3-1.4-1.8-0.7-1.6-0.6-1.6-0.2-1.6-0.1-1.6 0.2-1.5zM64.2-3l38.8 0 0 6.8-4.6 0-2.1-0.6-2.6-0.4-1.6 0.1-1.6 0.4-1.6 1.1-1.6 1.5-1.8 2-1.2 1.6 1.4 0.9 1.6 0.4 4-1.3 2.4-1 3.1-0.9 1.6 0.1 4.6 0.8 0 14-4.6 1-3.2 1-3.1 1.5-4.8 3-3.2 1.8-3.1 1-3.2 0.7-1.6 0.6-4.8 2.2-1.6 0.3-1.3-0.7-0.2-0.4-0.2-1.2 0.1-1.6 1.2-1.5 0.4-0.3 4.8-1.7 1.6-1.6 0.6-1.2 1.1-4.8 1.1-3.1 2-3.9 0.7-0.9 0.8-1.6-1.5-1.3-0.7-0.3-8.9-1.1-1.6-0.6-1.5-0.8-1.6-1.4-0.7-0.8-0.9-1.8zM57 41.3l1.7-0.8 1.6-0.2 1.6 0.2 1.2 0.8 0.3 1.6-0.5 1.5-1.6 3.2-0.5 1.6 0 1.6 0.6 1.6 1.2 1.6 5.7 6.1 5.4 6.6 3.6 4.7 4.6 6.4 1.8 3.2 0.7 1.5 2.9 8.9 1.6 3.6 1.6 2.9 1.6 1.5 1.6 0.4 1.5 0 7.8-1.4 0 4.6-49.9 0-1.9-4.6-6.4-4.7-3.3-3.2-1.3-1.6-0.6-1.6-0.1-1.6 0.5-1.6 0.8-1.6 3.6-6.1 0.9-1.8 0.7-2.1 1.2-5.8 0.8-3.2 1.4-3.2 3.8-6.3 0.6-1.6 0.4-1.6 0.9-6.4 0.4-1.5zM6.9 87.3l2.6-0.5 3.2-0.1 2.5 0.6 2.7 1.6 1.4 1.6 0.7 1.6 0.2 1.6-0.3 3.1-0.8 6.2-22.1 0 0-11.4 3.7-1.1 2.1-1.6 2-0.9z"/><path fill="#a7a7a7" d="M2.7 1.6l0.5-4.6 13.3 0 0.7 6.2 0.2 1.6-0.2 3.1-0.8 3.2-0.9 1.6-1.2 1.5-1.6 1-1.6 0.5-1.6 0.1-1.6-0.2-1.6-0.6-1.5-1.1-1.1-1.2-1-1.6-0.6-1.6-0.3-1.6 0-1.6 0.1-1.5zM64.7-3l22.9 0-4.5 7.8-2.1 1.5-1.6 0.7-1.6 0.4-3.2 0.3-3.2-0.3-1.6-0.4-1.5-0.9-1.6-1.5-0.9-1.4-0.6-1.6zM85.6 14.3l8.1-0.7 1.5 0.2 1.5 0.5 1.7 1.2 0.3 0.4 0.7 1.6 0 1.5-0.6 1.6-1.9 1.6-1.7 0.7-3.1 1.6-4.8 3-1.6 0.8-1.6 0.6-1.6 0.3-1.5-0.1-1.3-0.5-0.3-0.4-0.5-1.2-0.1-3.2 0.5-3.2 0.5-1.6 0.9-1.5 1.8-2.2 1.6-0.8zM56.5 42.9l0.6-0.7 1.6-0.6 1.6 0.3 1 1 0 1.5-1.4 3.2-0.4 1.6 0 1.6 0.6 1.6 1.2 1.6 7 7.3 5.8 7 5.9 7.9 3 4.8 1.3 3.1 2.5 9.6 0.5 3.1 0.2 6.2-32.6 0-1.8-4.6-3.9-2.7-3.2-2.4-2.9-2.8-1.1-1.6-0.6-1.6-0.2-1.6 0.4-1.6 0.6-1.6 4.2-7.9 0.9-3.2 1.2-6.3 1.1-3.2 1.2-2.3 2.4-4 1.6-3.2 0.4-1.6 0.7-6.4zM5.8 88.9l2.1-0.7 3.2-0.7 1.6 0.1 1.6 0.5 1.6 0.8 1.7 1.6 0.9 1.6 0.3 1.6 0.1 1.5-0.2 1.6-0.8 6.2-16 0-0.7-6.2-0.1-1.6 0.2-1.5 0.6-1.6 1.3-1.6z"/><path fill="#adadad" d="M4.2 1.6l0.7-4.6 10.4 0 0.6 4.6 0.3 1.6 0.2 3.1-0.2 1.6-0.4 1.6-0.6 1.6-1 1.6-1.5 1.2-1.6 0.5-1.6 0.1-1.6-0.4-1.6-0.9-1.5-1.7-1-2-0.4-1.6-0.1-1.6 0.1-1.5zM65.2-3l19.3 0-2.8 6.2-2.3 1.7-1.6 0.8-1.6 0.5-3.2 0.5-1.6-0.2-1.6-0.4-1.5-0.9-1.9-2-0.7-1.6zM82.9 17.5l1.2-0.8 1.6-0.4 3.2 0.1 1.6 0.3 2.6 0.8 1.3 1.5-0.4 1.6-1.7 1.6-2 1.6-2.4 1.6-2.2 1-1.6 0.4-1.6-0.2-1.5-1.5-0.4-1.3-0.1-1.6 0.2-1.6 0.8-1.6zM57.1 44.4l0-0.2 1.6-0.9 0.6 1.1-0.6 1.8-1.6-0.3zM57.1 50.8l1 1.6 0.6 0.3 1 1.3 7 6.7 4.7 5.3 4.4 5.4 3.6 4.9 2 3.1 1.6 3.1 0.6 1.6 1.4 6.4 0.6 4.7 0 1.6-0.5 6.2-28.5 0-1.5-4.6-1.1-0.8-6.4-4.2-1.5-1.3-1.5-1.6-1.1-1.6-0.6-1.6-0.2-1.6 0.2-1.6 0.5-1.6 0.8-1.5 3.2-6.4 0.5-1.6 1.2-6.3 0.9-3.2 0.6-1.6 1.7-3.2 3.3-5.3 0.9-1zM9.5 88.9l1.6-0.2 1.6 0 0.5 0.2 1.1 0.5 1.4 1.1 1.1 1.6 0.6 1.6 0.1 1.5-0.1 1.6-0.8 6.2-12.8 0-0.7-6.2 0-1.6 0.3-1.5 0.8-1.6 1.7-1.6 2-1z"/><path fill="#b4b4b4" d="M5.9 1.6l1-4.6 6.9 0 0.8 4.6 0.4 1.6 0.3 1.6 0 1.5-0.3 1.6-0.7 2.3-0.6 0.9-1 1.2-1.6 0.6-1.6 0-1.6-0.6-1.6-1.4-0.8-1.4-0.5-1.6-0.1-1.6 0.1-1.5 0.4-1.6zM65.7-3l16.5 0-2.8 5.9-1.6 1.2-1.6 0.8-1.6 0.5-1.6 0.3-1.6-0.1-1.6-0.3-1.5-0.9-1.6-1.9zM83.8 19l0.3-0.2 1.6-0.3 1.6 0.2 0.9 0.3 1.1 1.6-0.6 1.6-1.4 1.3-1.6 0.8-1.6 0.1-1-0.6-0.6-0.8-0.2-0.8 0.1-1.6zM55.7 55.6l1.4-1.1 1.6 0.4 1.6 1.2 4.8 4.2 3.2 3.2 4.2 4.8 6 7.9 2.2 3.2 0.9 1.6 1.3 3.1 0.8 3.2 0.4 3.2 0.3 3.2-0.1 1.5-0.6 3.2-0.6 4.6-24.9 0-1.3-4.6-1.3-1.1-4.8-2.8-3.2-2.3-1.6-1.7-1.1-1.6-0.7-1.6-0.2-1.6 0.2-1.6 0.4-1.6 0.6-1.5 2.5-4.8 0.7-1.6 0.4-1.6 1.2-6.3 0.9-3.2 1.6-3.2 1.5-2.5zM9.3 90.5l1.8-0.4 1.6 0.2 1.6 1 0.6 0.8 0.9 1.6 0.3 1.5-0.2 2.7-0.7 5.1-9.4 0-0.5-4.6-0.3-1.6 0.1-1.6 0.4-1.5 1.2-1.6 1.2-0.9z"/><path fill="#bababa" d="M8.2 1.6l1.3-1.2 1.6-0.2 1.6 1 0.9 2 0.3 1.6 0 1.5-0.3 1.6-0.9 1.9-1.6 1.2-1.6-0.2-1.6-1.1-0.9-1.8-0.3-1.6 0.1-1.5 0.5-1.6zM66.2-3l13.9 0-1.5 4.6-2.4 1.9-1.6 0.8-1.6 0.4-1.6 0.1-1.6-0.4-1.5-0.9-1.5-1.9zM56 57.1l1.1-0.7 1.6 0.2 3.2 2.2 4.8 4.1 3.1 3.2 3.2 3.7 7 9.6 1.7 3.1 0.6 1.6 0.7 3.2 0.4 3.2-0.1 3.2-0.2 1.5-0.6 2.1-1.3 5.7-21.5 0-1.2-4.6-1.6-1.6-4.5-2.5-3.2-2-1.9-1.8-1.2-1.6-0.7-1.6-0.2-1.6 0.1-1.6 0.4-1.6 0.6-1.5 3-6.4 1.5-7.4 1.2-3.7 2-3.8 1.6-2.2zM8.2 93.7l1.3-1.1 1.6-0.4 1.6 0.5 0.8 1 0.8 1.5 0.1 1.6-0.3 1.6-0.8 4.6-5 0-0.8-4.6-0.3-1.6 0.2-1.6z"/><path fill="#c0c0c0" d="M66.8-3l11.3 0-1.5 4.6-2 1.5-1.6 0.6-1.6 0.2-1.6-0.3-1.5-1-0.8-1zM9.5 4.8l1.6-0.9 0.5 0.9-0.1 1.5-0.4 0.8-1.6-0.5zM56.6 58.7l0.5-0.4 1.6 0 1.6 0.8 3.2 2.1 3.2 2.7 3.1 3.1 2.5 2.8 6 8 2 3.2 1.4 3.1 0.4 1.6 0.4 3.2 0.1 3.2-0.6 3.1-0.6 1.6-1 1.6-1.3 4.6-17.8 0-2.6-6.2-2.3-1.6-2.4-1.1-3.2-1.7-2.3-1.9-1.2-1.6-0.8-1.6-0.3-1.6 0.1-1.6 0.3-1.6 0.6-1.5 2.3-4.8 0.6-1.6 1.3-6.3 1-3.2 1.6-3.3 1.6-2.2z"/><path fill="#c6c6c6" d="M67.4-3l8.8 0-1.6 4.6-1.6 1-1.6 0.4-1.6-0.2-1.5-1.1zM57.4 60.3l1.3-0.2 1.6 0.5 1.6 0.8 3.2 2.1 3.2 2.8 3.3 3.5 6 8 1.8 2.6 1 2.1 1.1 3.2 0.2 1.6 0.2 3.2-0.5 3.2-0.6 1.5-1.4 2.5-1.6 1.5-1.4 3.8-12.9-3.1-1.6-1.1-1.8-2-1.7-1.6-4.4-2-3.2-1.9-1-0.8-1.4-1.6-0.8-1.6-0.3-1.6 0-1.6 0.3-1.6 0.5-1.5 2.7-6.4 1.1-4.8 0.9-3.1 1.2-2.7 1.4-2.1 1.7-1.5z"/><path fill="#cccccc" d="M68-3l6.5 0-1.5 4.4-1.6 0.7-1.6-0.2-1.5-1.3zM58.2 61.9l0.5-0.2 1.6 0.3 1.6 0.6 3.2 1.9 3.2 2.7 3.1 3.3 5.6 7.3 2 3.2 0.8 1.5 0.6 1.6 0.7 3.2 0.1 3.2-0.3 1.6-0.5 1.6-1 2-1.6 1.8-1.6 1-1.6 0.6-1.6 0.2-1.6 0-6.3-0.7-1.6-0.4-1.6-1.1-2.1-1.9-1.1-0.7-4.7-2.1-2.9-1.9-1.6-1.6-0.9-1.6-0.4-1.6 0-1.6 0.3-1.6 0.4-1.5 2.6-6.4 1.7-6.3 0.8-2 1.6-2.6 1.5-1.5z"/><path fill="#d2d2d2" d="M68.9-3l3.9 0-1.4 3.9-1.6 0zM58.2 63.5l0.5-0.2 1.6 0 1.6 0.4 1.6 0.8 1.6 1 3.2 2.5 3.1 3.4 4.9 6.4 2.1 3.2 1.5 3.1 0.4 1.6 0.3 3.2-0.2 1.6-0.3 1.6-0.7 1.7-1.6 2.2-1.6 1.1-1.6 0.7-1.6 0.2-1.6 0-3.1-0.5-3.2-0.2-1.6-0.5-1.6-0.9-3.1-2.2-3.8-1.6-2.6-1.6-1.8-1.6-1-1.6-0.5-1.6 0-1.6 0.2-1.6 0.4-1.5 2.4-6.4 1.9-6 1.6-3 1.5-1.6z"/><path fill="#d8d8d8" d="M58.1 65.1l0.6-0.4 1.6-0.2 1.6 0.3 1.6 0.7 3.2 2 2.5 2.3 2.2 2.5 4.8 6.3 1.6 2.4 1.5 3.1 0.4 1.6 0.2 1.6 0 1.6-0.2 1.6-0.3 1.3-1 1.9-0.6 0.8-1.6 1.4-1.6 0.7-1.6 0.2-1.6 0-3.1-0.4-3.2-0.2-1.6-0.4-1.6-0.9-1.9-1.2-4.4-2.1-1.9-1.1-2-1.6-1.1-1.6-0.5-1.6-0.2-1.6 0.2-1.6 0.4-1.5 1.8-4.8 1.7-5.4 1.1-2.5 0.5-0.8 1.5-1.9z"/><path fill="#dedede" d="M57.8 66.7l0.9-0.6 1.6-0.4 1.6 0.2 1.6 0.5 1.6 0.9 1.6 1 1.6 1.4 1.7 1.7 6.2 8.1 1.6 2.6 0.9 2 0.4 1.6 0.2 1.6 0 1.6-0.3 1.6-0.6 1.6-0.6 1-1.6 1.5-1.6 0.9-1.6 0.3-1.6 0.1-6.3-0.6-1.6-0.4-8.6-4.4-2-1.6-1.3-1.6-0.6-1.6-0.2-1.6 0.1-1.6 0.3-1.5 2.8-8 1.2-3.2 1-1.5 0.9-1.2z"/><path fill="#e4e4e4" d="M57.5 68.3l1.2-1 1.6-0.5 1.6 0.1 1.6 0.4 1.6 0.8 1.6 1.1 1.6 1.3 1.5 1.6 5.7 7.3 1.9 3.1 0.7 1.6 0.4 1.6 0.2 1.6 0 1.6-0.4 1.6-0.8 1.6-1.3 1.4-1.6 1-1.6 0.4-1.6 0.1-6.3-0.4-1.6-0.4-7.4-3.7-2.1-1.6-1.4-1.6-0.8-1.6-0.2-1.6 0.1-1.6 0.3-1.5 2-6.1 1.3-3.5 0.9-1.6z"/><path fill="#ebebeb" d="M59.4 68.3l0.9-0.4 1.6 0 1.6 0.3 1.6 0.7 1.6 1.1 1.6 1.3 1.6 1.7 3.7 4.8 2.3 3.2 1.6 3.1 0.5 1.6 0.1 1.6-0.1 1.6-0.5 1.6-1.1 1.6-1.8 1.4-1.6 0.5-1.6 0.2-4.7-0.2-1.6-0.1-1.6-0.4-1.6-0.6-4.6-2.4-2.3-1.6-1.5-1.6-0.8-1.6-0.3-1.6 0-1.6 0.7-3.1 1.7-4.8 1.4-3.2 1.1-1.6 1.4-1.3z"/><path fill="#f1f1f1" d="M58.6 69.8l1.7-0.9 1.6-0.1 1.6 0.3 1.6 0.7 1.6 1 2.4 2.2 2.3 2.8 2.8 3.6 2 3.1 0.7 1.6 0.4 1.6 0.2 1.6-0.2 1.6-0.7 1.6-0.4 0.6-1.6 1.4-1.6 0.7-1.6 0.2-4.7 0-1.6-0.2-1.6-0.3-1.6-0.6-3.5-1.8-2.4-1.6-1.5-1.6-0.9-1.6-0.4-1.6-0.1-1.6 0.3-1.5 0.9-3.2 1.3-3.5 1.5-3z"/><path fill="#f7f7f7" d="M60.9 69.8l1-0.1 1.6 0.2 1.6 0.7 1.6 1 1.6 1.4 1.5 1.7 4.8 6.3 1.7 3.1 0.4 1.6 0.2 1.6-0.3 1.6-0.4 0.9-0.5 0.7-1.1 1-1.6 0.8-1.6 0.4-3.1 0.1-3.2-0.2-1.6-0.3-1.6-0.6-2.5-1.2-2.4-1.6-1.6-1.6-1-1.6-0.5-1.6 0-1.6 0.1-1.5 0.9-3.2 1.2-3.2 1-1.9 1.6-1.9 1.6-0.9z"/><path fill="#fdfdfd" d="M59.5 71.4l0.8-0.5 1.6-0.3 1.6 0.1 1.6 0.7 1.6 1 1.6 1.4 3.1 3.7 1.6 2.2 1.8 2.8 0.8 1.6 0.5 1.6 0.1 1.6-0.4 1.6-1.2 1.6-1.6 1-1.6 0.4-3.1 0.3-3.2-0.2-1.6-0.3-3.2-1.3-2.4-1.5-1.7-1.6-1-1.6-0.5-1.6-0.1-1.6 0.1-1.5 0.9-3.2 1.3-3.2 1-1.6 0.8-1z"/></g></g></g></g></svg>
<path class="k" d="M201 853v10M200 562h-10M315 853v10M200 676h-10M429 853v10M200 790h-10"/>
<rect class="k" x="200" y="561" width="292" height="292"/>
<rect x="510" y="548" width="16" height="318" fill="url(#vg)"/>
<path class="k" d="M526 601h10M526 707h10M526 813h10"/>
<rect class="k" x="510" y="548" width="16" height="318"/>
<text class="l" x="545.45" y="612.31">2</text><text class="l" x="545.45" y="718">0</text><text class="l" x="545.45" y="823.69">−2</text>
<!-- panel r1 c1 -->
<svg x="637.65" y="561.12" width="291.76" height="291.76" viewBox="0 0 1400 1400" preserveAspectRatio="none" overflow="hidden"><use href="#P10"/></svg>
<path class="k" d="M639 853v10M638 562h-10M753 853v10M638 676h-10M867 853v10M638 790h-10"/>
<rect class="k" x="638" y="561" width="291" height="292"/>
<rect x="948" y="548" width="16" height="318" fill="url(#vg)"/>
<path class="k" d="M964 601h10M964 707h10M964 813h10"/>
<rect class="k" x="948" y="548" width="16" height="318"/>
<text class="l" x="983.1" y="612.31">2</text><text class="l" x="983.1" y="718">0</text><text class="l" x="983.1" y="823.69">−2</text>
<!-- panel r1 c2 -->
<svg x="1075.29" y="561.12" width="291.76" height="291.76" viewBox="0 0 1400 1400" preserveAspectRatio="none" overflow="hidden"><g filter="url(#cmn1)"><g filter="url(#bc)"><rect x="-70" y="-70" width="1540" height="1540" fill="#080808"/><g transform="scale(14)"><path fill="#0e0e0e" d="M-3-3l106 0 0 106-106 0z"/><path fill="#141414" d="M-3-3l106 0 0 106-106 0z"/><path fill="#1b1b1b" d="M-3-3l106 0 0 106-106 0z"/><path fill="#212121" d="M-3-3l106 0 0 106-106 0z"/><path fill="#272727" d="M-3-3l106 0 0 106-106 0z"/><path fill="#2d2d2d" d="M-3-3l106 0 0 106-106 0zM19 13.5l-0.5 0.8-0.3 1.6 0.1 1.6 0.7 2.3 1.6 1.8 1.6-0.5 0.3-0.5 0.7-1.6 0.2-1.5-0.2-1.6-0.6-1.6-0.4-0.5-1.6-1z"/><path fill="#333333" d="M-3-3l106 0 0 106-106 0zM19 11.9l-0.8 0.8-0.9 1.6-0.4 1.6 0 1.6 0.3 1.5 0.5 1.6 1.3 2.4 1.6 1.4 1.6 0 1.6-2.1 0.7-1.7 0.5-1.6 0.1-1.5-0.3-1.6-1-2.2-0.8-1-0.8-0.8-1.6-0.5z"/><path fill="#393939" d="M-3-3l106 0 0 106-106 0zM19 10.5l-1.5 1.4-0.6 0.8-0.7 1.6-0.3 1.6-0.1 1.6 0.2 1.5 1.1 3.2 1 1.6 0.9 1.2 1.6 1 1.6 0.1 1-0.7 1.2-1.6 1-1.6 0.7-1.6 0.3-1.6 0.1-1.5-0.2-1.6-0.9-2.1-0.7-1.1-1.3-1.6-1.2-0.7-1.6-0.3z"/><path fill="#3f3f3f" d="M-3-3l106 0 0 106-106 0zM19 9.2l-1.5 1.1-1.6 2.4-0.6 1.6-0.4 1.6-0.1 1.6 0.1 1.5 0.4 1.6 0.7 1.6 0.8 1.6 1.1 1.6 1.1 1.1 1.6 0.8 1.6 0 1.6-0.9 2.1-2.6 0.9-1.6 0.7-1.6 0.3-1.6 0.2-1.5-0.2-1.6-0.4-1.6-0.9-1.6-1.1-1.6-1.6-1.6-1.6-0.7-1.6-0.1z"/><path fill="#454545" d="M-3-3l106 0 0 106-106 0zM19 7.8l-1.5 1.1-0.7 0.6-0.9 1.3-0.9 1.9-1 3.2-0.2 1.6 0.1 1.5 0.4 1.6 0.6 1.6 1 1.9 1.6 2.3 1.5 1.4 1.6 0.7 1.6 0 1.6-0.6 1.2-0.9 2.4-3.2 0.8-1.6 0.7-1.6 0.3-1.6 0.2-1.5 0-1.6-0.3-1.6-0.5-1.5-0.9-1.7-1.2-1.6-1.1-1-1.6-0.9-1.6-0.3-1.6 0zM52.4 37.4l-0.9 0.7-1 1.6 0.1 1.6 1.8 1.7 1.6 0.3 1.6-0.4 1.4-1.6 0.2-1.6-0.8-1.6-0.8-0.7-1.6-0.4z"/><path fill="#4b4b4b" d="M-3-3l106 0 0 106-106 0zM20.6 5.8l-1.6 0.6-1.5 0.9-2 2.2-0.8 1.6-1.3 3.2-0.4 1.6-0.2 1.6 0 1.5 0.4 1.6 1.5 3.2 1.2 2 1.6 2 1.5 1.2 1.6 0.6 1.6 0.1 1.6-0.4 1.6-1 1.4-1.3 1.2-1.6 0.9-1.6 1.4-3.2 0.4-1.6 0.3-3.1-0.4-3.2-0.5-1.6-0.8-1.6-1.2-1.6-1.1-0.9-1.6-0.8-1.6-0.5-1.6-0.1zM50.8 36.3l-1.6 1.8-0.6 1.6 0 1.6 0.6 1.3 1.6 1.6 1.6 0.6 1.6 0.3 1.6-0.2 1.5-0.7 1.4-1.3 0.8-1.6 0.1-1.6-0.4-1.6-1.1-1.6-0.8-0.6-1.5-0.7-1.6-0.2-1.6 0.4z"/><path fill="#525252" d="M-3-3l106 0 0 106-106 0zM20.6 4.2l-1.6 0.6-1.5 0.9-1.6 1.5-1.5 2.3-0.8 1.6-1.6 4.8-0.3 1.6 0 1.5 0.4 1.6 1.5 3.2 2 3.2 1.3 1.6 0.6 0.6 1.5 1.1 1.6 0.6 1.6 0.1 1.6-0.3 1.2-0.5 2-1.4 1.6-1.8 1.1-1.6 1.6-3.2 1-3.2 0.5-3.1 0.1-3.2-0.6-3.2-0.6-1.4-1.5-2.1-2.1-1.2-2.7-0.8-1.6-0.2-1.6 0.1zM54 33.2l-1.6 0.3-1.6 0.7-1.6 1.1-1.1 1.2-1 1.6-0.4 1.6 0 1.6 0.5 1.6 1.3 1.5 0.7 0.6 1.6 0.9 1.6 0.5 1.6 0.2 1.6 0 2-0.6 1.1-0.6 1.1-1 1.1-1.5 0.5-1.6 0.1-1.6-0.3-1.6-0.7-1.6-1.2-1.6-2.2-1.2-1.5-0.4zM90.5 26.7l-0.5 0.3 2.1 0.5 1.6 0 1.6-0.5-0.1-0.3-1.5-1.3-1.6 0.5z"/><path fill="#585858" d="M-3-3l106 0 0 106-106 0zM19 3.1l-1.5 0.9-1.6 1.4-1.9 2.5-0.8 1.6-2.4 6.4-0.3 1.6 0 1.5 0.4 1.6 0.7 1.6 2.9 4.8 1.4 1.9 1.6 1.7 1.5 1 1.6 0.6 1.6 0.1 1.6-0.2 1.6-0.6 2.4-1.3 1.6-1.6 1.2-1.6 0.9-1.6 1.4-3.2 1.6-4.7 0.8-4.8 0.2-3.2 0-1.6-0.2-1.6-0.6-1.5-1.4-1.5-1.6-0.8-1.5-0.4-1.6-0.3-3.2 0-3.2 0.2-1.6 0.4zM54 31.5l-1.6 0.3-1.6 0.5-2 1-2 1.6-1.2 1.6-0.7 1.6-0.3 1.6 0.1 1.6 0.4 1.6 1 1.5 1.5 1.5 1.6 0.9 2.2 0.8 2.6 0.5 1.6 0.1 1.5-0.2 1.6-0.5 1.6-0.9 0.7-0.6 1.4-1.6 0.7-1.5 0.5-1.6 0.1-1.6-0.2-1.6-0.5-1.6-0.8-1.6-1.9-1.9-1.6-0.9-1.6-0.5-1.5-0.2zM90.5 23.7l-3.2 0.8-1.6 0.7-0.4 0.2-1.2 1.4-0.1 0.2 0.3 1.6 1.4 0.8 1.6 0.5 1.6 0.1 3.2 0 1.6-0.3 1.5-0.5 1.4-0.6 1.6-1.6 0.2-1.6-1.6-1.3-0.6-0.3-2.5-0.3z"/><path fill="#5e5e5e" d="M-3-3l25.2 0-3.2 4.2-1.5 0.9-1.6 1.3-1.6 1.8-1.6 2.7-2.6 6.4-0.9 3.2 0 1.5 0.4 1.6 0.7 1.6 5.6 8.2 1.6 1.7 1.5 1 1.6 0.5 1.6 0.1 1.6-0.2 1.6-0.4 1.6-0.5 1.6-0.9 1.9-1.5 1.3-1.6 0.9-1.6 3.4-8 4.3-12.7 0.4-1.5 0.1-1.6-0.2-1.6-0.9-4.6 63.2 0 0 27.4-3.5-0.6-1.1-0.7-1.6-0.6-1.6-0.3-3.5 0-4.4 0.8-2.6 0.8-2.3 1.6-1.1 1.6-0.2 1.6 0.9 1.6 2.1 1 1.6 0.3 1.6 0.1 3.2 0 3.2-0.5 2.7-0.9 2.5-1.6 4.1-1.3 0 75.7-63.9 0-2.6-4-1.6-0.5-1.6-0.2-3.1-0.3-3.2 0.1-1.6 0.3-1.6 0.5-1.9 4.1-24.9 0zM52.4 29.9l-3.2 1-1.6 0.8-2.2 1.6-1.4 1.6-0.9 1.6-0.5 1.6-0.2 1.6 0.1 1.6 0.4 1.6 0.7 1.5 1.3 1.6 2.3 1.6 2 0.8 3.2 0.9 3.2 0.4 1.5 0 1.6-0.2 1.6-0.6 1.6-0.9 1.6-1.5 1.4-2.1 0.6-1.5 0.4-1.6 0.2-1.6 0-1.6-0.2-1.6-0.6-1.6-0.9-1.6-0.9-0.8-1.6-1.2-1.6-0.8-1.6-0.6-1.6-0.3-1.5-0.1z"/><path fill="#646464" d="M-3-3l20.6 0-1.7 4.3-1.6 1.7-1.3 1.8-0.9 1.5-4 9.6-0.4 1.6-0.1 1.5 0.3 1.6 0.8 1.6 2.4 3 4.8 6.9 1.6 1.7 1.5 0.9 1.6 0.5 1.6 0.1 1.6-0.2 3.2-0.6 3.1-1.2 2.4-1.6 1.3-1.5 0.8-1.6 1.7-4.8 1.8-3.8 3.2-5.9 3-4.6 1.7-3.2 0.9-3.1 0.1-1.6-0.1-4.6 56.1 0 0 25.5-4.6-0.7-1.6-0.4-3.1-0.3-3.2 0.2-4.8 0.8-1.6 0.6-2.4 1.1-2.1 1.6-1.4 1.6-0.7 1.6 0.1 1.6 1.4 1.5 2 0.8 3.1 0.6 4.8-0.1 4.8-0.7 3.1-1.1 2-1 4.2-0.9 0 73.7-58.7 0-3-4.9-3.2-1.4-3.2-0.8-3.2-0.2-4.7 0.3-3.2 0.6-1.6 0.6-1.6 0.8-2.4 5-21.2 0zM50.8 28.3l-3.2 1-3.2 1.6-1.2 0.8-1.7 1.6-1 1.6-0.5 1.6-0.3 3.2 0.2 1.6 0.4 1.6 0.7 1.5 1 1.6 1.6 1.6 2.4 1.4 1.6 0.6 6.4 1.5 3.1 0.4 1.6 0 1.6-0.2 1.6-0.6 1.6-0.9 1.6-1.3 1.6-2.3 0.9-1.8 1-3.1 0.6-3.2 0.1-3.2-0.4-1.6-1.2-1.6-2.2-1.5-2-1.1-3.2-1.1-3.2-0.6-1.5 0-1.6 0.2z"/><path fill="#6a6a6a" d="M-3-3l17.9 0-2.2 5.6-2.1 3.7-4.8 11.2-0.3 1.5 0.2 1.6 1 1.6 2.8 2.8 1.6 1.8 4.8 7.3 1.6 1.7 1.5 0.9 1.6 0.5 1.6 0 3.2-0.4 4.8-0.4 1.5-0.1 1.8 0.2 1.4 0.9 0.5 0.7 2.5 6.3 0.9 1.6 0.9 1.3 2 1.9 1.2 0.7 1.5 0.6 14.3 3.1 3.2 0.2 1.6-0.3 2-1.1 1.2-1.1 1.4-2.1 1.6-3.2 3.2-7.9 1.1-1.6 0.6-0.5 1.6-0.7 7.9-0.5 8-1 1.6-0.4 3.1-1.1 6.2-1.6 0 72.3-54.3 0-4.3-6-3.1-1.8-1.6-0.7-3.2-0.8-3.2-0.3-3.1 0.2-3.2 0.4-3.2 0.6-2.3 0.6-3 1.6-1.9 1.6-1.4 4.6-18.2 0zM51.6-3l51.4 0 0 24.2-4.6-0.6-1.6-0.3-3.1-0.2-4.8 0.4-3.2 0.5-3.9 1.2-3.2 1.6-4 2.5-1.6 0.8-1.6 0.5-1.6 0.1-1.5-0.2-8-2.1-3.2-0.5-3.1 0.2-4.8 1.1-6.3 1.2-1.6 0.1-1.3-0.5-0.3-0.6-0.2-1 0.4-1.6 1.4-2.5 2.5-3.8 4-4.8 1.1-1.6 0.7-1.6 1.2-3.2 0.4-1.5 0.4-3.2z"/><path fill="#707070" d="M-3-3l15.6 0-2 6.2-4.3 9.2-3.6 6.6-0.5 1.6 0.5 1.6 3.6 1.9 1.6 1.1 1.6 1.3 1.6 1.9 1.2 1.8 3.6 6.5 1.6 1.7 1.5 0.9 1.6 0.4 1.6 0 3.2-0.2 1.6 0.1 1.6 0.3 1.6 0.6 1.5 1.1 1.1 1.3 3.2 4.7 2.1 2.7 1.6 1.4 1.6 0.7 1.6 0.4 6.3 0.5 3.2 0.6 5.2 1.7 4.3 1.9 1.6 0.4 1.6-0.3 1.6-0.8 1.6-1.4 0.9-1.4 0.9-1.6 2.9-6.8 1.3-2.7 1-1.6 1.3-1.6 1.2-0.9 1.5-0.7 1.7-0.6 4.7-1.4 4.8-0.8 3.2-0.8 3.1-1.2 6.2-1.4 0 71.1-50.7 0-1.6-4.6-2-1.6-5.8-3.7-3.2-1.4-1.6-0.5-3.2-0.3-3.2 0.3-7.9 1.4-4.1 1.1-2.2 1.1-1.6 1.3-1.6 1.7-1.6 5.2-15.7 0zM55.2-3l47.8 0 0 23.1-6.2-0.7-3.1-0.2-3.2 0.1-3.2 0.4-4.8 1-9.5 3.3-1.6 0.3-1.6 0.1-1.5-0.1-3.2-0.6-8-2.3-3.2-0.8-1.5-0.9-0.5-0.7 0-1.5 1.4-4.8 1-4.8 0.7-4.7z"/><path fill="#767676" d="M-3-3l13.6 0-1.8 6.2-4 8.7-1.6 2.5-6.2 4zM58.5-3l44.5 0 0 22-4.6-0.3-3.2-0.4-4.7 0.2-6.4 0.8-9.5 2.2-3.2 0.4-3.1-0.3-3.2-0.9-1.6-0.6-1.9-1.1-2-1.5-1.1-1.6-0.6-1.6-0.2-1.6 0-3.2zM-3 25.4l0-0.9 7.8 0.6 1.5 0.6 2.1 1.3 1.1 0.9 1.7 2.3 1.7 3.1 1.8 4.8 1.2 2.2 1.6 1.8 1.5 1 1.6 0.4 4.8 0.5 1.6 0.4 1.6 0.8 1.1 0.8 2 2.1 2.1 2.7 2 3.2 1.8 3.1 0.5 1.2 1.6-0.6 0.6-0.6 2.6-1.2 1.5-0.5 3.2-0.5 3.2 0.2 3.2 0.9 2.4 1.1 2.2 1.6 3.3 2.9 1.6 0.4 1.6-0.3 2.8-1.4 2.2-1.6 1.3-1.5 1-1.6 0.6-1.4 1.6-4.6 1.6-3.2 2.4-3.5 1.5-1.6 2.2-1.6 3-1.6 2-0.8 6.4-1.6 9.3-2.7 0 70-47.3 0-3-6.2-1.9-1.6-6.4-4.2-3.1-1.8-1.6-0.7-1.6-0.4-1.6-0.1-3.2 0.4-6.3 1.5-6.4 1.1-1.6 0.5-1.5 0.6-1.6 1.1-1.6 1.4-1.9 2.2-2 6.2-13.4 0z"/><path fill="#7c7c7c" d="M-3-3l11.6 0-5.4 14.1-1.6 2.4-4.6 1.8zM61.6-3l41.4 0 0 21.1-6.2-0.5-4.7-0.1-8 0.8-7.9 1.3-3.2 0.2-3.2-0.3-1.5-0.5-1.6-0.6-1.6-0.9-1.8-1.6-1.1-1.6-0.6-1.6-0.4-1.6-0.2-3.2zM-3 27l0-0.9 6.2 0.1 1.6 0.2 1.5 0.5 1.6 0.9 1.6 1.5 1.6 2.4 0.8 1.6 2 8 1.1 6.3 0.9 1.2 1.6 0.2 4.7-0.4 1.6 0 1.6 0.3 1.6 0.6 1.6 1 2 1.9 1.1 1.5 0.9 1.7 0.6 1.5 1.1 4.8 0.6 1.8 1.6 1.9 1.6 0.5 1.6-0.7 0.3-0.3 1.1-1.6 1.5-3.2 1.2-1.6 0.6-0.5 1.6-0.9 1.6-0.5 1.6-0.1 1.6 0.1 1.6 0.4 1.6 0.7 1.4 0.8 1.7 1.6 3.2 3.5 1.6 0.9 1.6 0.1 1.6-0.4 2.1-0.9 2.8-1.6 2.3-1.6 1.6-1.6 1.1-1.6 0.9-1.5 2.2-4.8 2.8-4.8 2.3-3.1 1.6-1.6 2.5-1.9 6.4-2.4 9.3-2.9 0 68.9-44 0-3.4-7.2-1.6-1.5-1.6-1.3-3.9-2.5-5.6-4.4-1.6-0.9-1.6-0.6-1.6-0.3-1.6 0.1-1.6 0.3-7 2.6-2.5 0.7-4.8 0.5-1.6 0.3-1.5 0.5-1.6 0.9-1.6 1.2-1.6 1.8-2.6 3.6-1.7 6.2-11.4 0z"/><path fill="#838383" d="M-3-3l9.6 0-3.8 10.9-1.2 2.3-4.6 2.3zM64.9-3l38.1 0 0 20.1-7.8-0.6-3.1 0.1-14.3 1.3-3.2 0.2-3.2-0.5-1.6-0.5-2.1-1.2-1.6-1.6-1-1.6-0.6-1.6-0.3-1.6-0.1-3.2zM-3 28.6l0-1.4 6.2 0.1 1.6 0.2 1.5 0.5 1.6 1.1 1.6 1.7 0.7 0.9 0.7 1.6 0.5 1.6 0.6 4.8 0.1 3.2-0.3 1.5-0.6 1.6-3.6 6.4-0.4 1.6 0.2 1.6 0.5 0.8 0.8 0.7 0.8 0.5 1.6 0.2 1.6-0.4 4.8-3 1.5-0.9 1.6-0.5 1.6-0.4 1.6 0 1.6 0.3 1.6 0.7 1.6 1.1 1.8 2.4 1.3 3.2 1.6 5.8 1.6 3.3 1.4 2 0.2 0.6 0.8 1 0.4 1.6-0.3 1.6-1 1.6-1.5 1.6-1.9 1.6-2.5 1.5-3 1.6-2.1 0.8-1.6 0.3-3.2 0.1-1.6 0.2-1.5 0.5-1.6 0.9-1.6 1.2-1.6 1.7-2.8 3.9-1.9 3.1-1.7 6.2-9.3 0zM97.1 36.5l5.9-1.3 0 67.8-40.5 0-3.8-8.4-1.6-1.9-1.5-1.5-1.6-1.2-3.2-2-1.6-1.4-4.8-6.6-3.1-3.8-0.8-1.6 0.1-1.6 0.7-1.7 2.4-7.8 0.7-1.6 1.1-1.6 0.5-0.5 1.6-1 1.6-0.3 1.6 0 1.6 0.5 2 1.3 1.5 1.6 2.8 4.2 1.6 1.1 1.6 0.3 1.6-0.2 1.6-0.6 8.6-4.8 1.8-1.6 2.7-3.2 5.8-7.9 2.5-4.8 1-1.5 1.6-1.6 2.4-1.6z"/><path fill="#898989" d="M-3-3l7.6 0-3 9.1-4.6 2.7zM68.2-3l34.8 0 0 19.1-6.2-0.4-3.1-0.1-8 0.6-9.5 0.3-3.2-0.5-1.6-0.7-1.6-1-1.4-1.6-0.8-1.6-0.4-1.6-0.1-3.2zM-3 28.6l0-0.4 4.6 0 1.6 0 1.6 0.3 1.5 0.6 1.5 1.1 1.4 1.5 0.8 1.6 0.5 1.6 0.2 1.6 0.1 3.2-0.2 1.6-0.3 1.6-0.8 1.7-1.6 2.4-1.6 1.6-2.7 2.2-1.6 1.6-0.8 1.6-0.1 1.6 0.3 1.5 0.9 1.6 1.7 1.6 2.5 1.6 3 1.5 1.6 0.6 1.6 0 1.6-1 3.3-4.3 1.9-1.6 1.1-0.6 1.6-0.5 1.6-0.2 1.6 0.3 1.8 1 1.4 1.5 0.9 1.7 0.9 3.2 1 6.3 0 3.2-0.3 1.6-0.7 1.6-1.2 1.6-2 1.6-1.8 0.6-1.6 0.3-4.8-0.4-1.5 0.7-4.8 5.8-3.2 4.5-2.7 4.3-2.5 7.8-7.3 0zM99.6 36.5l3.4-0.2 0 66.7-35.8 0-2.8-6.2-4.1-6.5-4.1-6.2-0.6-1.6-0.3-1.5-0.1-6.4-1.2-0.9-3.2-0.9-1.6-0.7-1.6-1.3-0.6-1-0.7-1.5-0.3-1-0.1-2.2 0.4-1.6 0.7-1.6 0.6-0.6 1.6-0.9 1.6 0 1.6 0.9 0.7 0.6 0.9 1.2 0.8 2 0.7 3.2 0.5 3.1 1.1 1.5 1.6-0.2 1.6-0.7 3.2-1.9 6.3-4.2 4.3-2.4 2.1-1.5 6.3-5.9 4.4-3.7 1.4-1.6 0.6-1.2 1.7-5.2 1-1.5 1.4-1.6 1.9-1.6 2.1-1.6z"/><path fill="#8f8f8f" d="M-3-3l5.3 0-5.3 7.5zM71.3 1.6l0.4-4.6 31.3 0 0 18.1-6.2-0.3-3.1-0.2-6.4 0.5-7.9-0.1-3.2-0.2-2.1-0.5-1.1-0.6-1.3-1-1-1.6-0.6-1.6-0.1-1.6 0.1-1.6 0.2-1.5zM-3 30.2l0-1 4.6-0.1 1.6 0.1 1.6 0.2 1.6 0.8 1.5 1.3 1.2 1.8 0.5 1.6 0.2 1.6 0 1.6-0.2 1.6-0.3 1.6-0.7 1.6-1 1.5-1.3 1.4-1.5 1.2-7.8 2.5zM99.6 38.1l3.4-0.2 0 65.1-31.3 0-3.4-6.7-2.1-2.6-1.8-3.2-2.1-4.8-1-3.2-0.1-1.5 0.1-1.6 1.1-3.2 1.7-3.2 1.3-1.6 1.6-1.6 1.9-1.5 2.5-1.8 5.1-3 6-4.4 6.1-3.5 2.3-1.6 1.4-1.6 0.9-1.6 0.4-1.6 0.5-3.2 0.4-1.6 0.7-1.5 1.1-1.6 1.4-1.6zM20.5 60.3l1.7-1.1 1.6-0.4 1.6 0.4 1.6 1.2 0.8 1.5 0.4 1.6 0.2 1.6-0.4 3.2-1 3.2-1.6 1.8-1.6 0.2-1.6-0.8-1.6-1.6-0.9-1.3-0.9-1.5-0.4-1.6-0.1-1.6 0.4-1.6 0.6-1.6zM-3 61.9l0-0.2 6 1.8 3.3 1.7 2.3 1.5 1.8 1.6 1 1.5 0.5 1.6 0.3 3.2 0.5 2.2 0.4 1 0.2 1.6-0.1 1.6-0.5 1.5-0.7 1.6-6.4 9.6-3.4 9.3-5.2 0z"/><path fill="#959595" d="M75.2-3l27.8 0 0 17.1-6.2-0.4-3.1-0.1-6.4 0.5-1.6 0-6.3-0.7-3.5-0.7-1.3-0.8-0.7-0.8-0.7-1.6-0.2-1.6 0.1-1.6 0.4-1.5zM0.2 30.2l3-0.1 1.6 0.3 1.5 0.8 0.7 0.5 1.1 1.6 0.6 1.6 0.2 1.6-0.1 1.6-0.3 1.6-0.6 1.6-1.6 2.2-1.5 1.3-1.6 0.9-6.2 1.2 0-16.7zM99.9 41.3l3.1 7.4-4-2.7-0.1-1.6 0.3-1.5zM99.4 55.6l3.6-0.7 0 48.1-27.8 0-6.6-10.9-1.9-3.2-1.4-3.2-1-3.2-0.1-1.5 0-1.6 0.3-1.6 1.1-3.2 0.9-1.6 1.2-1.6 1.5-1.6 1.9-1.5 2.3-1.6 9.1-5.5 4.8-2 3.2-0.9 5.2-1.2 2.7-0.9zM-3 65.1l0-0.3 7.8 2.2 2 1.3 1.7 1.5 0.9 1.6 0.7 1.6 1.1 4.8 0.1 1.6-0.1 1.6-0.5 1.5-0.7 1.6-2.1 3.1-3.6 4.9-1.9 3.1-5.4 4.5z"/><path fill="#9b9b9b" d="M77.7 1.6l0.4-4.6 24.9 0 0 16-7.8-0.5-1.5 0-6.4 0.5-3.2-0.5-5-1.4-1.3-0.8-0.8-0.8-0.6-1.6 0-1.6 0.3-1.5zM-3 31.7l0-0.5 4.6-0.2 1.6 0 1.6 0.3 0.7 0.4 0.8 0.7 0.8 0.9 0.7 1.6 0.2 1.6-0.2 1.6-0.5 1.6-1 1.6-1.5 1.5-1.6 0.9-6.2 1zM86.2 61.9l2.7-0.5 1.6 0 3.2 0.3 3.1 1.1 6.2 2 0 38.2-25.2 0-1.6-5.4-4.5-5.5-1.9-2.6-1.5-2.7-1.2-2.7-0.7-3.1 0-1.6 0.2-1.6 0.3-1.6 0.6-1.6 0.9-1.6 1.2-1.6 1.5-1.6 1.9-1.5 3.2-2 3.2-1.7 3.1-1.5zM-3 68.3l0-1.1 6.2 1.2 1.6 0.8 0.9 0.6 1.7 1.6 1 1.6 0.6 1.6 0.8 3.2 0 1.6-0.2 1.6-0.6 1.5-0.8 1.6-1.9 2.5-3.3 3.9-1.2 1.6-4.8 2.9z"/><path fill="#a1a1a1" d="M80.8 1.6l0.4-4.6 21.8 0 0 14.6-9.3-0.5-6.4 0.4-1.9-0.4-2.9-1.3-0.6-0.3-1.4-1.6-0.5-1.6 0.1-1.5zM-3 33.3l0-0.9 4.6-0.4 1.6-0.1 1.6 0.4 1.3 1 0.2 0.5 0.6 1.1 0.1 1.6-0.3 1.6-0.4 0.9-1.5 1.9-1.6 0.9-1.6 0.5-4.6 0.2zM81.4 65.1l2.7-0.9 3.2-0.4 3.2 0.2 1.6 0.4 1.6 0.7 2.4 1.6 1.7 1.6 5.2 2.5 0 32.2-22.9 0-2.3-6.7-5.7-7.4-2.1-3.2-1.3-3.2-0.4-1.5-0.1-1.6 0.1-1.6 0.3-1.6 0.6-1.6 0.8-1.6 1.4-1.8 1.4-1.4 1.8-1.3 3.2-1.8zM-3 69.8l0-0.3 6.2 0.9 1.6 0.8 1.5 1.3 1.4 2.1 0.5 1.6 0.3 1.6 0 1.6-0.4 1.6-0.7 1.5-1.1 1.6-1.5 1.8-3.3 3-4.5 1.7z"/><path fill="#a7a7a7" d="M84.8-3l18.2 0 0 12.8-9.3-0.5-4.8 0.1-1.6-0.3-1.6-0.8-0.5-0.4-1-1.6-0.3-1.5 0.1-1.6zM0.9 33.3l0.7-0.2 1.6-0.2 1.4 0.4 1.2 1.6 0.2 1.6-0.6 1.6-0.6 0.8-1.6 1.1-1.6 0.2-4.6-0.2 0-6.1zM80.7 66.7l1.8-0.6 3.2-0.4 1.6 0 1.6 0.3 2.1 0.7 2.7 1.5 1.5 1.4 1.7 1.8 6.1 4 0 27.6-20.6 0-4.6-10.1-4.8-6-1.6-2.4-0.9-2-0.4-1.5-0.2-1.6 0-1.6 0.2-1.6 0.6-1.6 0.9-1.6 1.2-1.6 1.8-1.6 3.2-1.9zM-3 73l0-1.3 6.2 0.6 1.6 0.8 1.5 1.7 0.7 1.4 0.2 1.6-0.1 1.6-0.5 1.6-1.1 1.5-0.7 1-1.6 1.4-6.2 2.2z"/><path fill="#adadad" d="M89.5-3l13.5 0 0 10-6.2-0.1-4.1-0.6-2.2-0.9-0.8-0.6-0.5-1.6zM1.5 34.9l1.7-0.6 1.3 0.6 0 1.6-1.3 1.3-1.6-0.4-0.6-0.9zM79.7 68.3l2.8-0.8 3.2-0.2 1.6 0.3 1.6 0.5 1.6 0.7 1.6 1.1 1.7 1.5 9.2 7.2 0 24.4-18.3 0-5.3-11.4-6.2-7.5-0.8-1.6-0.6-1.5-0.4-1.6 0-1.6 0.2-1.6 0.5-1.6 0.9-1.6 1.6-1.8 1.8-1.4 1.4-0.7zM-3 74.6l0-0.5 4.6-0.2 1.6 0.2 0.9 0.5 0.7 0.5 0.7 1.1 0.4 1.6-0.3 1.6-0.9 1.6-1.5 1.4-6.2 1.8z"/><path fill="#b4b4b4" d="M98.6-3l4.4 0 0 3.9zM78.7 69.8l2.3-0.7 1.5-0.3 1.6 0 1.6 0.2 1.6 0.5 1.6 0.8 1.7 1.1 3.1 2.9 5.7 6.7 3.6 0.9 0 21.1-15.7 0-2.5-6.2-3.8-6.5-1.1-1.4-3.7-3.8-1.6-2-1.2-2.1-0.4-1.6-0.2-1.6 0.2-1.6 0.5-1.6 1.1-1.7 1.6-1.6zM-3 77.8l0-0.5 4.6-0.8 1.6-0.2 0.8 1.5-0.8 1.7-1.6 0.8-4.6 0.2z"/><path fill="#bababa" d="M78.1 71.4l1.3-0.6 1.6-0.4 1.5-0.2 1.6 0.1 1.6 0.5 1.4 0.6 2.3 1.6 2.7 2.5 3.1 3.3 1.9 2.2 2 3.1 3.9 2.4 0 16.5-12.2 0-1.9-4.3-1.8-1.9-1.2-1.6-0.9-1.5-2.2-4.8-1.4-1.6-3.6-3.1-1.5-1.7-1.1-1.5-0.6-1.6-0.3-1.6 0.1-1.6 0.6-1.6 1-1.6z"/><path fill="#c0c0c0" d="M77.9 73l1.5-0.8 1.6-0.5 1.5 0 1.6 0.3 1.6 0.8 2.3 1.8 5.7 5.2 1.5 1.7 1.6 2.2 1 2 1.4 4.8 0.3 1.6 0 1.6-0.4 1.5-0.8 1.6-1.5 1.1-1.6 0.5-1.5-0.1-1.6-0.4-1.6-0.8-1.6-1.2-0.6-0.7-1.2-1.5-0.8-1.6-0.8-3.2-0.6-1.6-1.5-1.6-4.6-3.2-1.5-1.5-1-1.6-0.4-1.6 0-1.6 0.6-1.6z"/><path fill="#c6c6c6" d="M78.4 74.6l1-0.8 1.6-0.5 1.5 0.1 1.6 0.8 0.6 0.4 4.2 4.5 4.8 3.5 1.3 1.5 0.9 1.6 0.6 1.6 0.4 1.6 0.1 1.6-0.2 1.8-0.6 1.4-1 1-1.5 0.6-1.6-0.2-1.6-0.7-1.6-1.4-0.6-0.9-0.7-1.6-0.3-3.9-1.4-2.5-0.2-0.3-1.6-1-3.1-1.5-1.6-1.1-0.8-0.8-0.8-1.6-0.1-1.6z"/><path fill="#cccccc" d="M90.4 84.1l1.7 0.2 1.6 1.3 0.8 1.7 0.3 1.6-0.3 1.6-0.8 1.3-1.6 0.5-1.6-0.6-1-1.2-0.6-1.3-0.1-1.9 0.4-1.6z"/></g></g></g></svg>
<path class="k" d="M1076 853v10M1075 562h-10M1190 853v10M1075 676h-10M1304 853v10M1075 790h-10"/>
<rect class="k" x="1075" y="561" width="292" height="292"/>
<rect x="1385" y="548" width="16" height="318" fill="url(#vg)"/>
<path class="k" d="M1401 580h10M1401 644h10M1401 707h10M1401 770h10M1401 834h10"/>
<rect class="k" x="1385" y="548" width="16" height="318"/>
<text class="l" x="1420.75" y="591.18">0.04</text><text class="l" x="1420.75" y="654.59">0.02</text><text class="l" x="1420.75" y="718">0.00</text><text class="l" x="1420.75" y="781.41">−0.02</text><text class="l" x="1420.75" y="844.82">−0.04</text>
<!-- panel r2 c0 -->
<svg x="200" y="941.59" width="291.76" height="291.76" viewBox="0 0 1400 1400" preserveAspectRatio="none" overflow="hidden"><g id="P20"><g filter="url(#cmn2)"><g filter="url(#bc)"><rect x="-70" y="-70" width="1540" height="1540" fill="#080808"/><g transform="scale(14)"><path fill="#0e0e0e" d="M-3-3l106 0 0 106-106 0z"/><path fill="#141414" d="M-3-3l106 0 0 106-106 0z"/><path fill="#1b1b1b" d="M-3-3l106 0 0 106-106 0z"/><path fill="#212121" d="M-3-3l106 0 0 106-106 0z"/><path fill="#272727" d="M-3-3l106 0 0 106-106 0zM41.3 23.6l-1.6 0.4-1.6 0.7-1 0.7-0.6 0.8-0.5 0.8-0.3 1.6 0.8 1.6 1.6 0.3 1.6-0.3 3-1.6 1.7-1.6 0.8-1.6-0.8-1.6-1.5-0.3z"/><path fill="#2d2d2d" d="M-3-3l106 0 0 106-106 0zM14.3 68.1l-1.6 0.2-1.6 0.9-0.5 0.6-0.7 1.6 0.2 1.6 1 1.4 0.4 0.2 1.2 0.3 0.9-0.3 0.7-0.5 1.1-1.1 0.8-1.6 0.1-1.6-0.4-0.9-1.1-0.6zM39.7 20.3l-3.2 1.2-1.6 1-1.6 1.6-0.8 1.3-0.7 1.6-0.5 3.2 0.1 3.1 0.4 1.6 1.5 1.1 1.6 0 3.2-1 3.2-1.4 1.6-1 3-2.4 1.6-1.6 1.4-1.6 0.9-1.6 0.2-1.6-0.5-1.6-0.3-0.4-1.6-1.4-1.6-0.6-1.6-0.3-1.5 0.1z"/><path fill="#333333" d="M-3-3l106 0 0 106-106 0zM12.7 66l-1.6 0.7-1.6 1.4-1 1.7-0.4 1.6 0.3 1.6 1 1.6 1.7 1.1 1.6 0.2 1.6-0.5 1.4-0.8 1.6-1.6 0.9-1.6 0.5-1.6 0.1-1.5-0.6-1.6-0.7-0.8-1.6-0.5-1.6 0.1zM41.3 17.2l-4.8 1.6-1.6 0.8-1.5 1-1.7 1.7-1.5 2.7-0.7 2-0.3 1.6-0.8 6.3-0.2 3.2 0.4 2.4 0.5 0.8 1.1 0.7 1.5-0.5 1.6-0.7 6.4-3.3 3.2-2 3.1-2.6 3.2-3.3 1.6-2.1 1.1-2.1 0.3-1.6-0.1-1.6-0.6-1.6-0.7-1-1.6-1.4-1.6-0.9-1.6-0.5-1.6-0.1-1.5 0.1z"/><path fill="#393939" d="M-3-3l106 0 0 106-106 0zM14.3 63.1l-3.2 1.6-1.6 1.1-1.6 1.7-0.4 0.8-0.7 1.5-0.2 1.6 0.4 1.6 0.9 1.6 1.6 1.4 1.6 0.6 1.6 0.1 1.6-0.3 1.6-0.8 1.4-1 1.5-1.6 1.1-1.6 0.8-1.6 0.4-1.5 0.1-1.6-0.1-1.6-0.5-1.5-1.6-1.5-1.5 0zM42.9 13.8l-8 3.3-1.6 0.9-1.6 1.3-1.1 1.3-1.8 3.2-0.6 1.6-0.3 1.6-0.7 4.7-1.2 6.4-0.6 4.8-0.4 1.5-2 4.8-0.3 1.6 0.2 1.6 0.9 1.5 1.6-0.2 1.6-1.1 1.5-1.8 1.9-3.2 1.2-1.6 1.6-1.6 3.3-2.3 4.8-2.8 3.1-2.3 1.6-1.5 3.2-3.5 1.6-1.9 2.1-3.1 0.7-1.6 0.4-1.6 0.1-1.6-0.2-1.6-0.7-1.6-0.8-1-1.6-1.5-3.2-1.9-1.6-0.7-1.6-0.3z"/><path fill="#3f3f3f" d="M-3-3l106 0 0 41-4.6 0.4-2.2 1.3-1.1 1.6 1.1 1.6 2.2 0.8 4.6 0.2 0 59.1-106 0zM42.9 7.9l-1.6 1.5-1.1 1.7-1.4 1.6-2.3 1.2-3.2 1.4-1.6 1.2-1.5 1.8-1.6 2.6-1.3 2.9-0.5 1.6-0.9 6.3-2.3 11.2-0.6 1.5-2 4.8-1.4 4.8-0.6 1.6-1 1.5-1.5 1.6-2 1.6-5 3.3-1.6 1.4-1.3 1.7-0.8 1.6-0.5 1.5-0.1 1.6 0.4 1.6 0.8 1.6 1.7 1.6 1.4 0.7 1.6 0.5 1.6 0.1 1.6-0.4 2.2-0.9 2.2-1.6 1.6-1.6 1.3-1.6 0.9-1.6 0.6-1.5 0.4-1.6 0.7-4.8 0.3-1.6 1.8-3.2 2.3-2.8 3.4-5.1 1.3-1.8 1.6-1.6 1.6-1.2 6.4-3.6 1.5-1.3 1.6-1.5 4.8-5.9 1.6-2.1 2-3.2 0.8-1.6 0.5-1.6 0.2-1.6 0-1.6-0.3-1.2-1-1.9-1.5-1.6-4-3.2-4.7-4.3z"/><path fill="#454545" d="M-3-3l106 0 0 39.9-4.6 0.2-1.6 0.5-1.4 0.5-1.7 0.8-2.6 0.8-1.7 1.6 1.3 1.6 3 1.7 3.1 1.2 6.2 0.4 0 56.8-106 0zM39.7 1.1l-0.9 0.5-0.7 0.8-0.4 0.8-1.7 6.3-1.1 1.6-3.2 2.5-1.5 1.6-1.6 2.5-1.6 3.6-1.4 4.1-0.8 6.3-2.1 9.6-1.2 3.1-4 8.8-1.6 2.4-1.5 1.5-4.9 4.1-2.4 2.3-1.3 1.6-0.9 1.6-0.7 1.6-0.4 1.5 0 1.6 0.4 1.6 0.8 1.6 1.5 1.6 1.4 0.9 1.6 0.7 1.6 0.3 1.6 0 1.6-0.2 1.6-0.6 2.1-1.1 2.2-1.6 1.7-1.6 1.4-1.6 1-1.6 0.8-1.5 0.5-1.6 1.2-4.8 1.3-3.2 5.2-8.4 1.6-2 1.6-1.3 1.6-1 4.8-2.3 1.5-1.1 1.6-1.5 1.6-2 6.4-9 1.9-3.1 0.8-1.6 0.6-1.6 0.4-1.6 0.1-1.6-0.3-1.6-0.6-1.5-1.1-1.6-5.2-4.8-1.2-1.6-1-1.6-2.5-4.7-1.5-1.4-1.5-0.7-1.6-0.3z"/><path fill="#4b4b4b" d="M-3-3l39.5 0-0.9 4.6-0.7 1.5-1.8 4.8-0.9 1.6-2 2.6-1.6 2.3-1.6 3.6-2 5.8-0.3 1.6-1.2 7.9-1.5 6.4-1.1 3.2-1.5 3.1-2.6 4.8-0.9 1.5-1.4 1.7-1.8 1.7-4.8 4-1.6 1.7-2.4 3.7-1.3 3.2-0.3 1.5 0 1.6 0.4 1.6 0.9 1.6 1.4 1.6 1.3 1 1.6 0.8 1.6 0.5 1.6 0.2 1.6 0.1 1.6-0.3 1.6-0.5 3.6-1.8 2.2-1.6 1.8-1.6 1.5-1.6 1.1-1.6 0.9-1.5 0.6-1.6 1.3-4.8 1.3-3.2 1.8-3.1 2.9-4.6 1.6-1.8 1.6-1.1 5.5-2.1 0.8-0.4 1.6-1.2 1.6-1.9 4.5-7.6 4.4-6.3 1.8-3.2 1.1-3.2 0.2-1.6-0.1-1.6-0.5-1.5-1-1.6-0.9-1-4.1-3.8-1.4-1.6-1.9-3.2-2.1-4.4-1.9-4.9 57.3 0 0 39-6.2 0.5-3.1 0.9-1.6 0.3-4.9 0.4-2.6 1.6-0.8 1.6 0.9 1.6 3 1.5 7.5 3.2 1.6 0.4 6.2 0.4 0 54.6-106 0z"/><path fill="#525252" d="M-3-3l37.4 0-3.6 10.9-2.2 3.3-1.6 3.1-2.9 9.5-0.3 1.6-0.9 6.3-1.1 4.8-0.9 3.2-1.2 3.2-2.2 4.2-1.6 2.4-1.6 2-1.6 1.5-3.8 2.6-2.2 1.5-1.4 1.6-0.9 1.6-2.4 4.8-1.2 3.2-0.2 1.5 0.1 1.6 0.5 1.6 0.8 1.6 1.4 1.6 2.1 1.6 0.8 0.4 1.6 0.6 1.6 0.4 1.6 0.2 1.6 0 1.6-0.3 1.6-0.4 2.2-0.9 2.8-1.6 2.4-1.6 1.9-1.6 1.6-1.6 1.3-1.6 0.9-1.5 0.6-1.6 1.2-4.8 0.6-1.6 1.6-3.2 1.9-2.9 1.6-2.2 1.6-1.5 1.6-0.7 4.7-1.2 1.6-0.6 1.6-1.3 1.6-2.8 1.8-4.2 1.6-3.2 2-3.2 3.4-4.7 1.9-3.2 0.7-1.6 0.5-1.6 0.3-1.6-0.1-1.6-0.3-1.5-0.8-1.6-1.4-1.6-3.8-3.2-1.6-1.6-1-1.4-1.1-1.8-2.1-4.7-1.2-4.6 55 0 0 38.3-4.6 0.1-6.3 1.2-4.8 0.2-1.6 0.4-3.2 0.9-3 1.6-0.5 1.6 0.5 1.6 1.3 1.5 1.7 1 6.4 1.8 6.3 3 7.8 1.2 0 51.6-106 0z"/><path fill="#585858" d="M-3-3l35.6 0-2.9 9.3-2.7 4.8-1.3 3.2-2.4 9.5-1.3 7.9-0.7 3.2-1.3 4.8-1 2.3-1.5 2.8-1.6 2.4-1.6 1.9-1.6 1.5-1.6 1-1.6 0.6-3.2 0.7-1.5-0.1-1.6-0.7-6.2-5.4zM49.5-3l53.5 0 0 37.6-4.6 0.1-6.3 1-6.4 0.3-7.9 1.2-1.6 0.6-0.4 0.3-0.4 1.6 0.1 1.6 0.7 2.1 1.6 2.8 1.6 1.7 1.6 1 1.5 0.2 3.2-0.2 1.6 0.1 1.6 0.7 1.6 1.1 1.6 1.6 1.2 1.6 0.8 1.6 0.1 1.5-0.4 3.2 0.2 1.6 1.1 1.6 1.7 0.8 1.6 0.3 4.6 0 0 38.4-106 0 0-29 3.3 0.6 1.4 1.6 2 1.6 1.1 0.6 1.5 0.7 1.6 0.5 1.6 0.3 3.2 0.1 3.2-0.6 3.8-1.6 5.3-3.2 2.1-1.6 1.8-1.6 1.3-1.6 0.9-1.5 0.5-1.6 1.1-4.8 0.6-1.6 1.6-3 1.6-2.1 1.6-1.6 1.6-1 1.6-0.5 4.7-0.9 1.3-0.4 1.9-1.3 0.2-0.3 0.7-1.6 1.9-6.3 2.1-4.8 1.9-3.2 3.6-4.7 2.1-3.2 0.7-1.6 0.5-1.6 0.3-1.6 0-1.6-0.4-1.5-0.7-1.6-1.3-1.6-5.2-4.3-1.9-2.1-1.9-3.1-1.4-3.2zM-3 57.1l0-1.3 4 1.3 0.3 1.6 0 1.6-0.2 1.6-4.1 2.7z"/><path fill="#5e5e5e" d="M-3-3l34 0-2.1 7.8-3.3 6.3-0.6 1.6-2.5 11.1-1.6 9.5-0.8 3.2-1.1 3.2-1.6 3.2-1.5 2.2-1.6 1.8-1.6 1.4-1.6 0.9-1.6 0.4-1.6 0-1.6-0.4-1.5-1-1.9-2.2-1.3-1.9-4.6-3zM50.7-3l52.3 0 0 37-10.9 0.9-15.9 0.6-1.6 0.6-0.5 0.4-0.8 1.6-0.2 1.6 0.5 3.2 1 3 1.3 3.3 0.3 1.6 0.1 1.6-1.2 6.3 0 1.6 0.5 1.6 0.6 0.9 0.7 0.7 2.5 1.6 3.1 1.5 4.2 1.7 3.8 1.2 1.6 0.3 1.6 0 3.1-0.4 6.2-0.7 0 34.3-106 0 0-26.6 4.7 1.4 3 1.6 1.6 0.6 3.2 0.6 3.2 0 3.2-0.6 1.9-0.6 3.5-1.6 2.9-1.6 5.2-3.2 2-1.6 1.5-1.6 0.7-1.5 0.3-1.6 0.3-3.2 0.7-2.5 1.6-2.6 1.6-1.6 1.6-1.1 1.6-0.6 4.7-1.1 1.6-0.5 1.6-0.8 1.9-1.9 0.7-1.6 1.8-7.9 1.1-3.2 0.7-1.6 1.7-2.8 1.6-2.1 2.7-3 1.3-1.6 0.9-1.6 0.7-1.6 0.5-1.6 0.2-1.6-0.1-1.6-0.3-1.5-0.8-1.6-1.1-1.6-0.8-0.8-4.8-3.5-2.1-2.1-1.2-1.6-0.9-1.5z"/><path fill="#646464" d="M-3-3l32.5 0-2 7.8-2.1 4.2-1.4 3.7-2.3 11.1-1.3 7.9-0.8 3.2-0.9 3.2-1.2 2.8-1.6 2.4-1.6 1.7-1.6 1.2-1.6 0.8-1.6 0.3-1.6-0.2-1.6-0.8-1.5-1.3-1.7-2.1-6.1-5.3zM51.5-3l51.5 0 0 36.4-9.3 0.7-3.2 0.2-8 0-6.3-0.5-1.6 0.3-1.7 0.8-1.1 1.6-0.4 1.6-0.1 1.6 0.4 3.2 1 4.7 0.5 3.2-0.4 6.3 0.1 1.6 0.2 1.6 0.5 1.6 1 1.7 1.6 1.5 4.8 3.3 6.3 3.7 1.6 0.8 1.6 0.6 1.6 0.3 1.6 0 1.5-0.3 7.8-1.5 0 31-106 0 0-24.9 6.2 1.7 3.1 1 3.2 0.4 3.2 0 1.6-0.2 3.2-0.9 2-0.7 13-6.4 2.7-1.6 1.3-1.6 0.3-1.5-0.4-4.8 0.4-1.6 1.3-1.7 1.6-1.1 0.7-0.4 5.6-1.7 1.6-0.7 1.6-0.9 1.7-1.4 1.4-1.6 0.9-1.6 0.9-3.2 1-6.3 1-3.2 1-2.2 1.6-2.3 1.6-1.8 3.4-3.2 1.2-1.6 0.9-1.6 0.5-1.6 0.5-3.2-0.1-1.6-0.4-1.5-0.8-1.6-1.2-1.6-1.6-1.6-4-2.7-1.6-1.3-1.5-1.6-1.7-2.3z"/><path fill="#6a6a6a" d="M-3-3l31.1 0-4.6 14.1-0.7 3.2-3.2 17.4-0.8 3.2-1 3.2-0.8 1.6-0.9 1.6-1.8 2-1.6 1.1-1.6 0.7-1.6 0.1-1.6-0.3-1.6-1-1.5-1.5-3.2-4.9-4.6-1.9zM52.4-3l50.6 0 0 35.8-10.9 0.7-4.8 0-4.8-0.2-6.3-1-1.6-0.1-1.6 0.1-1.6 0.6-0.4 0.4-0.9 1.6-0.3 1.6-0.2 3.2 0.2 3.2 0.8 6.3 0.2 6.4 0.3 3.1 1.1 3.2 0.9 1.6 1.3 1.6 1.8 1.7 3.2 2.5 7.9 5.5 3.2 2 1.6 0.5 1.6 0 1.5-0.3 7.8-2 0 28-106 0 0-23.4 6.2 1.2 3.1 0.8 3.2 0.3 4.8-0.3 2.6-0.6 2.1-0.8 11.2-4.7 8.5-2.5 2.4-1.6 1.1-1.6 0.4-1.5-0.2-3.2 0.5-1.6 1.7-1.6 3-2.2 3.2-2.8 1.6-1.6 1.1-1.3 1-1.6 0.7-1.6 0.4-1.6 1.1-7.9 0.8-3.2 1.2-2.3 1.6-2 1.6-1.4 3.5-2.2 1.5-1.6 0.7-1.6 0.4-1.6 0.5-3.2 0.1-1.6-0.1-1.6-0.4-1.5-0.8-1.6-1.3-1.6-1.7-1.6-5.6-3.8-1.6-1.3-1.1-1.3-1.1-1.5z"/><path fill="#707070" d="M-3-3l29.8 0-3 10.4-1.2 3.7-3.5 19.1-1.6 6.3-1.5 3.2-1.7 2-1.6 1.1-1.6 0.6-1.6 0-1.6-0.5-1.6-1.1-1.5-1.8-3.2-4.5-4.6-1.7zM53.2-3l49.8 0 0 35.2-12.5 0.7-6.4-0.3-4.7-0.9-5.6-1.5-0.8-0.4-1.6-1-0.8-1.8-0.2-1.6-0.1-6.4-0.3-1.5-0.8-1.6-1.5-1.6-1.9-1.6-5.5-3.6-1.6-1.2-1.6-1.5-1.3-1.6-1-1.6zM61.4 34.9l0.5-0.4 1.6-0.8 1.6-0.2 1.6 0.7 0.4 0.7 0.5 1.6 0.1 1.6 0.2 6.3 0.4 8 0.4 3.2 0.3 1.5 1.1 3.2 1.7 3.2 1.2 1.6 1.6 1.7 3.2 2.9 6.5 4.9 6.2 5.5 1.6 0.8 1.6 0.1 1.5-0.4 7.8-2.4 0 24.8-106 0 0-22.1 6.2 0.9 3.1 0.6 3.2 0.1 4.8-0.3 1.6-0.3 3.1-0.9 6.4-2.6 4.8-1.7 3.1-0.7 4.8-0.6 1.6-0.4 1.3-0.4 3.5-1.6 1.5-1.6 0.5-1.6 0.7-3.1 1.2-3.2 2.2-3.2 4.1-4.7 1.1-1.6 0.9-1.6 0.6-1.6 0.6-3.2 0.5-6.3 0.2-1.6 0.5-1.6 0.8-1.6z"/><path fill="#767676" d="M-3-3l28.5 0-2.9 10.9-0.9 3.2-3.1 17.5-1.1 4.7-1 3.2-0.7 1.6-1.5 2.1-1.6 1.2-1.6 0.5-1.6-0.1-1.2-0.5-2-1.5-3.7-4.9-5.6-2.8zM53.9-3l49.1 0 0 34.6-10.9 0.6-3.2 0.1-3.2-0.2-3.2-0.6-3.1-0.9-1.6-0.6-2.9-1.4-1.6-1.6-0.8-1.6-0.2-1.6-0.1-4.8-0.2-1.5-0.7-1.6-1.5-1.6-2.2-1.6-7.3-4.5-1.6-1.3-2-2.1-1.1-1.7zM62.8 36.5l0.7-0.2 0.6 0.2 1 1 0.2 0.6 0.2 1.6-0.1 1.6-0.6 4.7 0.6 6.4 0.3 1.6 0.5 1.6 1.5 3.1 1.8 3.2 2.3 3.2 4.4 4.6 1.6 1.5 4.7 3.7 3.2 2.9 2.6 3.2 2.2 3.3 1.6 1 1.6-0.1 1.5-0.9 7.8-3 0 21.7-63 0-1.9-3.8-1.6-0.1-1.6 0.2-2.4 3.7-35.5 0 0-20.8 7.8 0.9 3.1 0.2 4.8-0.3 3.2-0.5 3.1-0.9 8-2.9 3.2-0.9 3.1-0.6 6.4-0.6 3.2-0.8 3.1-1.2 1.6-1.3 0.8-1.9 1.2-4.7 0.6-1.6 0.8-1.6 2.2-3.2 4.2-4.7 2.2-3.2 1.3-4.8 0.2-1.6-0.4-4.7 0-1.6 0.4-1.6 0.8-1.2z"/><path fill="#7c7c7c" d="M-3-3l27.1 0-1.9 8.7-1 3.8-2.7 15.9-1 4.8-0.9 3.1-0.7 2.3-1.2 2.5-0.4 0.5-1.6 1.3-1.6 0.5-1.6-0.2-1.6-0.8-1.6-1.6-3.1-3.9-6.2-3.6zM54.6-3l48.4 0 0 34-10.9 0.6-4.8-0.1-3.2-0.4-1.6-0.4-1.5-0.5-3.3-1.6-2.1-1.6-1.1-1.6-0.4-1.6-0.2-1.6 0.1-4.7-0.4-1.6-0.6-0.8-0.6-0.8-10.5-5.9-2.8-2.1-1.5-1.5-1.2-1.6zM59.5 57.1l0.8-0.5 1.6-0.4 1.6 0.6 1.6 1.4 5.5 6.9 4 4.4 3.2 3 4.7 3.9 2.9 3 1.1 1.6 0.8 1.5 0.7 1.6 0.9 2.5 1.6 2.4 1.6 1 1.6-0.3 1.5-1.1 2.9-2.9 4.9-1.4 0 18.7-60.6 0-1.1-3.8-1.6-0.8-1.6-0.5-1.6 0-3.2 0.5-4.7 4.6-31.6 0 0-19.5 6.2 0.4 3.1 0.2 3.2-0.2 4.8-0.5 3.2-0.6 7.9-2.7 4.8-1.2 3.1-0.5 7.4-0.6 2.2-0.5 3.1-0.9 1.6-0.9 1.1-0.9 0.5-0.8 2.1-7.1 1.7-3.2 2.6-3.2 1.5-1.5 1.6-1.3z"/><path fill="#838383" d="M-3-3l25.6 0-2.3 12.5-2.3 14.3-1 4.8-1.1 4-1.5 3.9-1.7 2-1.6 0.4-1.6-0.3-1.6-1.1-1.6-1.6-9.3-7.5zM55.3-3l47.7 0 0 33.4-10.9 0.6-4.8-0.1-3.7-0.7-3.7-1.6-2.1-1.6-1.3-1.6-0.7-1.6-0.2-1.6 0.3-4.7-0.1-1.6-0.6-1.6-0.6-0.5-1.9-1.1-2.9-1-3.1-1.5-3.2-1.7-3.2-2-1.6-1.4-1.5-1.9zM58.4 60.3l1.9-0.9 1.6-0.2 1.6 0.5 1.6 1 1.6 1.5 9.5 10.2 6.3 5.4 1.4 1.6 1.2 1.6 0.8 1.5 0.7 1.6 0.9 3.2 1.4 3.2 0.8 1.6 0.8 1.9 1.6 1.8 1.6-0.7 1.5-1.6 3.6-4.6 4.2-1.4 0 15.5-58.7 0-1.4-4.3-1.6-1-1.6-0.6-1.6-0.3-1.6-0.1-1.6 0.1-3.2 0.8-6.7 5.4-28 0 0-18.1 9.3 0.1 9.6-1.2 3.1-0.7 6.4-2.1 3.2-0.8 3.1-0.5 9.6-0.8 3.1-0.6 1.6-0.6 2.7-1.5 1.4-1.6 0.7-1.6 1.4-4.7 1.5-3.2 1.9-2.5 1.5-1.5z"/><path fill="#898989" d="M-3-3l24.1 0-1.5 10.9-2.1 14.7-1 4.4-0.6 2.4-1.6 4.3-1.6 2.8-1.6 0.7-1.6-0.5-1.6-1.2-3.1-3.4-7.8-5.7zM56-3l47 0 0 32.8-10.9 0.6-4.8-0.2-3.2-0.7-2.2-0.9-0.9-0.7-1.4-0.9-1.3-1.6-0.8-1.6-0.3-1.6 0.1-1.6 0.6-4.7-0.3-1.6-1.3-1.6-1.7-0.7-4.8-1.3-1.5-0.6-3.2-1.5-3.2-1.8-1.6-1.2-1.6-1.5-1.6-2.1zM59.2 61.9l1.1-0.5 1.6-0.1 1.6 0.4 1.6 0.8 3.2 2.7 7.9 8.4 4.8 3.9 1.7 1.9 1.2 1.6 0.9 1.5 0.7 1.6 2.5 8 0.5 3.1 0.1 3.2 0.3 4.6-43 0-1.5-4.6-1.5-1.2-1.6-0.8-1.6-0.5-1.6-0.3-1.6 0-3.2 0.4-3.1 0.9-4.8 1.6-3.2 4.5-25.2 0 0-16.6 9.3-0.4 9.6-1.4 3.1-0.8 6.4-1.9 3.2-0.7 3.1-0.5 9.6-0.5 3.1-0.7 1.6-0.5 2.3-1.2 0.9-0.7 0.9-0.9 1.1-1.6 1.6-4.8 1.5-3.1 1.3-1.9 1.2-1.3 1.9-1.4zM98.9 93.7l4.1-1.5 0 10.8-8.5 0z"/><path fill="#8f8f8f" d="M-3-3l22.5 0-1.6 17.3-1.8 11.1-0.4 1.6-1.4 3.7-1.6 2.8-1.6 1.3-1.6-0.3-1.6-1.1-1.6-1.5-2.9-3.3-6.4-4.3zM56.7-3l46.3 0 0 8.3-3.6-0.5-2.9-1.6-1.3-0.5-1.5-0.3-1.6 0.1-1.6 0.6-1.3 1.7-0.7 1.5-0.4 1.6 0.5 1.6 0.3 0.2 1.6 0.2 7.9 0.3 4.6-0.2 0 19.2-9.3 0.5-4.8 0-3.2-0.5-1.8-0.6-1.4-0.8-1.2-0.8-1.4-1.6-0.8-1.6-0.3-1.6 0-1.6 0.3-1.6 0.9-3.1 0.2-1.6-0.6-1.6-1.8-1-1.4-0.6-5-0.9-3.1-1-4.8-2.2-1.6-1-1.6-1.2-1.6-1.6zM59.5 63.5l0.8-0.3 1.6-0.3 1.6 0.4 1.6 0.7 1.6 1.1 3.1 2.9 6.3 6.6 3.3 2.6 1.6 1.5 1.5 1.9 1.3 1.9 0.7 1.6 2.2 8 0.4 3.1 0 7.8-39.7 0-1.4-4.7-1.6-1.5-1.5-1-1.6-0.7-1.6-0.5-3.2-0.2-3.2 0.4-4.7 1.3-4.8 1.7-4.5 5.2-22.3 0 0-14.8 9.3-1.1 6.2-1.4 5-0.7 6.3-1.8 3.2-0.8 4.7-0.5 9.6-0.5 3.1-0.6 1.6-0.6 1.6-0.8 1.6-1.1 1.6-1.5 1.3-2.2 1.9-5 1.6-2.8 1.5-1.8 1.6-1.2zM99.9 96.8l3.1 6.2-5.2 0 1-4.6z"/><path fill="#959595" d="M-3-3l20.9 0-0.3 10.9-0.4 4.8-1.7 11.1-1.2 4.1-1.6 2.8-1.6 1.3-1.6 0-1.6-0.8-1.6-1.3-2.6-2.9-6.7-4.9zM57.4-3l33.1 0-1.6 4-0.5 0.6-1.1 1.5-1.8 3.2-1.4 1.9-1.6 1.3-1.5 0.6-1.6 0.1-8-0.9-3.1-0.8-3.2-1.4-3.2-1.8-1.6-1.3-1.6-1.8zM97.1-3l5.9 0 0 4.1zM90.4 12.7l3.3-0.3 9.3 0.7 0 15.5-10.9 0.5-3.2-0.1-1.6-0.1-1.6-0.4-1.6-0.8-1.2-0.7-1.6-1.6-0.8-1.6-0.3-1.6 0.1-1.6 0.7-2.1 1.5-2.9 1.6-1.4 1.6-0.7zM59.4 65.1l0.9-0.4 1.6-0.3 1.6 0.2 1.6 0.7 1.6 1 3.1 2.7 4.8 5.2 4.8 4.1 2.4 2.7 1 1.5 0.8 1.6 1 3.2 0.8 3.2 0.5 3.2 0.1 9.3-37.2 0-1.2-4.7-1.4-1.5-1.8-1.5-1.5-1-1.6-0.6-1.6-0.4-1.6-0.2-3.2 0.1-4.7 1.1-6.4 2.1-8.8 6.6-12.4 0-5.6-4.8 0-6.9 4.1-0.8 3.9-1.6 6.1-2 6.4-1 7.9-2.2 4.8-0.6 11.1-0.4 3.1-0.6 3.2-1.5 1.6-1.1 1.8-1.7 1.4-2.1 1.8-4.3 1.4-2.7 1.5-2 1.6-1.3z"/><path fill="#9b9b9b" d="M-3-3l19 0 0.4 7.8 0.1 4.7-0.2 3.2-0.4 3.7-1.3 7.4-0.5 1.6-1.4 2.7-1.6 1.4-1.6 0.2-1.6-0.6-1.6-1.3-3.1-3.8-6.2-4.6zM58.1-3l29.5 0-3 7.8-2.1 2.3-1.5 1-1.6 0.6-3.2 0.2-3.2-0.1-3.2-0.6-3.1-1.1-1.6-0.7-2.8-1.6-1.9-1.6-1.3-1.6zM91.6 14.3l3.6-0.1 7.8 0.6 0 13.1-10.9 0.5-3.2-0.1-1.6-0.2-1.6-0.5-1.2-0.6-1.7-1.6-0.9-1.6-0.2-1.6 0.1-1.6 0.6-1.6 1.1-1.5 0.6-0.7 1.6-1 3.2-1zM59 66.7l1.3-0.7 1.6-0.3 1.6 0.2 1.6 0.6 1.6 0.9 3.1 2.7 4.8 5.1 4.8 4.1 1.5 1.7 1.1 1.5 0.8 1.6 1.1 3.2 0.7 3.2 0.5 3.2 0 9.3-35.1 0-1-4.6-1.4-1.8-1.6-1.6-1.6-1.3-1.5-1.1-1.6-0.6-1.6-0.3-1.6-0.1-3.2 0.1-3.2 0.7-9.5 3.1-4.7 1.8-3.2 0.9-1.6 0.3-3.2 0.1-1.6-0.2-1.6-0.6-1.5-1-1.1-1.6-0.2-1.5 0.9-1.6 1.9-1.6 2.7-1.6 3.7-1.4 4.8-0.5 1.5-0.4 3.2-1.1 3.2-0.8 3.2-0.3 12.7-0.2 1.6-0.2 1.5-0.5 1.6-0.8 3.2-2 1.6-1.5 1.1-1.4 1-1.6 2.2-4.8 0.9-1.6 1.1-1.6z"/><path fill="#a1a1a1" d="M2.6 1.6l1.1-4.6 9.8 0 0.6 4.6 0.7 3.2 0.6 4.7 0 3.2-0.2 1.6-1.9 9.5-0.6 1.8-1.6 1.6-1.6 0.2-1.6-0.6-1.6-1.3-1.5-1.8-2.2-3.1-1-1.6-1.5-3.1-3.1-0.5 0-9.2 3.7-1.4zM58.7-3l27.4 0-3.1 7.8-2 1.8-1.6 0.8-1.6 0.4-3.2 0.2-3.2-0.2-1.6-0.3-1.5-0.5-3.2-1.3-1.7-0.9-2.1-1.6-1.5-1.6zM91 15.9l2.7-0.3 1.5 0.1 7.8 0.6 0 10.9-6.2 0.2-7.9 0.2-1.6-0.3-1-0.3-0.6-0.3-1.6-1.3-0.8-1.6-0.2-1.6 0.3-1.6 0.9-1.6 1.4-1.3 1.6-0.8 1.6-0.6zM58.6 68.3l1.7-1.1 1.6-0.3 1.6 0.1 1.6 0.5 1.6 0.9 1.6 1.2 1.5 1.5 4.8 5.1 3.2 2.6 2.1 2.2 1.2 1.5 0.9 1.6 0.6 1.6 0.9 3.2 0.8 4.8 0 9.3-33.3 0-1.8-6.2-1.6-2-3.2-3.2-1.5-1.2-1.6-1-1.6-0.1-4.8 0.2-1.6 0.2-5.5 2.4-2.4 0.7-8.1 2.4-3 0.6-1.6 0.1-1.6-0.2-1.4-0.5-1.2-1.5 0.3-1.6 1.4-1.6 2.5-1.5 4.8-0.6 1.5-0.4 4.8-1.8 1.6-0.4 1.6-0.1 6.3 0.9 3.2-0.2 1.6 0 1.6 0.3 1.6 0 1.6-0.4 0.7-0.6 0.8-0.3 3.2-2.2 3.2-2.8 2.1-2.6 3.1-6.4 1.1-1.7z"/><path fill="#a7a7a7" d="M7.5 1.6l0.4-0.2 1.6-0.1 1.6 0.9 1.6 2.6 1 3.1 0.6 3.2 0 1.6-0.2 1.6-1.4 6.3-0.6 1.6-1 2.1-1.6 0.5-1.6-0.6-1.6-1.5-1.6-2.1-1.5-2.4-1-2.3-0.5-1.6-0.2-1.6-0.1-1.6 0.2-1.6 0.5-1.6 0.7-1.6 2-2.7 1.5-1.5zM59.4-3l25.6 0-2.1 6.2-1.9 2-1.6 1-1.6 0.6-3.2 0.4-3.2-0.2-1.6-0.3-3.1-1-1.6-0.7-1.6-0.9-1.6-1.2-1.3-1.3zM90.3 17.5l1.8-0.3 3.1-0.1 3.2 0.4 4.6 0.3 0 8.5-4.6 0.3-9.5 0.2-1.6-0.4-1.7-1-1-1.6-0.1-1.6 0.6-1.6 0.6-0.8 1.6-1.3 1.6-0.6zM60.9 68.3l1-0.3 1.6 0 1.6 0.5 1.6 0.9 1.6 1.2 1.5 1.5 3.9 4.1 4.1 3.5 1.2 1.3 1.3 1.5 0.9 1.6 0.7 1.6 1.3 4.8 0.3 3.2 0 9.3-31.5 0-1.6-6.2-4.4-6.3-0.7-1.6 0.3-1.6 1.1-1.6 4.1-3.9 1.6-2 1.6-2.5 2-4.3 1.1-1.9 1.6-1.7 1.6-1zM22.5 88.9l2.9-1.2 1.6 0.8 0.4 0.4-1.8 1.6-1.8 0.3-1.6 0-0.9-0.3 0.9-1z"/><path fill="#adadad" d="M60.2-3l23.7 0-2.2 6.2-0.7 0.7-1.6 1.2-1.6 0.8-1.6 0.4-3.2 0.2-3.2-0.5-3.1-1-1.6-0.7-1.6-0.9-1.6-1.3zM6.8 6.3l1.1-0.5 1.6 0.1 1.6 1.2 1.3 2.4 0.5 1.6 0.1 1.6-0.3 1.9-1.6 4.5-1.6 1.8-1.6-0.3-1.6-1.4-1.5-2.7-0.8-2.2-0.1-1.6 0.1-1.6 0.4-1.6 0.8-1.6 1.1-1.3zM90.3 19l1.8-0.2 3.1-0.1 3.2 0.3 4.6 0.6 0 5.8-4.6 0.2-7.9 0.1-1.6 0-1.6-0.3-1.2-1.6 0.1-1.6 1.1-1.7 1.6-0.9zM59.8 69.8l0.5-0.3 1.6-0.5 1.6 0 1.6 0.5 1.6 0.8 1.6 1.3 4.7 4.8 4.8 4.2 1.7 1.9 1 1.6 0.7 1.6 1 3.2 0.6 4.8-0.1 9.3-29.8 0-1.4-6.2-2.8-4.7-0.7-1.6-0.4-1.6 0.2-1.6 0.9-1.6 3.7-4.4 1.2-1.9 3.5-6.9 1.6-1.9z"/><path fill="#b4b4b4" d="M60.9-3l22 0-1.1 4.6-1.4 1.6-1 0.9-1.2 0.7-2 0.7-1.6 0.2-1.6 0.1-3.2-0.5-1.9-0.5-2.8-1.3-1.6-0.9-1.3-1zM8.7 11.1l0.8-0.1 0.8 1.7-0.4 1.6-0.4 0.6-1.6-0.2-0.2-0.4-0.2-1.6 0.4-1.3zM88.8 22.2l1.7-0.8 1.6-0.4 1.6-0.2 1.5 0 1.6 0.2 1.6 0.5 1 0.7-0.5 1.6-0.5 0.2-7.9 0-1.7-0.2zM59.1 71.4l1.2-0.9 1.6-0.5 1.6-0.1 1.6 0.5 1.6 0.9 1.6 1.2 3.5 3.7 5.4 4.8 1.4 1.5 1.1 1.6 0.8 1.6 1 3.2 0.6 4.8-0.1 9.3-28.1 0-1.5-6.6-2.2-4.3-0.6-1.6-0.3-1.6 0.2-1.6 0.8-1.6 3.7-5.3 3.1-6.4 0.7-1z"/><path fill="#bababa" d="M61.7-3l20.2 0-1.2 4.6-1.3 1.4-1.6 1.1-1.6 0.6-1.6 0.3-1.6 0-3.2-0.4-3.1-1-3.2-1.8zM60.6 71.4l1.3-0.5 1.6-0.1 1.6 0.5 1.6 0.9 1.6 1.3 4.3 4.3 3.7 3.2 1.5 1.5 1.2 1.6 0.8 1.6 0.6 1.6 0.8 3.2 0.3 4.7-0.2 7.8-26.5 0-3.2-10.9-0.5-1.6-0.2-1.6 0.2-1.6 0.7-1.6 2.8-4.7 3.1-6.4 1-1.6z"/><path fill="#c0c0c0" d="M62.6-3l18.3 0-1.5 4.9-1.6 1.3-1.6 0.7-1.6 0.3-1.6 0.1-3.2-0.4-2.2-0.7-3.2-1.6zM59.9 73l0.4-0.4 1.6-0.8 1.6-0.1 1.6 0.5 1.6 1 1.6 1.3 3.3 3.3 4.6 4 1.6 1.7 1.3 2.2 0.7 1.6 0.7 3.2 0.3 4.7-0.3 7.8-24.8 0-2.8-10.9-0.4-1.6-0.1-1.6 0.2-1.6 0.6-1.6 2.4-4.7 2.1-4.8 1-1.9z"/><path fill="#c6c6c6" d="M63.6-3l16.3 0-1.4 4.6-0.7 0.6-1.6 0.9-1.6 0.4-1.6 0.1-3.1-0.4-1.6-0.6-2.4-1zM61.4 73l0.5-0.2 1.6-0.2 1.6 0.5 1.6 1.1 3.8 3.6 5.5 4.7 1.8 2.1 1.3 2.7 0.8 3.2 0.2 4.7-0.3 7.8-23.2 0-2.5-10.9-0.2-1.6-0.1-1.6 0.2-1.6 0.5-1.6 4.1-9.5 0.9-1.6 0.8-0.9z"/><path fill="#cccccc" d="M64.8-3l14.1 0-1.1 4.2-1.6 1-1.6 0.5-1.6 0.2-1.6-0.2-3.1-0.9-1.6-0.7zM60.7 74.6l1.2-0.8 1.6-0.2 1.6 0.5 1.6 1.2 4.5 4.1 3.4 2.7 2 2 1.1 1.6 0.8 1.6 0.7 3.2 0.2 4.7-0.3 7.8-21.6 0-1.8-9.3-0.5-3.2 0-1.6 0.6-3.2 2.9-7.8 0.9-1.7z"/><path fill="#d2d2d2" d="M66.4-3l11.4 0-1.6 4.3-0.6 0.3-1 0.3-1.6 0.2-1.6-0.2-1.6-0.3zM63.4 74.6l1.7 0.7 1.6 1.2 3.3 2.9 4.6 3.6 1.6 1.6 0.8 1.1 0.8 1.6 0.7 3.2 0.2 4.7-0.4 7.8-19.8 0-1.4-7.8-0.5-3.1-0.1-3.2 0.3-1.6 1.9-6.3 1.6-4.2 1.6-1.9z"/><path fill="#d8d8d8" d="M68.3-3l8.3 0-2 4.1-1.6 0.1-1.6-0.2zM62.9 76.2l0.6-0.2 0.4 0.2 1.2 0.5 1.6 1.2 7.9 6.1 1.6 1.7 0.9 1.6 0.5 1.6 0.2 1.6 0.2 4.7-0.5 7.8-18 0-1-6.2-0.5-3.1-0.2-3.2 0.1-1.6 0.8-3.9 1.6-5.3 1.6-3z"/><path fill="#dedede" d="M71.2-3l3.7 0-1.9 3.3zM62.3 79.4l1.2-1.1 1.6 0.3 1.6 0.9 6.3 4.2 1.6 1.3 1.6 2 0.6 1.9 0.4 3.2-0.1 4.7-0.5 6.2-16.1 0-0.5-4.6-0.7-3.2-0.2-3.1 0.1-1.6 1.2-6.4 1.1-3.1 0.4-1.1z"/><path fill="#e4e4e4" d="M64.9 81l1.8 0.3 4.7 2.4 2.8 2 1.2 1.6 0.7 1.6 0.3 3.2-0.1 4.7-0.6 6.2-14 0-0.6-4.6-0.6-3.2-0.1-3.1 0.2-1.6 1.3-5.4 1-2.6 0.6-0.9z"/><path fill="#ebebeb" d="M64.8 84.1l0.3-0.3 1.6-0.4 1.6 0.2 1.5 0.5 1.6 0.8 1.6 1 1.5 1.4 0.6 1.6 0.4 3.2-0.3 4.7-0.6 6.2-11.5 0-0.7-4.6-0.4-1.6-0.3-3.1 0.1-1.6 0.3-1.6 1.4-4.2z"/><path fill="#f1f1f1" d="M67 85.7l1.3-0.2 1.5 0.2 1.6 0.7 1.6 1.1 0.9 1.4 0.4 1.6 0.2 1.6-0.2 3.1-0.6 3.2-0.8 4.6-8 0-0.9-4.6-0.6-1.6-0.2-1.6 0-1.5 0.3-2 0.3-1.2 1.3-3 1.6-1.7z"/><path fill="#f7f7f7" d="M66.9 88.9l1.4-1 1.5-0.1 1.6 0.6 0.5 0.5 0.9 1.6 0.3 1.6 0 1.6-0.3 1.5-0.4 1.6-1 1.9-1.6 0.9-1.5 0-1.6-0.9-1.2-1.9-0.4-1.6 0-1.8 0.2-1.3 0.6-1.6z"/><path fill="#fdfdfd" d="M68.4 93.7l1.4-1.4 0.3 1.4-0.3 0.8z"/></g></g><g><g fill="none" stroke-linecap="round" stroke-linejoin="round" filter="url(#b35)"><path d="M420 265C436 228 457 228 480 215C503 202 533 188 560 185C587 182 618 189 640 200C662 211 670 232 690 250C710 268 751 288 760 305C769 322 758 341 745 350C732 359 704 357 680 360C656 363 625 359 600 370C575 381 550 403 530 425C510 447 495 471 480 500C465 529 452 567 440 600C428 633 422 667 410 700C398 733 379 770 365 800C351 830 337 852 325 880C313 908 306 942 295 970C284 998 281 1028 262 1045C243 1062 204 1078 180 1075C156 1072 125 1047 115 1030C105 1013 109 995 120 975C131 955 158 932 180 910C202 888 229 870 250 840C271 810 288 772 305 730C322 688 337 638 350 590C363 542 373 494 385 440C397 386 404 302 420 265z" fill="#222222" stroke="none"/><ellipse cx="640" cy="290" rx="110" ry="75" fill="#222222" stroke="none" transform="rotate(20 640 290)"/></g><g fill="none" stroke-linecap="round" stroke-linejoin="round" filter="url(#b55)"><ellipse cx="510" cy="320" rx="80" ry="90" fill="#0d0d0d" stroke="none"/><ellipse cx="195" cy="985" rx="45" ry="45" fill="#0f0f0f" stroke="none"/><path d="M-50-50C0-148 194-78 250-50C306-22 280 62 285 120C290 178 288 245 280 300C272 355 262 410 235 450C208 490 168 525 120 540C72 555-22 638-50 540C-78 442-100 48-50-50z" fill="#a0a0a0" stroke="none" fill-opacity="0.85"/></g><g fill="none" stroke-linecap="round" stroke-linejoin="round" filter="url(#b35)"><path d="M150 40C158 52 183 83 195 110C207 137 213 168 220 200C227 232 234 267 235 300C236 333 232 370 225 400C218 430 204 457 190 480C176 503 148 530 140 540" stroke="#b5b5b5" stroke-width="90" stroke-opacity="0.8"/></g><g fill="none" stroke-linecap="round" stroke-linejoin="round" filter="url(#b22)"><path d="M-20 222C-7 227 35 237 60 250C85 263 109 280 130 300C151 320 172 347 185 370C198 393 202 428 205 440" stroke="#c9c9c9" stroke-width="50"/><ellipse cx="50" cy="450" rx="80" ry="50" fill="#575757" stroke="none"/><ellipse cx="40" cy="300" rx="50" ry="40" fill="#8a8a8a" stroke="none" fill-opacity="0.7"/></g><g fill="none" stroke-linecap="round" stroke-linejoin="round"><ellipse cx="140" cy="300" rx="160" ry="220" fill="#000" stroke="none" filter="url(#s4)" transform="rotate(60 140 300)" opacity="0.15"/></g><g fill="none" stroke-linecap="round" stroke-linejoin="round" filter="url(#b35)"><path d="M1110-40C1160-63 1173-60 1180-40C1187-20 1165 47 1150 80C1135 113 1113 135 1090 160C1067 185 1042 217 1010 230C978 243 922 262 900 240C878 218 845 147 880 100C915 53 1060-17 1110-40z" fill="#b0b0b0" stroke="none" fill-opacity="0.85"/></g><g fill="none" stroke-linecap="round" stroke-linejoin="round" filter="url(#b22)"><path d="M1180-20C1175-4 1163 47 1150 75C1137 103 1121 125 1100 150C1079 175 1054 200 1025 225C996 250 958 278 925 300C892 322 842 350 825 360" stroke="#cdcdcd" stroke-width="54"/><path d="M825 360C812 368 772 391 750 405C728 419 700 438 690 445" stroke="#989898" stroke-width="44" stroke-opacity="0.9"/></g><g fill="none" stroke-linecap="round" stroke-linejoin="round" filter="url(#b35)"><path d="M720-60C662-45 755 6 780 30C805 54 842 72 870 85C898 98 925 108 950 110C975 112 998 105 1020 95C1042 85 1067 76 1085 50C1103 24 1191-42 1130-60C1069-78 778-75 720-60z" fill="#e6e6e6" stroke="none"/></g><g fill="none" stroke-linecap="round" stroke-linejoin="round" filter="url(#b14)"><path d="M820-60C788-42 848 26 870 50C892 74 926 82 950 85C974 88 997 89 1015 65C1033 41 1092-39 1060-60C1028-81 852-78 820-60z" fill="#fafafa" stroke="none"/></g><g fill="none" stroke-linecap="round" stroke-linejoin="round" filter="url(#b35)"><path d="M1440 215C1415 223 1333 243 1290 265C1247 287 1216 319 1180 345C1144 371 1109 402 1075 420C1041 438 1008 442 975 455C942 468 896 492 880 500" stroke="#c1c1c1" stroke-width="120"/></g><g fill="none" stroke-linecap="round" stroke-linejoin="round" filter="url(#b22)"><path d="M1340 235C1358 239 1370 272 1365 290C1360 308 1331 327 1310 345C1289 363 1263 385 1240 400C1217 415 1195 428 1170 435C1145 442 1100 453 1090 445C1080 437 1095 406 1110 385C1125 364 1155 340 1180 320C1205 300 1233 279 1260 265C1287 251 1322 231 1340 235z" fill="#f6f6f6" stroke="none"/><path d="M1440 235C1423 240 1370 253 1340 265C1310 277 1273 298 1260 305" stroke="#d5d5d5" stroke-width="50"/><path d="M1120 490C1155 474 1180 461 1210 445C1240 429 1273 412 1300 395C1327 378 1345 359 1370 345C1395 331 1437 264 1450 310C1463 356 1483 568 1450 620C1417 672 1308 628 1250 620C1192 612 1142 588 1100 575C1058 562 997 554 1000 540C1003 526 1085 506 1120 490z" fill="#464646" stroke="none"/><ellipse cx="1370" cy="470" rx="50" ry="80" fill="#383838" stroke="none"/></g><g fill="none" stroke-linecap="round" stroke-linejoin="round"><ellipse cx="1230" cy="450" rx="230" ry="60" fill="#000" stroke="none" filter="url(#k3)" transform="rotate(-28 1230 450)" opacity="0.35"/></g><g fill="none" stroke-linecap="round" stroke-linejoin="round" filter="url(#b35)"><path d="M960 480C948 484 908 492 890 505C872 518 855 541 850 560C845 579 860 598 858 620C856 642 846 669 835 690C824 711 803 727 790 745C777 763 765 778 755 800C745 822 737 853 730 880C723 907 719 933 715 960C711 987 708 1013 705 1040C702 1067 701 1107 700 1120" stroke="#b5b5b5" stroke-width="100" stroke-opacity="0.9"/></g><g fill="none" stroke-linecap="round" stroke-linejoin="round" filter="url(#b22)"><path d="M900 500C892 510 859 540 852 560C845 580 863 598 860 620C857 642 847 669 835 690C823 711 803 727 790 745C777 763 765 778 755 800C745 822 736 853 730 880C724 907 720 947 718 960" stroke="#c9c9c9" stroke-width="44"/></g><g fill="none" stroke-linecap="round" stroke-linejoin="round" filter="url(#b14)"><path d="M800 560C793 557 772 538 760 540C748 542 728 562 725 575C722 588 729 611 740 620C751 629 782 628 790 630" stroke="#a4a4a4" stroke-width="26"/></g><g fill="none" stroke-linecap="round" stroke-linejoin="round"><ellipse cx="1150" cy="780" rx="280" ry="200" fill="#000" stroke="none" filter="url(#s4)" transform="rotate(-35 1150 780)" opacity="0.14"/><ellipse cx="560" cy="800" rx="200" ry="200" fill="#000" stroke="none" filter="url(#s4)" transform="rotate(-60 560 800)" opacity="0.12"/></g><g fill="none" stroke-linecap="round" stroke-linejoin="round" filter="url(#b14)"><path d="M865 865C881 865 902 906 925 925C948 944 979 959 1000 980C1021 1001 1033 1023 1050 1050C1067 1077 1083 1111 1100 1140C1117 1169 1138 1198 1150 1225C1162 1252 1166 1262 1175 1300C1184 1338 1261 1425 1205 1450C1149 1475 912 1468 840 1450C768 1432 793 1369 775 1340C757 1311 738 1298 730 1275C722 1252 726 1224 728 1200C730 1176 738 1153 745 1130C752 1107 761 1082 770 1060C779 1038 790 1018 800 995C810 972 819 947 830 925C841 903 849 865 865 865z" fill="#fefefe" stroke="none"/></g><g fill="none" stroke-linecap="round" stroke-linejoin="round" filter="url(#b35)"><path d="M700 1180C720 1170 743 1195 760 1240C777 1285 823 1415 800 1450C777 1485 647 1475 620 1450C593 1425 627 1345 640 1300C653 1255 680 1190 700 1180z" fill="#d1d1d1" stroke="none"/><path d="M700 1200C687 1196 653 1182 620 1175C587 1168 540 1162 500 1160C460 1158 420 1160 380 1165C340 1170 298 1179 260 1190C222 1201 187 1212 150 1230C113 1248 58 1288 40 1300" stroke="#b0b0b0" stroke-width="130" stroke-opacity="0.9"/></g><g fill="none" stroke-linecap="round" stroke-linejoin="round" filter="url(#b22)"><path d="M690 1290C677 1282 642 1258 610 1245C578 1232 535 1219 500 1215C465 1211 432 1212 400 1220C368 1228 337 1245 310 1265C283 1285 258 1312 240 1340C222 1368 207 1415 200 1430" stroke="#c1c1c1" stroke-width="56"/><path d="M640 1140C623 1134 577 1112 540 1105C503 1098 460 1097 420 1100C380 1103 320 1121 300 1125" stroke="#b5b5b5" stroke-width="34"/></g><g fill="none" stroke-linecap="round" stroke-linejoin="round" filter="url(#b35)"><ellipse cx="470" cy="1375" rx="90" ry="40" fill="#676767" stroke="none"/></g><g fill="none" stroke-linecap="round" stroke-linejoin="round"><ellipse cx="400" cy="1200" rx="330" ry="120" fill="#000" stroke="none" filter="url(#s3)" transform="rotate(-5 400 1200)" opacity="0.12"/></g></g></g></g></svg>
<path class="k" d="M201 1233v10M200 943h-10M315 1233v10M200 1057h-10M429 1233v10M200 1171h-10"/>
<rect class="k" x="200" y="942" width="292" height="291"/>
<rect x="510" y="929" width="16" height="317" fill="url(#vg)"/>
<path class="k" d="M526 982h10M526 1087h10M526 1193h10"/>
<rect class="k" x="510" y="929" width="16" height="317"/>
<text class="l" x="545.45" y="992.78">2</text><text class="l" x="545.45" y="1098.47">0</text><text class="l" x="545.45" y="1204.16">−2</text>
<!-- panel r2 c1 -->
<svg x="637.65" y="941.59" width="291.76" height="291.76" viewBox="0 0 1400 1400" preserveAspectRatio="none" overflow="hidden"><use href="#P20"/></svg>
<path class="k" d="M639 1233v10M638 943h-10M753 1233v10M638 1057h-10M867 1233v10M638 1171h-10"/>
<rect class="k" x="638" y="942" width="291" height="291"/>
<rect x="948" y="929" width="16" height="317" fill="url(#vg)"/>
<path class="k" d="M964 982h10M964 1087h10M964 1193h10"/>
<rect class="k" x="948" y="929" width="16" height="317"/>
<text class="l" x="983.1" y="992.78">2</text><text class="l" x="983.1" y="1098.47">0</text><text class="l" x="983.1" y="1204.16">−2</text>
<!-- panel r2 c2 -->
<svg x="1075.29" y="941.59" width="291.76" height="291.76" viewBox="0 0 1400 1400" preserveAspectRatio="none" overflow="hidden"><g filter="url(#cmd2)"><g fill="none" stroke-linecap="round" stroke-linejoin="round"><rect x="-50" y="-50" width="1500" height="1500" fill="#828282" stroke="none"/></g><g fill="none" stroke-linecap="round" stroke-linejoin="round" filter="url(#b55)"><ellipse cx="300" cy="750" rx="300" ry="250" fill="#757575" stroke="none" fill-opacity="0.8"/><ellipse cx="330" cy="1100" rx="220" ry="90" fill="#909090" stroke="none" fill-opacity="0.8"/><ellipse cx="1250" cy="900" rx="150" ry="250" fill="#797979" stroke="none" fill-opacity="0.8"/><ellipse cx="950" cy="350" rx="200" ry="200" fill="#909090" stroke="none" fill-opacity="0.6"/><ellipse cx="800" cy="750" rx="200" ry="250" fill="#8e8e8e" stroke="none" fill-opacity="0.6"/></g><g fill="none" stroke-linecap="round" stroke-linejoin="round"><ellipse cx="850" cy="750" rx="400" ry="330" fill="#000" stroke="none" filter="url(#m1)" transform="rotate(-50 850 750)" opacity="0.6"/><ellipse cx="300" cy="250" rx="300" ry="250" fill="#000" stroke="none" filter="url(#m2)" transform="rotate(-60 300 250)" opacity="0.35"/><ellipse cx="1150" cy="1150" rx="250" ry="300" fill="#000" stroke="none" filter="url(#m2)" transform="rotate(70 1150 1150)" opacity="0.3"/><ellipse cx="300" cy="1050" rx="300" ry="220" fill="#000" stroke="none" filter="url(#m1)" transform="rotate(-20 300 1050)" opacity="0.4"/><ellipse cx="900" cy="150" rx="300" ry="150" fill="#000" stroke="none" filter="url(#m2)" transform="rotate(30 900 150)" opacity="0.5"/><ellipse cx="1200" cy="420" rx="230" ry="80" fill="#000" stroke="none" filter="url(#k2)" transform="rotate(-20 1200 420)"/><ellipse cx="1220" cy="410" rx="220" ry="80" fill="#000" stroke="none" filter="url(#c1)" transform="rotate(-20 1220 410)"/><ellipse cx="80" cy="430" rx="100" ry="80" fill="#000" stroke="none" filter="url(#k2)" transform="rotate(20 80 430)"/><ellipse cx="80" cy="430" rx="90" ry="70" fill="#000" stroke="none" filter="url(#c2)" transform="rotate(20 80 430)"/><ellipse cx="860" cy="70" rx="190" ry="70" fill="#000" stroke="none" filter="url(#c1)" transform="rotate(0 860 70)"/><ellipse cx="860" cy="770" rx="280" ry="160" fill="#000" stroke="none" filter="url(#c2)" transform="rotate(-50 860 770)"/><ellipse cx="830" cy="700" rx="200" ry="130" fill="#000" stroke="none" filter="url(#k1)" transform="rotate(-50 830 700)" opacity="0.7"/><ellipse cx="950" cy="880" rx="110" ry="110" fill="#000" stroke="none" filter="url(#c1)" transform="rotate(40 950 880)" opacity="0.9"/><ellipse cx="700" cy="1080" rx="100" ry="110" fill="#000" stroke="none" filter="url(#c1)" transform="rotate(0 700 1080)" opacity="0.9"/><ellipse cx="980" cy="300" rx="130" ry="170" fill="#000" stroke="none" filter="url(#k3)" transform="rotate(60 980 300)" opacity="0.7"/><ellipse cx="1000" cy="1370" rx="100" ry="40" fill="#000" stroke="none" filter="url(#k1)" transform="rotate(0 1000 1370)" opacity="0.7"/><ellipse cx="250" cy="520" rx="70" ry="70" fill="#000" stroke="none" filter="url(#k3)" transform="rotate(0 250 520)" opacity="0.6"/></g><g fill="none" stroke-linecap="round" stroke-linejoin="round" filter="url(#b8)"><ellipse cx="1340" cy="350" rx="40" ry="28" fill="#1a1a1a" stroke="none"/><ellipse cx="1170" cy="400" rx="22" ry="22" fill="#1e1e1e" stroke="none"/></g><g fill="none" stroke-linecap="round" stroke-linejoin="round" filter="url(#b4)"><ellipse cx="1240" cy="380" rx="16" ry="26" fill="#e6e6e6" stroke="none"/></g><g fill="none" stroke-linecap="round" stroke-linejoin="round" filter="url(#b8)"><ellipse cx="760" cy="80" rx="22" ry="28" fill="#242424" stroke="none"/><ellipse cx="860" cy="870" rx="16" ry="30" fill="#242424" stroke="none"/></g><g fill="none" stroke-linecap="round" stroke-linejoin="round" filter="url(#b4)"><path d="M640 1090C642 1098 642 1130 650 1140C658 1150 683 1148 690 1150" stroke="#1e1e1e" stroke-width="16"/><path d="M650 1080L720 1060" stroke="#242424" stroke-width="14"/><ellipse cx="750" cy="1090" rx="14" ry="14" fill="#e6e6e6" stroke="none"/><ellipse cx="60" cy="390" rx="30" ry="14" fill="#e6e6e6" stroke="none" transform="rotate(20 60 390)"/><ellipse cx="130" cy="440" rx="26" ry="14" fill="#202020" stroke="none"/></g></g></svg>
<path class="k" d="M1076 1233v10M1075 943h-10M1190 1233v10M1075 1057h-10M1304 1233v10M1075 1171h-10"/>
<rect class="k" x="1075" y="942" width="292" height="291"/>
<rect x="1385" y="929" width="16" height="317" fill="url(#vg)"/>
<path class="k" d="M1401 929h10M1401 1008h10M1401 1087h10M1401 1167h10M1401 1246h10"/>
<rect class="k" x="1385" y="929" width="16" height="317"/>
<text class="l" x="1420.75" y="939.94">0.10</text><text class="l" x="1420.75" y="1019.21">0.05</text><text class="l" x="1420.75" y="1098.47">0.00</text><text class="l" x="1420.75" y="1177.74">−0.05</text><text class="l" x="1420.75" y="1257">−0.10</text>
<text class="t" x="226.5" y="163.9">HW2D Δ<tspan class="i">t</tspan><tspan font-size="23.33px" dy="5">i</tspan><tspan dy="-5">=</tspan><tspan dx="0.8">0</tspan><tspan dx="1.2">.</tspan><tspan dx="-2">8</tspan></text>
<text class="t" x="783.53" y="163.9" text-anchor="middle">FI-Conv Prediction</text>
<text class="t" x="1220.68" y="163.9" text-anchor="middle">Difference</text>
<text class="l" transform="translate(170.2 327.53) rotate(-90)" text-anchor="middle"><tspan style="font-kerning:none">Vorticity</tspan> Ω</text>
<text class="l" transform="translate(170.2 707) rotate(-90)" text-anchor="middle">Potential <tspan class="i">ϕ</tspan></text>
<text class="l" transform="translate(170.2 1087.47) rotate(-90)" text-anchor="middle">Density <tspan class="i">n</tspan></text>
<text class="m" x="1359.51" y="456.06" text-anchor="end">MSE 0.1973</text>
<text class="m" x="1359.51" y="836.53" text-anchor="end">MSE 0.0153</text>
<text class="m" x="1359.51" y="1217" text-anchor="end">MSE 0.0315</text>
</svg>
</body>
</html>
